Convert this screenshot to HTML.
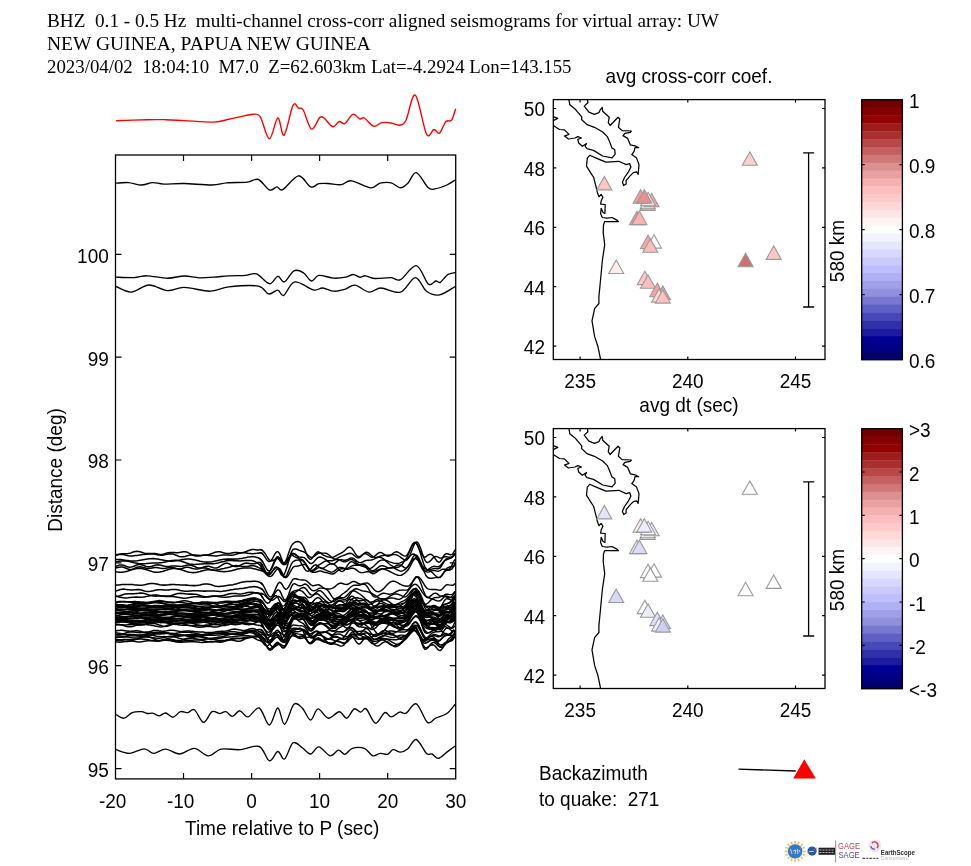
<!DOCTYPE html>
<html><head><meta charset="utf-8"><style>
html,body{margin:0;padding:0;background:#fff;width:971px;height:866px;overflow:hidden}
svg{display:block;will-change:transform}
text{white-space:pre}
</style></head><body>
<svg width="971" height="866" viewBox="0 0 971 866">
<text x="47.0" y="27.4" font-family="'Liberation Serif'" font-size="19" text-anchor="start" textLength="672" lengthAdjust="spacingAndGlyphs">BHZ  0.1 - 0.5 Hz  multi-channel cross-corr aligned seismograms for virtual array: UW</text>
<text x="47.0" y="50.3" font-family="'Liberation Serif'" font-size="19" text-anchor="start" textLength="323.5" lengthAdjust="spacingAndGlyphs">NEW GUINEA, PAPUA NEW GUINEA</text>
<text x="47.0" y="73.2" font-family="'Liberation Serif'" font-size="19" text-anchor="start" textLength="524.5" lengthAdjust="spacingAndGlyphs">2023/04/02  18:04:10  M7.0  Z=62.603km Lat=-4.2924 Lon=143.155</text>
<path d="M116.1,120.8 C121.3,120.6 138.8,119.9 147.1,119.7 C155.3,119.5 159.4,119.6 165.6,119.7 C171.8,119.8 176.2,120.2 184.2,120.6 C192.2,121.0 206.4,122.3 213.8,122.1 C221.2,121.9 224.4,120.2 228.7,119.3 C233.0,118.4 235.8,117.7 239.8,116.9 C243.8,116.1 249.4,114.3 252.8,114.3 C256.2,114.3 257.4,112.8 260.2,116.9 C263.0,121.0 266.5,138.6 269.4,138.8 C272.3,139.0 275.4,118.6 277.8,118.0 C280.2,117.4 281.6,137.2 284.1,135.1 C286.6,133.0 290.6,109.9 293.0,105.4 C295.4,100.9 296.8,107.4 298.5,108.2 C300.2,109.0 301.0,106.5 303.2,110.0 C305.4,113.5 308.7,127.9 311.5,129.1 C314.3,130.3 317.7,119.2 319.9,117.4 C322.1,115.6 322.4,116.9 324.5,118.4 C326.6,120.0 330.3,126.2 332.8,126.7 C335.3,127.2 337.3,122.0 339.3,121.5 C341.3,121.0 342.6,124.8 344.9,123.6 C347.2,122.4 350.4,115.1 352.9,114.3 C355.4,113.5 357.8,118.3 359.7,118.9 C361.6,119.5 362.1,116.8 364.4,118.0 C366.7,119.2 370.7,125.4 373.6,126.2 C376.5,127.0 379.1,123.1 382.0,122.6 C384.9,122.1 388.3,122.6 391.2,123.0 C394.1,123.4 397.1,125.7 399.6,125.2 C402.1,124.7 403.4,125.2 406.0,120.2 C408.6,115.2 411.9,92.9 415.3,95.2 C418.7,97.5 423.4,128.4 426.5,134.1 C429.6,139.8 431.8,129.7 433.9,129.5 C436.0,129.3 437.4,134.5 439.4,133.2 C441.4,131.9 443.9,123.7 445.9,121.5 C447.9,119.3 449.9,122.3 451.5,120.2 C453.1,118.1 455.0,110.6 455.7,108.7" stroke="#ff0000" stroke-width="1.4" fill="none"/>
<rect x="115.5" y="155.0" width="340.2" height="623.9" fill="none" stroke="#000" stroke-width="1.3"/>
<text x="112.7" y="807.5" font-family="'Liberation Sans'" font-size="20.3" text-anchor="middle"  textLength="27.47" lengthAdjust="spacingAndGlyphs">-20</text>
<text x="180.7" y="807.5" font-family="'Liberation Sans'" font-size="20.3" text-anchor="middle"  textLength="27.47" lengthAdjust="spacingAndGlyphs">-10</text>
<text x="251.6" y="807.5" font-family="'Liberation Sans'" font-size="20.3" text-anchor="middle"  textLength="10.58" lengthAdjust="spacingAndGlyphs">0</text>
<text x="319.6" y="807.5" font-family="'Liberation Sans'" font-size="20.3" text-anchor="middle"  textLength="21.14" lengthAdjust="spacingAndGlyphs">10</text>
<text x="387.7" y="807.5" font-family="'Liberation Sans'" font-size="20.3" text-anchor="middle"  textLength="21.14" lengthAdjust="spacingAndGlyphs">20</text>
<text x="455.7" y="807.5" font-family="'Liberation Sans'" font-size="20.3" text-anchor="middle"  textLength="21.14" lengthAdjust="spacingAndGlyphs">30</text>
<text x="108.8" y="262.6" font-family="'Liberation Sans'" font-size="20.3" text-anchor="end"  textLength="31.70" lengthAdjust="spacingAndGlyphs">100</text>
<text x="108.8" y="365.5" font-family="'Liberation Sans'" font-size="20.3" text-anchor="end"  textLength="21.14" lengthAdjust="spacingAndGlyphs">99</text>
<text x="108.8" y="468.3" font-family="'Liberation Sans'" font-size="20.3" text-anchor="end"  textLength="21.14" lengthAdjust="spacingAndGlyphs">98</text>
<text x="108.8" y="571.2" font-family="'Liberation Sans'" font-size="20.3" text-anchor="end"  textLength="21.14" lengthAdjust="spacingAndGlyphs">97</text>
<text x="108.8" y="674.0" font-family="'Liberation Sans'" font-size="20.3" text-anchor="end"  textLength="21.14" lengthAdjust="spacingAndGlyphs">96</text>
<text x="108.8" y="776.9" font-family="'Liberation Sans'" font-size="20.3" text-anchor="end"  textLength="21.14" lengthAdjust="spacingAndGlyphs">95</text>
<path d="M183.5,155.0 v6 M183.5,778.9 v-6 M251.6,155.0 v6 M251.6,778.9 v-6 M319.6,155.0 v6 M319.6,778.9 v-6 M387.7,155.0 v6 M387.7,778.9 v-6 M115.5,254.3 h6 M455.7,254.3 h-6 M115.5,357.2 h6 M455.7,357.2 h-6 M115.5,460.0 h6 M455.7,460.0 h-6 M115.5,562.9 h6 M455.7,562.9 h-6 M115.5,665.7 h6 M455.7,665.7 h-6 M115.5,768.6 h6 M455.7,768.6 h-6" stroke="#000" stroke-width="1.2" fill="none"/>
<text x="185.0" y="835.2" font-family="'Liberation Sans'" font-size="20.3" text-anchor="start"  textLength="194.28" lengthAdjust="spacingAndGlyphs">Time relative to P (sec)</text>
<text x="61.5" y="470.0" font-family="'Liberation Sans'" font-size="20.3" text-anchor="middle" transform="rotate(-90 61.5 470.0)" textLength="123.56" lengthAdjust="spacingAndGlyphs">Distance (deg)</text>
<g stroke="#000" stroke-width="1.35" fill="none" stroke-linejoin="round">
<path d="M116.1,183.2 C118.2,183.1 124.3,182.3 128.5,182.6 C132.7,182.9 137.5,185.0 141.5,185.0 C145.5,185.0 148.9,182.8 152.6,182.6 C156.3,182.4 158.5,183.9 163.8,184.1 C169.1,184.2 176.2,183.3 184.2,183.5 C192.2,183.7 204.9,185.1 212.0,185.0 C219.1,184.9 220.9,183.3 226.8,182.8 C232.7,182.3 241.9,182.8 247.2,182.2 C252.4,181.6 254.6,178.2 258.3,179.5 C262.0,180.8 266.3,188.8 269.4,190.0 C272.5,191.2 274.7,187.0 276.9,186.9 C279.1,186.8 279.2,191.5 282.8,189.7 C286.4,187.8 293.9,176.3 298.5,175.8 C303.1,175.3 307.2,185.6 310.6,186.9 C314.0,188.2 316.0,184.3 318.9,183.7 C321.8,183.1 324.5,183.3 328.2,183.5 C331.9,183.7 337.3,185.1 341.2,184.7 C345.1,184.2 346.5,180.3 351.4,180.8 C356.3,181.3 366.0,187.4 370.8,187.8 C375.6,188.2 376.7,184.0 380.1,183.2 C383.5,182.4 387.8,182.0 391.2,182.8 C394.6,183.6 397.7,187.7 400.5,187.8 C403.3,187.9 405.3,185.7 407.9,183.2 C410.5,180.7 412.9,171.8 416.3,172.6 C419.7,173.4 425.1,185.1 428.3,187.8 C431.5,190.5 432.6,189.2 435.7,188.7 C438.8,188.2 443.6,186.4 446.9,185.0 C450.1,183.6 453.8,180.8 455.2,180.0"/>
<path d="M116.1,277.2 C119.1,277.3 128.9,277.8 134.1,277.6 C139.3,277.4 141.5,275.7 147.1,275.8 C152.7,275.9 161.3,278.2 167.5,278.2 C173.7,278.2 178.9,276.1 184.2,276.0 C189.4,275.9 194.1,277.6 199.0,277.8 C203.9,278.0 208.9,277.5 213.8,277.2 C218.8,276.9 223.4,276.1 228.7,275.8 C233.9,275.5 240.7,275.7 245.3,275.4 C249.9,275.1 252.5,272.5 256.5,273.9 C260.5,275.3 265.8,283.3 269.4,283.7 C272.9,284.1 275.3,276.6 277.8,276.3 C280.3,276.0 281.6,282.8 284.3,281.9 C287.0,281.0 290.8,272.4 293.9,270.8 C297.0,269.2 300.3,270.9 303.2,272.6 C306.1,274.3 308.9,280.5 311.5,281.0 C314.1,281.5 315.2,275.9 318.9,275.4 C322.6,274.9 329.3,277.9 333.8,278.2 C338.3,278.5 342.6,277.8 345.8,277.2 C349.0,276.6 350.9,274.5 353.2,274.5 C355.5,274.5 357.7,277.0 359.7,277.2 C361.7,277.4 362.8,275.6 365.3,275.8 C367.8,276.0 370.3,278.2 374.6,278.5 C378.9,278.8 386.9,277.4 391.2,277.6 C395.5,277.8 396.3,281.7 400.5,279.7 C404.7,277.7 411.7,264.9 416.3,265.6 C420.9,266.3 425.1,281.5 428.3,284.1 C431.5,286.7 433.7,281.3 435.7,281.0 C437.7,280.7 438.4,283.4 440.4,282.3 C442.4,281.2 445.3,276.1 447.8,274.5 C450.3,272.9 454.0,272.9 455.2,272.6"/>
<path d="M116.1,286.5 C118.6,287.4 125.8,292.4 131.3,292.1 C136.8,291.9 142.9,285.2 148.9,285.0 C154.9,284.8 161.6,290.2 167.5,290.6 C173.4,291.0 177.1,287.3 184.2,287.4 C191.3,287.5 202.7,291.3 210.1,291.2 C217.5,291.1 220.7,287.8 228.7,286.9 C236.7,286.0 251.7,284.9 258.3,286.1 C264.9,287.3 265.2,293.2 268.5,293.9 C271.8,294.6 275.3,289.9 277.8,290.2 C280.3,290.4 280.9,296.8 283.7,295.4 C286.5,294.0 289.9,282.8 294.8,281.9 C299.8,281.0 308.8,288.9 313.4,289.9 C318.0,290.9 319.2,287.8 322.6,288.0 C326.0,288.2 330.1,291.0 333.8,291.2 C337.5,291.4 341.3,290.3 344.9,289.3 C348.4,288.3 351.1,284.7 355.1,285.2 C359.1,285.7 364.7,291.6 369.0,292.1 C373.3,292.6 375.8,288.0 381.0,288.0 C386.2,288.0 394.8,293.8 400.5,292.1 C406.2,290.4 411.0,277.8 415.3,277.6 C419.6,277.5 422.5,288.3 426.5,291.2 C430.5,294.1 434.6,295.7 439.4,294.9 C444.2,294.1 452.6,287.9 455.2,286.5"/>
<path d="M116.1,714.5 C117.4,715.1 121.2,718.5 123.9,718.2 C126.6,717.9 129.3,713.7 132.2,712.6 C135.1,711.5 139.0,711.6 141.5,711.7 C144.0,711.9 145.2,713.2 147.1,713.5 C148.9,713.8 150.6,712.8 152.6,713.2 C154.6,713.6 156.9,715.8 159.1,715.8 C161.3,715.8 163.3,712.8 165.6,713.0 C167.9,713.2 170.5,717.4 173.0,717.2 C175.5,717.0 177.9,712.5 180.4,711.7 C182.9,710.9 185.6,712.9 187.9,712.6 C190.2,712.3 191.8,708.2 194.4,709.8 C197.0,711.4 200.7,722.1 203.6,722.4 C206.5,722.7 209.4,713.2 212.0,711.7 C214.6,710.2 217.1,713.5 219.4,713.5 C221.7,713.5 223.7,711.2 225.9,711.7 C228.1,712.2 230.1,716.4 232.4,716.3 C234.7,716.1 237.2,710.7 239.8,710.8 C242.4,710.9 244.9,717.4 248.1,716.9 C251.3,716.4 255.6,706.6 259.2,708.0 C262.8,709.4 266.3,725.0 269.4,725.0 C272.5,725.0 275.3,708.1 277.8,708.0 C280.3,707.9 281.9,724.9 284.6,724.3 C287.3,723.7 291.0,707.0 293.9,704.3 C296.8,701.6 299.4,705.4 302.2,708.0 C305.0,710.6 308.0,719.9 310.6,720.0 C313.2,720.1 315.1,709.2 318.0,708.9 C320.9,708.6 324.6,717.7 328.2,718.2 C331.8,718.7 336.2,711.7 339.3,711.7 C342.4,711.7 344.2,718.7 346.7,718.2 C349.2,717.7 351.9,709.9 354.2,708.9 C356.5,707.9 358.6,712.1 360.6,712.1 C362.6,712.1 363.7,707.0 366.2,708.9 C368.7,710.8 372.4,722.6 375.5,723.2 C378.6,723.8 382.1,713.7 384.7,712.6 C387.3,711.5 388.7,717.0 391.2,716.9 C393.7,716.8 397.1,712.7 399.6,712.1 C402.1,711.5 403.3,714.6 406.1,713.2 C408.9,711.8 412.8,702.4 416.3,703.9 C419.9,705.4 424.2,720.0 427.4,722.4 C430.6,724.8 432.4,719.7 435.7,718.2 C438.9,716.7 443.6,715.8 446.9,713.5 C450.1,711.2 453.8,705.8 455.2,704.3"/>
<path d="M116.1,749.7 C118.3,750.3 124.8,753.5 129.5,753.4 C134.2,753.2 140.3,748.8 144.3,748.8 C148.3,748.8 150.1,753.3 153.6,753.4 C157.1,753.5 161.3,749.0 165.6,749.1 C169.9,749.2 174.7,754.1 179.5,754.0 C184.3,753.9 189.6,748.1 194.4,748.4 C199.2,748.7 203.8,755.7 208.3,755.8 C212.8,755.9 215.9,750.1 221.2,749.1 C226.4,748.1 233.5,750.1 239.8,749.7 C246.1,749.3 254.3,744.6 259.2,746.5 C264.1,748.4 266.3,760.0 269.4,760.8 C272.5,761.6 275.3,751.8 277.8,751.5 C280.3,751.2 282.1,760.5 284.6,759.0 C287.1,757.5 290.1,744.7 293.0,742.8 C295.9,740.9 299.3,745.9 302.2,747.8 C305.1,749.7 307.8,754.1 310.6,754.0 C313.4,753.9 315.6,746.6 318.9,746.9 C322.1,747.2 326.9,755.2 330.1,755.8 C333.4,756.3 335.9,750.5 338.4,750.2 C340.9,750.0 342.6,754.6 344.9,754.3 C347.2,754.0 349.1,749.4 352.3,748.4 C355.6,747.4 361.0,747.2 364.4,748.4 C367.8,749.6 370.1,755.0 372.7,755.8 C375.3,756.6 377.6,753.6 380.1,753.4 C382.6,753.1 385.3,754.9 387.5,754.3 C389.7,753.7 390.9,750.1 393.1,749.7 C395.3,749.3 398.0,752.2 400.5,752.1 C403.0,752.0 405.3,750.9 407.9,748.8 C410.5,746.7 413.2,738.7 416.3,739.5 C419.4,740.3 423.9,751.0 426.5,753.4 C429.1,755.8 430.0,753.2 432.0,754.0 C434.0,754.8 436.0,758.7 438.5,758.4 C441.0,758.1 444.1,754.2 446.9,752.1 C449.7,750.0 453.8,747.0 455.2,746.0"/>
<g stroke-width="1.55"><path d="M116.0,554.8 L117.5,554.5 L119.0,554.2 L120.5,553.9 L122.0,553.8 L123.5,553.8 L125.0,553.8 L126.5,553.8 L128.0,553.6 L129.5,553.3 L131.0,552.9 L132.5,552.3 L134.0,551.8 L135.5,551.4 L137.0,551.3 L138.5,551.4 L140.0,551.7 L141.5,552.2 L143.0,552.8 L144.5,553.2 L146.0,553.5 L147.5,553.6 L149.0,553.6 L150.5,553.5 L152.0,553.4 L153.5,553.4 L155.0,553.6 L156.5,553.8 L158.0,554.1 L159.5,554.3 L161.0,554.4 L162.5,554.3 L164.0,554.0 L165.5,553.5 L167.0,553.0 L168.5,552.7 L170.0,552.4 L171.5,552.4 L173.0,552.5 L174.5,552.6 L176.0,552.7 L177.5,552.7 L179.0,552.5 L180.5,552.3 L182.0,552.0 L183.5,551.8 L185.0,551.8 L186.5,552.1 L188.0,552.6 L189.5,553.4 L191.0,554.2 L192.5,555.0 L194.0,555.5 L195.5,555.9 L197.0,556.0 L198.5,555.9 L200.0,555.7 L201.5,555.4 L203.0,555.2 L204.5,555.1 L206.0,555.0 L207.5,554.8 L209.0,554.5 L210.5,554.1 L212.0,553.5 L213.5,552.9 L215.0,552.3 L216.5,551.9 L218.0,551.7 L219.5,551.7 L221.0,552.0 L222.5,552.5 L224.0,552.9 L225.5,553.3 L227.0,553.5 L228.5,553.5 L230.0,553.4 L231.5,553.1 L233.0,552.8 L234.5,552.6 L236.0,552.5 L237.5,552.6 L239.0,552.7 L240.5,552.8 L242.0,552.7 L243.5,552.5 L245.0,552.0 L246.5,551.4 L248.0,550.8 L249.5,550.2 L251.0,549.8 L252.5,549.5 L254.0,549.5 L255.5,549.7 L257.0,549.9 L258.5,549.9 L260.0,549.6 L261.5,549.9 L263.0,550.9"/>
<path d="M116.0,555.3 L117.5,554.9 L119.0,554.5 L120.5,554.4 L122.0,554.4 L123.5,554.6 L125.0,555.0 L126.5,555.3 L128.0,555.7 L129.5,555.9 L131.0,556.0 L132.5,556.0 L134.0,555.8 L135.5,555.6 L137.0,555.4 L138.5,555.2 L140.0,555.0 L141.5,554.8 L143.0,554.6 L144.5,554.4 L146.0,554.3 L147.5,554.1 L149.0,553.9 L150.5,553.9 L152.0,553.9 L153.5,554.0 L155.0,554.3 L156.5,554.6 L158.0,554.9 L159.5,555.1 L161.0,555.2 L162.5,555.2 L164.0,555.0 L165.5,554.6 L167.0,554.3 L168.5,554.0 L170.0,553.8 L171.5,553.9 L173.0,554.1 L174.5,554.6 L176.0,555.2 L177.5,555.8 L179.0,556.4 L180.5,556.7 L182.0,556.8 L183.5,556.7 L185.0,556.4 L186.5,556.0 L188.0,555.6 L189.5,555.3 L191.0,555.0 L192.5,555.0 L194.0,555.0 L195.5,555.1 L197.0,555.2 L198.5,555.3 L200.0,555.4 L201.5,555.4 L203.0,555.3 L204.5,555.2 L206.0,555.2 L207.5,555.2 L209.0,555.4 L210.5,555.5 L212.0,555.7 L213.5,555.8 L215.0,555.9 L216.5,555.9 L218.0,555.7 L219.5,555.5 L221.0,555.3 L222.5,555.1 L224.0,554.9 L225.5,554.9 L227.0,555.0 L228.5,555.1 L230.0,555.2 L231.5,555.2 L233.0,555.0 L234.5,554.7 L236.0,554.3 L237.5,553.8 L239.0,553.3 L240.5,552.9 L242.0,552.7 L243.5,552.6 L245.0,552.7 L246.5,552.9 L248.0,553.2 L249.5,553.4 L251.0,553.6 L252.5,553.7 L254.0,553.6 L255.5,553.4 L257.0,553.2 L258.5,552.9 L260.0,552.7 L261.5,552.9 L263.0,554.3"/>
<path d="M116.0,559.4 L117.5,559.4 L119.0,559.5 L120.5,559.6 L122.0,559.8 L123.5,560.0 L125.0,560.2 L126.5,560.4 L128.0,560.6 L129.5,560.8 L131.0,560.9 L132.5,560.9 L134.0,560.9 L135.5,560.9 L137.0,560.8 L138.5,560.6 L140.0,560.3 L141.5,560.1 L143.0,559.8 L144.5,559.5 L146.0,559.2 L147.5,559.0 L149.0,558.8 L150.5,558.7 L152.0,558.6 L153.5,558.6 L155.0,558.7 L156.5,558.9 L158.0,559.1 L159.5,559.4 L161.0,559.7 L162.5,560.0 L164.0,560.3 L165.5,560.6 L167.0,560.8 L168.5,561.0 L170.0,561.1 L171.5,561.1 L173.0,561.1 L174.5,561.0 L176.0,560.8 L177.5,560.5 L179.0,560.2 L180.5,559.9 L182.0,559.6 L183.5,559.4 L185.0,559.2 L186.5,559.0 L188.0,559.0 L189.5,559.0 L191.0,559.2 L192.5,559.4 L194.0,559.7 L195.5,560.1 L197.0,560.4 L198.5,560.8 L200.0,561.2 L201.5,561.5 L203.0,561.8 L204.5,562.0 L206.0,562.1 L207.5,562.1 L209.0,562.0 L210.5,561.9 L212.0,561.7 L213.5,561.4 L215.0,561.1 L216.5,560.8 L218.0,560.4 L219.5,560.1 L221.0,559.8 L222.5,559.5 L224.0,559.3 L225.5,559.2 L227.0,559.1 L228.5,559.1 L230.0,559.1 L231.5,559.1 L233.0,559.1 L234.5,559.1 L236.0,559.0 L237.5,558.9 L239.0,558.8 L240.5,558.6 L242.0,558.4 L243.5,558.1 L245.0,557.8 L246.5,557.4 L248.0,557.1 L249.5,556.9 L251.0,556.7 L252.5,556.6 L254.0,556.7 L255.5,556.9 L257.0,557.4 L258.5,558.0 L260.0,558.8 L261.5,560.1 L263.0,562.4"/>
<path d="M116.0,561.7 L117.5,561.5 L119.0,561.2 L120.5,561.0 L122.0,560.9 L123.5,560.8 L125.0,560.9 L126.5,561.0 L128.0,561.2 L129.5,561.5 L131.0,561.9 L132.5,562.3 L134.0,562.7 L135.5,563.0 L137.0,563.3 L138.5,563.6 L140.0,563.7 L141.5,563.8 L143.0,563.8 L144.5,563.7 L146.0,563.6 L147.5,563.4 L149.0,563.3 L150.5,563.2 L152.0,563.1 L153.5,563.0 L155.0,563.0 L156.5,562.9 L158.0,562.9 L159.5,562.8 L161.0,562.7 L162.5,562.5 L164.0,562.2 L165.5,561.9 L167.0,561.6 L168.5,561.3 L170.0,560.9 L171.5,560.6 L173.0,560.4 L174.5,560.3 L176.0,560.3 L177.5,560.5 L179.0,560.7 L180.5,561.1 L182.0,561.6 L183.5,562.1 L185.0,562.6 L186.5,563.1 L188.0,563.5 L189.5,563.9 L191.0,564.2 L192.5,564.3 L194.0,564.4 L195.5,564.4 L197.0,564.3 L198.5,564.2 L200.0,564.1 L201.5,564.0 L203.0,563.9 L204.5,563.8 L206.0,563.8 L207.5,563.8 L209.0,563.8 L210.5,563.8 L212.0,563.7 L213.5,563.7 L215.0,563.5 L216.5,563.2 L218.0,562.9 L219.5,562.5 L221.0,562.1 L222.5,561.7 L224.0,561.4 L225.5,561.0 L227.0,560.8 L228.5,560.6 L230.0,560.5 L231.5,560.5 L233.0,560.6 L234.5,560.6 L236.0,560.7 L237.5,560.8 L239.0,560.9 L240.5,560.9 L242.0,560.8 L243.5,560.7 L245.0,560.6 L246.5,560.5 L248.0,560.5 L249.5,560.4 L251.0,560.5 L252.5,560.8 L254.0,561.2 L255.5,561.9 L257.0,562.8 L258.5,563.8 L260.0,564.9 L261.5,566.8 L263.0,569.1"/>
<path d="M116.0,566.3 L117.5,565.7 L119.0,565.1 L120.5,564.9 L122.0,564.9 L123.5,565.2 L125.0,565.8 L126.5,566.4 L128.0,566.9 L129.5,567.2 L131.0,567.1 L132.5,566.7 L134.0,566.2 L135.5,565.5 L137.0,564.9 L138.5,564.5 L140.0,564.5 L141.5,564.7 L143.0,565.2 L144.5,565.8 L146.0,566.4 L147.5,566.7 L149.0,566.8 L150.5,566.6 L152.0,566.2 L153.5,565.7 L155.0,565.2 L156.5,564.9 L158.0,564.8 L159.5,564.9 L161.0,565.3 L162.5,565.7 L164.0,566.1 L165.5,566.4 L167.0,566.5 L168.5,566.4 L170.0,566.3 L171.5,566.1 L173.0,566.0 L174.5,566.0 L176.0,566.0 L177.5,566.2 L179.0,566.3 L180.5,566.4 L182.0,566.3 L183.5,566.0 L185.0,565.7 L186.5,565.3 L188.0,565.1 L189.5,565.0 L191.0,565.2 L192.5,565.7 L194.0,566.3 L195.5,567.0 L197.0,567.5 L198.5,567.9 L200.0,567.9 L201.5,567.7 L203.0,567.3 L204.5,566.8 L206.0,566.4 L207.5,566.2 L209.0,566.3 L210.5,566.7 L212.0,567.2 L213.5,567.7 L215.0,568.0 L216.5,567.9 L218.0,567.5 L219.5,566.7 L221.0,565.7 L222.5,564.7 L224.0,563.8 L225.5,563.3 L227.0,563.2 L228.5,563.6 L230.0,564.3 L231.5,565.2 L233.0,565.9 L234.5,566.5 L236.0,566.6 L237.5,566.4 L239.0,565.9 L240.5,565.2 L242.0,564.4 L243.5,563.7 L245.0,563.3 L246.5,563.1 L248.0,563.2 L249.5,563.4 L251.0,563.7 L252.5,563.8 L254.0,563.8 L255.5,563.5 L257.0,562.9 L258.5,562.3 L260.0,562.4 L261.5,563.8 L263.0,566.3"/>
<path d="M116.0,568.1 L117.5,567.6 L119.0,567.2 L120.5,566.9 L122.0,566.9 L123.5,567.2 L125.0,567.8 L126.5,568.5 L128.0,569.1 L129.5,569.5 L131.0,569.5 L132.5,569.2 L134.0,568.6 L135.5,567.9 L137.0,567.3 L138.5,566.9 L140.0,566.8 L141.5,567.0 L143.0,567.4 L144.5,567.8 L146.0,568.2 L147.5,568.4 L149.0,568.3 L150.5,568.2 L152.0,567.9 L153.5,567.7 L155.0,567.5 L156.5,567.6 L158.0,567.8 L159.5,568.1 L161.0,568.3 L162.5,568.4 L164.0,568.4 L165.5,568.2 L167.0,567.9 L168.5,567.7 L170.0,567.5 L171.5,567.6 L173.0,567.8 L174.5,568.1 L176.0,568.5 L177.5,568.8 L179.0,568.9 L180.5,568.7 L182.0,568.4 L183.5,568.0 L185.0,567.6 L186.5,567.3 L188.0,567.3 L189.5,567.5 L191.0,567.9 L192.5,568.4 L194.0,568.8 L195.5,569.0 L197.0,569.0 L198.5,568.8 L200.0,568.5 L201.5,568.1 L203.0,567.9 L204.5,567.9 L206.0,568.1 L207.5,568.5 L209.0,569.0 L210.5,569.5 L212.0,570.0 L213.5,570.2 L215.0,570.3 L216.5,570.1 L218.0,569.8 L219.5,569.5 L221.0,569.1 L222.5,568.8 L224.0,568.5 L225.5,568.1 L227.0,567.8 L228.5,567.4 L230.0,567.0 L231.5,566.5 L233.0,566.1 L234.5,565.8 L236.0,565.6 L237.5,565.7 L239.0,565.9 L240.5,566.1 L242.0,566.4 L243.5,566.6 L245.0,566.6 L246.5,566.5 L248.0,566.3 L249.5,566.0 L251.0,565.7 L252.5,565.6 L254.0,565.8 L255.5,566.2 L257.0,566.8 L258.5,567.6 L260.0,568.2 L261.5,568.8 L263.0,569.9"/>
<path d="M116.0,571.8 L117.5,572.1 L119.0,572.2 L120.5,572.2 L122.0,572.2 L123.5,572.0 L125.0,571.8 L126.5,571.4 L128.0,571.0 L129.5,570.5 L131.0,570.1 L132.5,569.6 L134.0,569.2 L135.5,568.8 L137.0,568.6 L138.5,568.5 L140.0,568.5 L141.5,568.6 L143.0,568.8 L144.5,569.2 L146.0,569.6 L147.5,570.1 L149.0,570.6 L150.5,571.1 L152.0,571.6 L153.5,571.9 L155.0,572.2 L156.5,572.3 L158.0,572.3 L159.5,572.1 L161.0,571.8 L162.5,571.5 L164.0,571.0 L165.5,570.5 L167.0,570.0 L168.5,569.5 L170.0,569.0 L171.5,568.7 L173.0,568.5 L174.5,568.4 L176.0,568.5 L177.5,568.7 L179.0,569.0 L180.5,569.4 L182.0,569.9 L183.5,570.5 L185.0,571.0 L186.5,571.5 L188.0,571.9 L189.5,572.3 L191.0,572.5 L192.5,572.6 L194.0,572.6 L195.5,572.4 L197.0,572.2 L198.5,571.8 L200.0,571.5 L201.5,571.1 L203.0,570.7 L204.5,570.3 L206.0,570.0 L207.5,569.8 L209.0,569.8 L210.5,569.8 L212.0,569.9 L213.5,570.1 L215.0,570.4 L216.5,570.7 L218.0,571.0 L219.5,571.2 L221.0,571.5 L222.5,571.6 L224.0,571.7 L225.5,571.6 L227.0,571.5 L228.5,571.3 L230.0,571.0 L231.5,570.7 L233.0,570.3 L234.5,569.9 L236.0,569.5 L237.5,569.1 L239.0,568.8 L240.5,568.5 L242.0,568.3 L243.5,568.1 L245.0,568.0 L246.5,567.9 L248.0,567.9 L249.5,568.0 L251.0,568.1 L252.5,568.4 L254.0,568.7 L255.5,569.0 L257.0,569.5 L258.5,569.9 L260.0,570.3 L261.5,570.6 L263.0,571.2"/>
<path d="M116.0,585.3 L117.5,585.1 L119.0,584.9 L120.5,584.7 L122.0,584.6 L123.5,584.5 L125.0,584.5 L126.5,584.4 L128.0,584.4 L129.5,584.4 L131.0,584.5 L132.5,584.6 L134.0,584.8 L135.5,584.9 L137.0,585.1 L138.5,585.3 L140.0,585.3 L141.5,585.3 L143.0,585.1 L144.5,584.8 L146.0,584.4 L147.5,584.0 L149.0,583.7 L150.5,583.5 L152.0,583.4 L153.5,583.5 L155.0,583.7 L156.5,584.0 L158.0,584.3 L159.5,584.7 L161.0,584.9 L162.5,585.1 L164.0,585.1 L165.5,585.1 L167.0,584.9 L168.5,584.8 L170.0,584.6 L171.5,584.6 L173.0,584.5 L174.5,584.6 L176.0,584.7 L177.5,584.7 L179.0,584.8 L180.5,584.9 L182.0,585.0 L183.5,585.0 L185.0,585.1 L186.5,585.1 L188.0,585.2 L189.5,585.4 L191.0,585.5 L192.5,585.6 L194.0,585.6 L195.5,585.6 L197.0,585.5 L198.5,585.2 L200.0,584.9 L201.5,584.5 L203.0,584.2 L204.5,584.0 L206.0,583.9 L207.5,584.0 L209.0,584.2 L210.5,584.6 L212.0,585.0 L213.5,585.5 L215.0,585.9 L216.5,586.2 L218.0,586.4 L219.5,586.4 L221.0,586.3 L222.5,586.2 L224.0,585.9 L225.5,585.7 L227.0,585.5 L228.5,585.3 L230.0,585.1 L231.5,584.9 L233.0,584.7 L234.5,584.3 L236.0,583.9 L237.5,583.5 L239.0,583.1 L240.5,582.6 L242.0,582.3 L243.5,582.0 L245.0,581.8 L246.5,581.6 L248.0,581.5 L249.5,581.4 L251.0,581.4 L252.5,581.3 L254.0,581.3 L255.5,581.3 L257.0,581.5 L258.5,581.8 L260.0,582.4 L261.5,583.4 L263.0,585.0"/>
<path d="M116.0,590.9 L117.5,590.4 L119.0,589.9 L120.5,589.4 L122.0,589.2 L123.5,589.1 L125.0,589.3 L126.5,589.4 L128.0,589.7 L129.5,589.8 L131.0,589.9 L132.5,589.9 L134.0,589.8 L135.5,589.7 L137.0,589.6 L138.5,589.6 L140.0,589.8 L141.5,590.1 L143.0,590.5 L144.5,590.9 L146.0,591.2 L147.5,591.4 L149.0,591.5 L150.5,591.3 L152.0,591.0 L153.5,590.7 L155.0,590.3 L156.5,590.0 L158.0,589.7 L159.5,589.7 L161.0,589.7 L162.5,589.8 L164.0,589.9 L165.5,590.0 L167.0,590.0 L168.5,589.9 L170.0,589.7 L171.5,589.6 L173.0,589.5 L174.5,589.4 L176.0,589.5 L177.5,589.8 L179.0,590.1 L180.5,590.5 L182.0,590.8 L183.5,591.1 L185.0,591.3 L186.5,591.3 L188.0,591.3 L189.5,591.1 L191.0,591.0 L192.5,590.8 L194.0,590.7 L195.5,590.7 L197.0,590.7 L198.5,590.8 L200.0,590.9 L201.5,591.0 L203.0,591.1 L204.5,591.1 L206.0,591.1 L207.5,591.0 L209.0,590.9 L210.5,590.9 L212.0,590.9 L213.5,590.9 L215.0,591.1 L216.5,591.2 L218.0,591.3 L219.5,591.4 L221.0,591.4 L222.5,591.3 L224.0,591.1 L225.5,590.9 L227.0,590.6 L228.5,590.4 L230.0,590.1 L231.5,589.8 L233.0,589.6 L234.5,589.3 L236.0,589.1 L237.5,588.9 L239.0,588.8 L240.5,588.6 L242.0,588.5 L243.5,588.3 L245.0,588.0 L246.5,587.7 L248.0,587.4 L249.5,587.1 L251.0,586.9 L252.5,586.7 L254.0,586.6 L255.5,586.7 L257.0,587.0 L258.5,587.5 L260.0,588.1 L261.5,588.8 L263.0,590.2"/>
<path d="M116.0,596.5 L117.5,596.3 L119.0,596.0 L120.5,595.5 L122.0,595.0 L123.5,594.5 L125.0,594.1 L126.5,593.9 L128.0,593.7 L129.5,593.7 L131.0,593.7 L132.5,593.7 L134.0,593.7 L135.5,593.6 L137.0,593.4 L138.5,593.3 L140.0,593.1 L141.5,593.1 L143.0,593.2 L144.5,593.5 L146.0,593.9 L147.5,594.4 L149.0,595.0 L150.5,595.5 L152.0,595.8 L153.5,596.0 L155.0,596.1 L156.5,596.1 L158.0,596.0 L159.5,595.9 L161.0,595.9 L162.5,595.9 L164.0,596.0 L165.5,596.1 L167.0,596.1 L168.5,596.0 L170.0,595.8 L171.5,595.5 L173.0,595.0 L174.5,594.5 L176.0,594.0 L177.5,593.6 L179.0,593.4 L180.5,593.3 L182.0,593.4 L183.5,593.6 L185.0,593.8 L186.5,594.0 L188.0,594.1 L189.5,594.1 L191.0,594.1 L192.5,594.1 L194.0,594.2 L195.5,594.3 L197.0,594.6 L198.5,595.0 L200.0,595.4 L201.5,595.9 L203.0,596.3 L204.5,596.6 L206.0,596.8 L207.5,596.8 L209.0,596.6 L210.5,596.4 L212.0,596.1 L213.5,596.0 L215.0,595.9 L216.5,595.9 L218.0,595.9 L219.5,595.9 L221.0,595.8 L222.5,595.6 L224.0,595.3 L225.5,594.9 L227.0,594.5 L228.5,594.1 L230.0,593.7 L231.5,593.5 L233.0,593.4 L234.5,593.5 L236.0,593.6 L237.5,593.8 L239.0,593.9 L240.5,593.9 L242.0,593.8 L243.5,593.5 L245.0,593.2 L246.5,592.8 L248.0,592.5 L249.5,592.3 L251.0,592.2 L252.5,592.3 L254.0,592.5 L255.5,592.9 L257.0,593.3 L258.5,593.6 L260.0,593.6 L261.5,593.5 L263.0,594.0"/>
<path d="M116.0,596.1 L117.5,596.5 L119.0,596.9 L120.5,597.2 L122.0,597.6 L123.5,597.8 L125.0,597.9 L126.5,597.9 L128.0,597.8 L129.5,597.6 L131.0,597.4 L132.5,597.3 L134.0,597.2 L135.5,597.1 L137.0,597.1 L138.5,597.2 L140.0,597.2 L141.5,597.2 L143.0,597.1 L144.5,596.9 L146.0,596.6 L147.5,596.3 L149.0,595.9 L150.5,595.5 L152.0,595.2 L153.5,595.0 L155.0,595.0 L156.5,595.1 L158.0,595.3 L159.5,595.6 L161.0,595.9 L162.5,596.1 L164.0,596.3 L165.5,596.5 L167.0,596.5 L168.5,596.5 L170.0,596.5 L171.5,596.5 L173.0,596.5 L174.5,596.7 L176.0,596.9 L177.5,597.2 L179.0,597.5 L180.5,597.8 L182.0,598.0 L183.5,598.2 L185.0,598.2 L186.5,598.1 L188.0,597.8 L189.5,597.6 L191.0,597.3 L192.5,597.0 L194.0,596.8 L195.5,596.7 L197.0,596.7 L198.5,596.8 L200.0,596.9 L201.5,597.1 L203.0,597.2 L204.5,597.2 L206.0,597.1 L207.5,596.9 L209.0,596.8 L210.5,596.5 L212.0,596.4 L213.5,596.3 L215.0,596.3 L216.5,596.3 L218.0,596.5 L219.5,596.7 L221.0,596.9 L222.5,597.1 L224.0,597.2 L225.5,597.2 L227.0,597.1 L228.5,596.9 L230.0,596.7 L231.5,596.4 L233.0,596.2 L234.5,596.0 L236.0,595.9 L237.5,595.9 L239.0,595.9 L240.5,596.0 L242.0,595.9 L243.5,595.8 L245.0,595.7 L246.5,595.3 L248.0,594.9 L249.5,594.4 L251.0,593.9 L252.5,593.4 L254.0,593.0 L255.5,592.8 L257.0,592.8 L258.5,593.0 L260.0,593.9 L261.5,595.8 L263.0,598.2"/>
<path d="M116.0,601.9 L117.5,601.7 L119.0,601.6 L120.5,601.5 L122.0,601.5 L123.5,601.6 L125.0,601.6 L126.5,601.7 L128.0,601.7 L129.5,601.7 L131.0,601.7 L132.5,601.7 L134.0,601.6 L135.5,601.6 L137.0,601.7 L138.5,601.7 L140.0,601.9 L141.5,602.0 L143.0,602.1 L144.5,602.3 L146.0,602.4 L147.5,602.4 L149.0,602.3 L150.5,602.1 L152.0,601.8 L153.5,601.5 L155.0,601.2 L156.5,600.9 L158.0,600.7 L159.5,600.6 L161.0,600.7 L162.5,600.9 L164.0,601.2 L165.5,601.6 L167.0,602.0 L168.5,602.4 L170.0,602.7 L171.5,602.8 L173.0,602.9 L174.5,602.7 L176.0,602.5 L177.5,602.1 L179.0,601.7 L180.5,601.3 L182.0,601.0 L183.5,600.8 L185.0,600.8 L186.5,601.0 L188.0,601.3 L189.5,601.7 L191.0,602.1 L192.5,602.6 L194.0,603.0 L195.5,603.3 L197.0,603.5 L198.5,603.6 L200.0,603.6 L201.5,603.5 L203.0,603.3 L204.5,603.1 L206.0,602.9 L207.5,602.7 L209.0,602.6 L210.5,602.6 L212.0,602.5 L213.5,602.5 L215.0,602.5 L216.5,602.4 L218.0,602.3 L219.5,602.1 L221.0,601.9 L222.5,601.7 L224.0,601.5 L225.5,601.3 L227.0,601.2 L228.5,601.2 L230.0,601.3 L231.5,601.4 L233.0,601.4 L234.5,601.5 L236.0,601.5 L237.5,601.4 L239.0,601.2 L240.5,601.0 L242.0,600.6 L243.5,600.1 L245.0,599.6 L246.5,599.2 L248.0,598.7 L249.5,598.4 L251.0,598.2 L252.5,598.1 L254.0,598.1 L255.5,598.4 L257.0,598.8 L258.5,599.3 L260.0,599.8 L261.5,600.6 L263.0,602.5"/>
<path d="M116.0,602.4 L117.5,602.2 L119.0,602.0 L120.5,601.9 L122.0,601.8 L123.5,601.8 L125.0,601.8 L126.5,601.9 L128.0,602.0 L129.5,602.1 L131.0,602.2 L132.5,602.2 L134.0,602.3 L135.5,602.4 L137.0,602.5 L138.5,602.6 L140.0,602.6 L141.5,602.7 L143.0,602.7 L144.5,602.7 L146.0,602.7 L147.5,602.7 L149.0,602.5 L150.5,602.4 L152.0,602.2 L153.5,602.1 L155.0,601.9 L156.5,601.8 L158.0,601.7 L159.5,601.6 L161.0,601.6 L162.5,601.7 L164.0,601.8 L165.5,601.9 L167.0,602.0 L168.5,602.0 L170.0,602.1 L171.5,602.1 L173.0,602.2 L174.5,602.2 L176.0,602.2 L177.5,602.2 L179.0,602.3 L180.5,602.4 L182.0,602.6 L183.5,602.8 L185.0,603.1 L186.5,603.3 L188.0,603.5 L189.5,603.6 L191.0,603.7 L192.5,603.6 L194.0,603.5 L195.5,603.3 L197.0,603.0 L198.5,602.7 L200.0,602.4 L201.5,602.1 L203.0,602.0 L204.5,601.9 L206.0,601.9 L207.5,602.0 L209.0,602.2 L210.5,602.4 L212.0,602.6 L213.5,602.9 L215.0,603.0 L216.5,603.1 L218.0,603.2 L219.5,603.1 L221.0,603.0 L222.5,602.9 L224.0,602.7 L225.5,602.6 L227.0,602.5 L228.5,602.3 L230.0,602.2 L231.5,602.1 L233.0,602.0 L234.5,601.9 L236.0,601.7 L237.5,601.5 L239.0,601.3 L240.5,601.1 L242.0,600.9 L243.5,600.6 L245.0,600.4 L246.5,600.2 L248.0,600.0 L249.5,599.8 L251.0,599.7 L252.5,599.7 L254.0,599.7 L255.5,599.7 L257.0,599.8 L258.5,599.9 L260.0,600.2 L261.5,601.3 L263.0,602.9"/>
<path d="M116.0,604.1 L117.5,604.5 L119.0,604.9 L120.5,605.3 L122.0,605.5 L123.5,605.6 L125.0,605.6 L126.5,605.4 L128.0,605.2 L129.5,604.9 L131.0,604.5 L132.5,604.1 L134.0,603.8 L135.5,603.5 L137.0,603.3 L138.5,603.2 L140.0,603.2 L141.5,603.3 L143.0,603.4 L144.5,603.5 L146.0,603.5 L147.5,603.5 L149.0,603.4 L150.5,603.2 L152.0,602.9 L153.5,602.7 L155.0,602.4 L156.5,602.3 L158.0,602.2 L159.5,602.4 L161.0,602.6 L162.5,603.0 L164.0,603.4 L165.5,603.9 L167.0,604.3 L168.5,604.6 L170.0,604.9 L171.5,605.1 L173.0,605.1 L174.5,605.1 L176.0,605.1 L177.5,605.0 L179.0,604.9 L180.5,604.8 L182.0,604.7 L183.5,604.6 L185.0,604.5 L186.5,604.3 L188.0,604.1 L189.5,604.0 L191.0,603.8 L192.5,603.7 L194.0,603.7 L195.5,603.7 L197.0,603.8 L198.5,604.0 L200.0,604.1 L201.5,604.1 L203.0,604.1 L204.5,604.0 L206.0,603.7 L207.5,603.5 L209.0,603.3 L210.5,603.1 L212.0,603.2 L213.5,603.4 L215.0,603.8 L216.5,604.3 L218.0,604.9 L219.5,605.5 L221.0,605.9 L222.5,606.1 L224.0,606.0 L225.5,605.7 L227.0,605.1 L228.5,604.3 L230.0,603.5 L231.5,602.8 L233.0,602.3 L234.5,602.0 L236.0,602.1 L237.5,602.3 L239.0,602.6 L240.5,602.9 L242.0,603.1 L243.5,603.1 L245.0,602.7 L246.5,602.1 L248.0,601.3 L249.5,600.4 L251.0,599.4 L252.5,598.6 L254.0,598.2 L255.5,598.2 L257.0,598.7 L258.5,599.9 L260.0,602.2 L261.5,605.4 L263.0,608.8"/>
<path d="M116.0,604.7 L117.5,605.0 L119.0,605.2 L120.5,605.3 L122.0,605.4 L123.5,605.5 L125.0,605.5 L126.5,605.4 L128.0,605.3 L129.5,605.1 L131.0,604.9 L132.5,604.6 L134.0,604.4 L135.5,604.1 L137.0,603.8 L138.5,603.5 L140.0,603.2 L141.5,603.0 L143.0,602.8 L144.5,602.6 L146.0,602.5 L147.5,602.4 L149.0,602.4 L150.5,602.4 L152.0,602.4 L153.5,602.5 L155.0,602.6 L156.5,602.8 L158.0,602.9 L159.5,603.1 L161.0,603.3 L162.5,603.5 L164.0,603.8 L165.5,604.0 L167.0,604.2 L168.5,604.5 L170.0,604.7 L171.5,604.9 L173.0,605.1 L174.5,605.2 L176.0,605.3 L177.5,605.4 L179.0,605.4 L180.5,605.3 L182.0,605.2 L183.5,605.0 L185.0,604.8 L186.5,604.5 L188.0,604.2 L189.5,603.9 L191.0,603.6 L192.5,603.4 L194.0,603.1 L195.5,603.0 L197.0,602.9 L198.5,602.8 L200.0,602.9 L201.5,603.0 L203.0,603.2 L204.5,603.5 L206.0,603.8 L207.5,604.2 L209.0,604.6 L210.5,605.0 L212.0,605.4 L213.5,605.8 L215.0,606.1 L216.5,606.3 L218.0,606.3 L219.5,606.3 L221.0,606.1 L222.5,605.8 L224.0,605.5 L225.5,605.1 L227.0,604.6 L228.5,604.1 L230.0,603.6 L231.5,603.2 L233.0,602.8 L234.5,602.4 L236.0,602.0 L237.5,601.8 L239.0,601.5 L240.5,601.4 L242.0,601.3 L243.5,601.2 L245.0,601.1 L246.5,601.0 L248.0,601.0 L249.5,601.0 L251.0,601.0 L252.5,601.1 L254.0,601.1 L255.5,601.3 L257.0,601.5 L258.5,601.7 L260.0,602.0 L261.5,602.2 L263.0,603.0"/>
<path d="M116.0,605.5 L117.5,605.1 L119.0,604.8 L120.5,604.7 L122.0,604.8 L123.5,605.0 L125.0,605.4 L126.5,605.8 L128.0,606.1 L129.5,606.4 L131.0,606.6 L132.5,606.5 L134.0,606.4 L135.5,606.1 L137.0,605.7 L138.5,605.3 L140.0,605.0 L141.5,604.7 L143.0,604.6 L144.5,604.7 L146.0,604.9 L147.5,605.2 L149.0,605.5 L150.5,605.9 L152.0,606.3 L153.5,606.5 L155.0,606.7 L156.5,606.7 L158.0,606.6 L159.5,606.5 L161.0,606.2 L162.5,605.9 L164.0,605.7 L165.5,605.5 L167.0,605.3 L168.5,605.3 L170.0,605.3 L171.5,605.3 L173.0,605.4 L174.5,605.5 L176.0,605.6 L177.5,605.6 L179.0,605.6 L180.5,605.5 L182.0,605.5 L183.5,605.4 L185.0,605.3 L186.5,605.3 L188.0,605.3 L189.5,605.4 L191.0,605.5 L192.5,605.7 L194.0,606.0 L195.5,606.2 L197.0,606.5 L198.5,606.8 L200.0,607.0 L201.5,607.2 L203.0,607.4 L204.5,607.6 L206.0,607.7 L207.5,607.7 L209.0,607.7 L210.5,607.7 L212.0,607.6 L213.5,607.5 L215.0,607.3 L216.5,607.0 L218.0,606.7 L219.5,606.3 L221.0,606.0 L222.5,605.6 L224.0,605.3 L225.5,605.0 L227.0,604.8 L228.5,604.7 L230.0,604.6 L231.5,604.6 L233.0,604.5 L234.5,604.4 L236.0,604.3 L237.5,604.2 L239.0,604.0 L240.5,603.7 L242.0,603.5 L243.5,603.2 L245.0,602.9 L246.5,602.7 L248.0,602.6 L249.5,602.6 L251.0,602.7 L252.5,603.0 L254.0,603.4 L255.5,604.0 L257.0,604.7 L258.5,605.3 L260.0,605.8 L261.5,606.9 L263.0,608.7"/>
<path d="M116.0,606.9 L117.5,606.8 L119.0,606.7 L120.5,606.6 L122.0,606.7 L123.5,606.8 L125.0,606.9 L126.5,606.9 L128.0,606.9 L129.5,606.7 L131.0,606.4 L132.5,606.0 L134.0,605.6 L135.5,605.2 L137.0,605.0 L138.5,604.9 L140.0,604.9 L141.5,605.1 L143.0,605.4 L144.5,605.7 L146.0,606.0 L147.5,606.2 L149.0,606.2 L150.5,606.1 L152.0,605.9 L153.5,605.6 L155.0,605.5 L156.5,605.4 L158.0,605.4 L159.5,605.6 L161.0,605.8 L162.5,606.1 L164.0,606.4 L165.5,606.7 L167.0,606.9 L168.5,607.0 L170.0,607.1 L171.5,607.2 L173.0,607.2 L174.5,607.3 L176.0,607.3 L177.5,607.3 L179.0,607.3 L180.5,607.1 L182.0,606.9 L183.5,606.6 L185.0,606.3 L186.5,606.0 L188.0,605.7 L189.5,605.5 L191.0,605.5 L192.5,605.6 L194.0,605.8 L195.5,606.0 L197.0,606.2 L198.5,606.3 L200.0,606.3 L201.5,606.3 L203.0,606.2 L204.5,606.0 L206.0,605.9 L207.5,605.9 L209.0,606.0 L210.5,606.2 L212.0,606.5 L213.5,606.8 L215.0,607.1 L216.5,607.2 L218.0,607.2 L219.5,607.2 L221.0,607.0 L222.5,606.9 L224.0,606.8 L225.5,606.7 L227.0,606.8 L228.5,606.8 L230.0,606.9 L231.5,606.9 L233.0,606.8 L234.5,606.5 L236.0,606.1 L237.5,605.6 L239.0,605.0 L240.5,604.4 L242.0,603.9 L243.5,603.6 L245.0,603.4 L246.5,603.4 L248.0,603.5 L249.5,603.7 L251.0,603.9 L252.5,604.1 L254.0,604.2 L255.5,604.3 L257.0,604.3 L258.5,604.2 L260.0,604.5 L261.5,605.6 L263.0,607.2"/>
<path d="M116.0,606.0 L117.5,606.3 L119.0,606.5 L120.5,606.8 L122.0,607.1 L123.5,607.4 L125.0,607.6 L126.5,607.7 L128.0,607.8 L129.5,607.8 L131.0,607.7 L132.5,607.5 L134.0,607.3 L135.5,607.0 L137.0,606.7 L138.5,606.5 L140.0,606.2 L141.5,606.1 L143.0,606.0 L144.5,606.0 L146.0,606.1 L147.5,606.3 L149.0,606.5 L150.5,606.8 L152.0,607.0 L153.5,607.3 L155.0,607.5 L156.5,607.6 L158.0,607.6 L159.5,607.5 L161.0,607.4 L162.5,607.2 L164.0,606.9 L165.5,606.7 L167.0,606.4 L168.5,606.1 L170.0,606.0 L171.5,605.8 L173.0,605.8 L174.5,605.8 L176.0,605.8 L177.5,605.8 L179.0,605.9 L180.5,606.0 L182.0,606.1 L183.5,606.2 L185.0,606.3 L186.5,606.4 L188.0,606.5 L189.5,606.7 L191.0,606.9 L192.5,607.1 L194.0,607.4 L195.5,607.7 L197.0,608.1 L198.5,608.4 L200.0,608.7 L201.5,608.9 L203.0,609.0 L204.5,609.0 L206.0,608.8 L207.5,608.6 L209.0,608.3 L210.5,607.9 L212.0,607.4 L213.5,607.0 L215.0,606.6 L216.5,606.3 L218.0,606.0 L219.5,605.9 L221.0,605.9 L222.5,605.9 L224.0,606.1 L225.5,606.3 L227.0,606.5 L228.5,606.6 L230.0,606.8 L231.5,606.8 L233.0,606.8 L234.5,606.6 L236.0,606.3 L237.5,606.0 L239.0,605.6 L240.5,605.3 L242.0,604.9 L243.5,604.5 L245.0,604.3 L246.5,604.1 L248.0,604.0 L249.5,604.0 L251.0,604.2 L252.5,604.5 L254.0,604.9 L255.5,605.4 L257.0,606.1 L258.5,606.8 L260.0,607.5 L261.5,608.3 L263.0,609.6"/>
<path d="M116.0,606.3 L117.5,606.1 L119.0,605.9 L120.5,605.9 L122.0,605.9 L123.5,606.0 L125.0,606.2 L126.5,606.4 L128.0,606.7 L129.5,606.9 L131.0,607.2 L132.5,607.4 L134.0,607.6 L135.5,607.7 L137.0,607.8 L138.5,607.9 L140.0,607.9 L141.5,607.9 L143.0,607.9 L144.5,607.9 L146.0,607.8 L147.5,607.7 L149.0,607.6 L150.5,607.5 L152.0,607.3 L153.5,607.1 L155.0,607.0 L156.5,606.8 L158.0,606.6 L159.5,606.4 L161.0,606.2 L162.5,606.1 L164.0,606.0 L165.5,605.9 L167.0,605.9 L168.5,606.0 L170.0,606.1 L171.5,606.2 L173.0,606.4 L174.5,606.6 L176.0,606.9 L177.5,607.1 L179.0,607.3 L180.5,607.4 L182.0,607.6 L183.5,607.7 L185.0,607.8 L186.5,607.9 L188.0,608.0 L189.5,608.1 L191.0,608.2 L192.5,608.3 L194.0,608.5 L195.5,608.6 L197.0,608.7 L198.5,608.8 L200.0,608.8 L201.5,608.8 L203.0,608.7 L204.5,608.5 L206.0,608.3 L207.5,608.1 L209.0,607.8 L210.5,607.5 L212.0,607.2 L213.5,606.9 L215.0,606.6 L216.5,606.4 L218.0,606.3 L219.5,606.2 L221.0,606.2 L222.5,606.3 L224.0,606.5 L225.5,606.7 L227.0,606.9 L228.5,607.1 L230.0,607.3 L231.5,607.4 L233.0,607.4 L234.5,607.2 L236.0,607.0 L237.5,606.7 L239.0,606.3 L240.5,605.9 L242.0,605.4 L243.5,605.0 L245.0,604.6 L246.5,604.3 L248.0,604.0 L249.5,603.9 L251.0,603.8 L252.5,604.0 L254.0,604.2 L255.5,604.6 L257.0,605.1 L258.5,605.5 L260.0,606.1 L261.5,607.6 L263.0,609.6"/>
<path d="M116.0,608.4 L117.5,608.0 L119.0,607.6 L120.5,607.3 L122.0,607.1 L123.5,607.1 L125.0,607.1 L126.5,607.2 L128.0,607.4 L129.5,607.6 L131.0,607.8 L132.5,608.0 L134.0,608.2 L135.5,608.4 L137.0,608.5 L138.5,608.6 L140.0,608.6 L141.5,608.7 L143.0,608.6 L144.5,608.6 L146.0,608.4 L147.5,608.3 L149.0,608.0 L150.5,607.8 L152.0,607.5 L153.5,607.3 L155.0,607.1 L156.5,606.9 L158.0,606.8 L159.5,606.9 L161.0,607.1 L162.5,607.4 L164.0,607.8 L165.5,608.2 L167.0,608.7 L168.5,609.1 L170.0,609.4 L171.5,609.6 L173.0,609.6 L174.5,609.5 L176.0,609.2 L177.5,608.8 L179.0,608.3 L180.5,607.8 L182.0,607.4 L183.5,607.0 L185.0,606.9 L186.5,606.9 L188.0,607.1 L189.5,607.5 L191.0,608.0 L192.5,608.6 L194.0,609.2 L195.5,609.7 L197.0,610.1 L198.5,610.2 L200.0,610.2 L201.5,610.1 L203.0,609.7 L204.5,609.2 L206.0,608.7 L207.5,608.1 L209.0,607.6 L210.5,607.2 L212.0,607.0 L213.5,606.9 L215.0,607.0 L216.5,607.2 L218.0,607.4 L219.5,607.8 L221.0,608.1 L222.5,608.5 L224.0,608.8 L225.5,609.1 L227.0,609.3 L228.5,609.4 L230.0,609.4 L231.5,609.4 L233.0,609.3 L234.5,609.2 L236.0,608.9 L237.5,608.6 L239.0,608.2 L240.5,607.8 L242.0,607.3 L243.5,606.7 L245.0,606.1 L246.5,605.5 L248.0,605.0 L249.5,604.5 L251.0,604.1 L252.5,603.8 L254.0,603.6 L255.5,603.7 L257.0,604.1 L258.5,604.7 L260.0,605.5 L261.5,606.5 L263.0,607.9"/>
<path d="M116.0,609.5 L117.5,609.3 L119.0,609.2 L120.5,609.1 L122.0,609.1 L123.5,609.2 L125.0,609.2 L126.5,609.1 L128.0,609.0 L129.5,608.8 L131.0,608.6 L132.5,608.5 L134.0,608.4 L135.5,608.5 L137.0,608.7 L138.5,609.0 L140.0,609.4 L141.5,609.7 L143.0,609.9 L144.5,610.0 L146.0,610.0 L147.5,609.8 L149.0,609.6 L150.5,609.3 L152.0,609.1 L153.5,608.9 L155.0,608.9 L156.5,608.9 L158.0,608.9 L159.5,608.9 L161.0,608.9 L162.5,608.8 L164.0,608.6 L165.5,608.4 L167.0,608.3 L168.5,608.2 L170.0,608.2 L171.5,608.4 L173.0,608.7 L174.5,609.1 L176.0,609.5 L177.5,609.9 L179.0,610.2 L180.5,610.3 L182.0,610.4 L183.5,610.3 L185.0,610.1 L186.5,610.0 L188.0,609.9 L189.5,609.9 L191.0,609.9 L192.5,610.0 L194.0,610.1 L195.5,610.1 L197.0,610.1 L198.5,609.9 L200.0,609.7 L201.5,609.5 L203.0,609.3 L204.5,609.1 L206.0,609.1 L207.5,609.3 L209.0,609.5 L210.5,609.8 L212.0,610.2 L213.5,610.5 L215.0,610.6 L216.5,610.6 L218.0,610.4 L219.5,610.1 L221.0,609.8 L222.5,609.6 L224.0,609.3 L225.5,609.2 L227.0,609.1 L228.5,609.1 L230.0,609.0 L231.5,608.9 L233.0,608.6 L234.5,608.3 L236.0,607.9 L237.5,607.4 L239.0,607.0 L240.5,606.6 L242.0,606.4 L243.5,606.3 L245.0,606.3 L246.5,606.4 L248.0,606.6 L249.5,606.8 L251.0,606.9 L252.5,607.0 L254.0,607.0 L255.5,607.1 L257.0,607.2 L258.5,607.4 L260.0,608.4 L261.5,610.5 L263.0,613.3"/>
<path d="M116.0,609.6 L117.5,609.6 L119.0,609.7 L120.5,609.7 L122.0,609.8 L123.5,609.8 L125.0,609.9 L126.5,609.8 L128.0,609.8 L129.5,609.7 L131.0,609.7 L132.5,609.6 L134.0,609.6 L135.5,609.6 L137.0,609.6 L138.5,609.7 L140.0,609.8 L141.5,609.9 L143.0,610.1 L144.5,610.2 L146.0,610.3 L147.5,610.3 L149.0,610.3 L150.5,610.2 L152.0,610.1 L153.5,609.9 L155.0,609.8 L156.5,609.6 L158.0,609.5 L159.5,609.4 L161.0,609.4 L162.5,609.4 L164.0,609.4 L165.5,609.5 L167.0,609.5 L168.5,609.6 L170.0,609.7 L171.5,609.7 L173.0,609.7 L174.5,609.7 L176.0,609.6 L177.5,609.6 L179.0,609.5 L180.5,609.5 L182.0,609.5 L183.5,609.5 L185.0,609.6 L186.5,609.8 L188.0,610.1 L189.5,610.3 L191.0,610.6 L192.5,610.9 L194.0,611.1 L195.5,611.3 L197.0,611.3 L198.5,611.3 L200.0,611.2 L201.5,611.0 L203.0,610.8 L204.5,610.5 L206.0,610.3 L207.5,610.0 L209.0,609.9 L210.5,609.8 L212.0,609.7 L213.5,609.8 L215.0,609.8 L216.5,609.9 L218.0,610.0 L219.5,610.1 L221.0,610.1 L222.5,610.1 L224.0,610.0 L225.5,609.9 L227.0,609.7 L228.5,609.5 L230.0,609.4 L231.5,609.2 L233.0,609.1 L234.5,609.0 L236.0,608.9 L237.5,608.9 L239.0,609.0 L240.5,609.1 L242.0,609.1 L243.5,609.1 L245.0,609.1 L246.5,609.1 L248.0,609.0 L249.5,608.8 L251.0,608.6 L252.5,608.3 L254.0,608.0 L255.5,607.7 L257.0,607.4 L258.5,607.1 L260.0,606.9 L261.5,607.2 L263.0,608.4"/>
<path d="M116.0,610.1 L117.5,610.2 L119.0,610.4 L120.5,610.7 L122.0,611.0 L123.5,611.3 L125.0,611.6 L126.5,611.8 L128.0,612.0 L129.5,612.1 L131.0,612.2 L132.5,612.1 L134.0,611.9 L135.5,611.7 L137.0,611.4 L138.5,611.1 L140.0,610.8 L141.5,610.5 L143.0,610.2 L144.5,610.0 L146.0,609.9 L147.5,609.8 L149.0,609.8 L150.5,609.9 L152.0,610.1 L153.5,610.3 L155.0,610.5 L156.5,610.8 L158.0,611.1 L159.5,611.4 L161.0,611.6 L162.5,611.8 L164.0,611.9 L165.5,612.0 L167.0,612.0 L168.5,611.9 L170.0,611.8 L171.5,611.6 L173.0,611.4 L174.5,611.1 L176.0,610.9 L177.5,610.6 L179.0,610.4 L180.5,610.3 L182.0,610.1 L183.5,610.1 L185.0,610.1 L186.5,610.2 L188.0,610.4 L189.5,610.7 L191.0,611.0 L192.5,611.3 L194.0,611.7 L195.5,612.0 L197.0,612.4 L198.5,612.7 L200.0,612.9 L201.5,613.0 L203.0,613.1 L204.5,613.0 L206.0,612.9 L207.5,612.7 L209.0,612.4 L210.5,612.0 L212.0,611.6 L213.5,611.3 L215.0,610.9 L216.5,610.5 L218.0,610.2 L219.5,610.0 L221.0,609.8 L222.5,609.8 L224.0,609.8 L225.5,610.0 L227.0,610.2 L228.5,610.5 L230.0,610.8 L231.5,611.1 L233.0,611.3 L234.5,611.5 L236.0,611.5 L237.5,611.4 L239.0,611.3 L240.5,611.0 L242.0,610.6 L243.5,610.1 L245.0,609.5 L246.5,608.9 L248.0,608.4 L249.5,607.8 L251.0,607.3 L252.5,607.0 L254.0,606.8 L255.5,606.8 L257.0,607.1 L258.5,607.6 L260.0,608.7 L261.5,610.9 L263.0,613.6"/>
<path d="M116.0,612.0 L117.5,612.2 L119.0,612.3 L120.5,612.3 L122.0,612.3 L123.5,612.2 L125.0,612.0 L126.5,611.8 L128.0,611.6 L129.5,611.3 L131.0,611.0 L132.5,610.8 L134.0,610.6 L135.5,610.5 L137.0,610.4 L138.5,610.5 L140.0,610.5 L141.5,610.6 L143.0,610.8 L144.5,610.9 L146.0,611.0 L147.5,611.1 L149.0,611.2 L150.5,611.3 L152.0,611.3 L153.5,611.3 L155.0,611.4 L156.5,611.4 L158.0,611.5 L159.5,611.6 L161.0,611.7 L162.5,611.8 L164.0,611.9 L165.5,612.0 L167.0,612.1 L168.5,612.1 L170.0,612.1 L171.5,612.0 L173.0,611.8 L174.5,611.6 L176.0,611.4 L177.5,611.2 L179.0,611.0 L180.5,610.9 L182.0,610.8 L183.5,610.8 L185.0,610.8 L186.5,611.0 L188.0,611.1 L189.5,611.4 L191.0,611.6 L192.5,611.8 L194.0,612.1 L195.5,612.2 L197.0,612.3 L198.5,612.4 L200.0,612.4 L201.5,612.4 L203.0,612.3 L204.5,612.3 L206.0,612.3 L207.5,612.3 L209.0,612.4 L210.5,612.4 L212.0,612.5 L213.5,612.6 L215.0,612.6 L216.5,612.6 L218.0,612.5 L219.5,612.3 L221.0,612.0 L222.5,611.7 L224.0,611.3 L225.5,610.9 L227.0,610.5 L228.5,610.1 L230.0,609.8 L231.5,609.6 L233.0,609.4 L234.5,609.3 L236.0,609.4 L237.5,609.5 L239.0,609.6 L240.5,609.8 L242.0,609.9 L243.5,610.0 L245.0,610.1 L246.5,610.2 L248.0,610.2 L249.5,610.2 L251.0,610.1 L252.5,610.1 L254.0,610.1 L255.5,610.1 L257.0,610.0 L258.5,610.2 L260.0,611.3 L261.5,613.0 L263.0,614.8"/>
<path d="M116.0,613.4 L117.5,613.3 L119.0,613.2 L120.5,613.1 L122.0,613.0 L123.5,612.9 L125.0,612.8 L126.5,612.6 L128.0,612.5 L129.5,612.4 L131.0,612.4 L132.5,612.4 L134.0,612.5 L135.5,612.6 L137.0,612.8 L138.5,613.1 L140.0,613.4 L141.5,613.8 L143.0,614.1 L144.5,614.4 L146.0,614.6 L147.5,614.7 L149.0,614.7 L150.5,614.5 L152.0,614.3 L153.5,613.9 L155.0,613.5 L156.5,613.0 L158.0,612.6 L159.5,612.1 L161.0,611.8 L162.5,611.5 L164.0,611.4 L165.5,611.3 L167.0,611.4 L168.5,611.6 L170.0,611.9 L171.5,612.2 L173.0,612.5 L174.5,612.9 L176.0,613.2 L177.5,613.5 L179.0,613.7 L180.5,613.8 L182.0,614.0 L183.5,614.0 L185.0,614.0 L186.5,614.1 L188.0,614.1 L189.5,614.1 L191.0,614.1 L192.5,614.2 L194.0,614.2 L195.5,614.2 L197.0,614.2 L198.5,614.2 L200.0,614.1 L201.5,614.0 L203.0,613.9 L204.5,613.8 L206.0,613.6 L207.5,613.5 L209.0,613.4 L210.5,613.3 L212.0,613.2 L213.5,613.2 L215.0,613.2 L216.5,613.3 L218.0,613.3 L219.5,613.3 L221.0,613.3 L222.5,613.3 L224.0,613.3 L225.5,613.2 L227.0,613.1 L228.5,612.9 L230.0,612.8 L231.5,612.7 L233.0,612.6 L234.5,612.5 L236.0,612.4 L237.5,612.4 L239.0,612.4 L240.5,612.4 L242.0,612.4 L243.5,612.4 L245.0,612.3 L246.5,612.2 L248.0,612.0 L249.5,611.8 L251.0,611.6 L252.5,611.3 L254.0,610.9 L255.5,610.6 L257.0,610.3 L258.5,610.0 L260.0,609.9 L261.5,610.1 L263.0,611.1"/>
<path d="M116.0,613.4 L117.5,613.2 L119.0,613.0 L120.5,612.9 L122.0,613.0 L123.5,613.1 L125.0,613.4 L126.5,613.7 L128.0,614.0 L129.5,614.4 L131.0,614.7 L132.5,615.0 L134.0,615.2 L135.5,615.3 L137.0,615.3 L138.5,615.2 L140.0,615.0 L141.5,614.6 L143.0,614.3 L144.5,613.9 L146.0,613.5 L147.5,613.1 L149.0,612.8 L150.5,612.6 L152.0,612.4 L153.5,612.3 L155.0,612.3 L156.5,612.4 L158.0,612.5 L159.5,612.7 L161.0,612.9 L162.5,613.1 L164.0,613.3 L165.5,613.5 L167.0,613.8 L168.5,614.0 L170.0,614.2 L171.5,614.4 L173.0,614.6 L174.5,614.8 L176.0,614.9 L177.5,614.9 L179.0,614.9 L180.5,614.9 L182.0,614.8 L183.5,614.6 L185.0,614.5 L186.5,614.3 L188.0,614.1 L189.5,614.0 L191.0,613.8 L192.5,613.8 L194.0,613.7 L195.5,613.8 L197.0,613.9 L198.5,614.0 L200.0,614.2 L201.5,614.4 L203.0,614.5 L204.5,614.7 L206.0,614.8 L207.5,614.9 L209.0,614.9 L210.5,615.0 L212.0,614.9 L213.5,614.9 L215.0,614.9 L216.5,614.8 L218.0,614.7 L219.5,614.5 L221.0,614.4 L222.5,614.3 L224.0,614.2 L225.5,614.1 L227.0,614.0 L228.5,613.9 L230.0,613.8 L231.5,613.6 L233.0,613.3 L234.5,613.1 L236.0,612.8 L237.5,612.4 L239.0,612.1 L240.5,611.8 L242.0,611.5 L243.5,611.2 L245.0,611.0 L246.5,610.8 L248.0,610.6 L249.5,610.6 L251.0,610.5 L252.5,610.6 L254.0,610.7 L255.5,610.9 L257.0,611.1 L258.5,611.4 L260.0,611.7 L261.5,612.7 L263.0,614.7"/>
<path d="M116.0,613.7 L117.5,613.7 L119.0,613.8 L120.5,613.8 L122.0,613.9 L123.5,613.9 L125.0,613.9 L126.5,614.0 L128.0,614.0 L129.5,613.9 L131.0,613.9 L132.5,613.8 L134.0,613.7 L135.5,613.6 L137.0,613.4 L138.5,613.2 L140.0,613.1 L141.5,612.9 L143.0,612.8 L144.5,612.7 L146.0,612.7 L147.5,612.8 L149.0,612.9 L150.5,613.2 L152.0,613.5 L153.5,613.8 L155.0,614.1 L156.5,614.4 L158.0,614.6 L159.5,614.8 L161.0,614.8 L162.5,614.7 L164.0,614.5 L165.5,614.3 L167.0,614.0 L168.5,613.7 L170.0,613.4 L171.5,613.1 L173.0,612.9 L174.5,612.8 L176.0,612.8 L177.5,612.8 L179.0,612.9 L180.5,612.9 L182.0,613.0 L183.5,613.1 L185.0,613.2 L186.5,613.3 L188.0,613.4 L189.5,613.5 L191.0,613.7 L192.5,613.9 L194.0,614.1 L195.5,614.4 L197.0,614.7 L198.5,615.0 L200.0,615.3 L201.5,615.5 L203.0,615.6 L204.5,615.6 L206.0,615.5 L207.5,615.3 L209.0,615.0 L210.5,614.7 L212.0,614.3 L213.5,614.0 L215.0,613.7 L216.5,613.5 L218.0,613.4 L219.5,613.3 L221.0,613.4 L222.5,613.5 L224.0,613.7 L225.5,613.8 L227.0,613.9 L228.5,613.9 L230.0,613.8 L231.5,613.6 L233.0,613.3 L234.5,612.9 L236.0,612.5 L237.5,612.1 L239.0,611.8 L240.5,611.5 L242.0,611.3 L243.5,611.2 L245.0,611.1 L246.5,611.1 L248.0,611.1 L249.5,611.1 L251.0,611.1 L252.5,611.1 L254.0,611.1 L255.5,611.2 L257.0,611.3 L258.5,611.5 L260.0,611.9 L261.5,613.2 L263.0,615.5"/>
<path d="M116.0,616.1 L117.5,615.7 L119.0,615.2 L120.5,614.8 L122.0,614.5 L123.5,614.2 L125.0,614.1 L126.5,614.1 L128.0,614.2 L129.5,614.4 L131.0,614.6 L132.5,614.8 L134.0,615.0 L135.5,615.2 L137.0,615.2 L138.5,615.3 L140.0,615.2 L141.5,615.1 L143.0,615.1 L144.5,615.0 L146.0,615.0 L147.5,615.1 L149.0,615.2 L150.5,615.4 L152.0,615.5 L153.5,615.7 L155.0,615.8 L156.5,615.8 L158.0,615.7 L159.5,615.5 L161.0,615.3 L162.5,615.0 L164.0,614.7 L165.5,614.4 L167.0,614.2 L168.5,614.1 L170.0,614.1 L171.5,614.3 L173.0,614.5 L174.5,614.9 L176.0,615.2 L177.5,615.6 L179.0,615.9 L180.5,616.1 L182.0,616.1 L183.5,616.1 L185.0,616.0 L186.5,615.7 L188.0,615.5 L189.5,615.3 L191.0,615.1 L192.5,615.1 L194.0,615.1 L195.5,615.2 L197.0,615.4 L198.5,615.6 L200.0,615.9 L201.5,616.0 L203.0,616.2 L204.5,616.2 L206.0,616.1 L207.5,615.9 L209.0,615.7 L210.5,615.5 L212.0,615.2 L213.5,615.1 L215.0,615.0 L216.5,615.0 L218.0,615.1 L219.5,615.3 L221.0,615.5 L222.5,615.8 L224.0,616.0 L225.5,616.2 L227.0,616.3 L228.5,616.3 L230.0,616.2 L231.5,616.0 L233.0,615.6 L234.5,615.2 L236.0,614.8 L237.5,614.3 L239.0,614.0 L240.5,613.6 L242.0,613.4 L243.5,613.1 L245.0,612.9 L246.5,612.7 L248.0,612.5 L249.5,612.3 L251.0,612.0 L252.5,611.6 L254.0,611.3 L255.5,610.9 L257.0,610.7 L258.5,610.6 L260.0,610.7 L261.5,611.4 L263.0,613.4"/>
<path d="M116.0,615.5 L117.5,615.8 L119.0,616.1 L120.5,616.3 L122.0,616.4 L123.5,616.5 L125.0,616.5 L126.5,616.4 L128.0,616.3 L129.5,616.3 L131.0,616.2 L132.5,616.1 L134.0,616.1 L135.5,616.0 L137.0,616.0 L138.5,615.9 L140.0,615.8 L141.5,615.7 L143.0,615.5 L144.5,615.3 L146.0,615.2 L147.5,615.0 L149.0,614.9 L150.5,614.9 L152.0,614.9 L153.5,615.0 L155.0,615.1 L156.5,615.2 L158.0,615.3 L159.5,615.3 L161.0,615.3 L162.5,615.3 L164.0,615.2 L165.5,615.0 L167.0,614.8 L168.5,614.6 L170.0,614.5 L171.5,614.4 L173.0,614.5 L174.5,614.6 L176.0,614.8 L177.5,615.0 L179.0,615.4 L180.5,615.7 L182.0,616.1 L183.5,616.4 L185.0,616.6 L186.5,616.8 L188.0,616.9 L189.5,617.0 L191.0,617.0 L192.5,617.0 L194.0,616.9 L195.5,616.8 L197.0,616.7 L198.5,616.7 L200.0,616.6 L201.5,616.4 L203.0,616.3 L204.5,616.1 L206.0,615.9 L207.5,615.7 L209.0,615.5 L210.5,615.3 L212.0,615.2 L213.5,615.1 L215.0,615.1 L216.5,615.1 L218.0,615.2 L219.5,615.4 L221.0,615.6 L222.5,615.8 L224.0,616.1 L225.5,616.2 L227.0,616.3 L228.5,616.3 L230.0,616.2 L231.5,616.0 L233.0,615.7 L234.5,615.3 L236.0,614.9 L237.5,614.4 L239.0,614.0 L240.5,613.6 L242.0,613.2 L243.5,612.9 L245.0,612.6 L246.5,612.3 L248.0,612.1 L249.5,611.9 L251.0,611.8 L252.5,611.7 L254.0,611.8 L255.5,612.0 L257.0,612.4 L258.5,613.0 L260.0,614.0 L261.5,615.9 L263.0,618.7"/>
<path d="M116.0,617.1 L117.5,617.3 L119.0,617.5 L120.5,617.6 L122.0,617.7 L123.5,617.6 L125.0,617.5 L126.5,617.3 L128.0,617.0 L129.5,616.8 L131.0,616.5 L132.5,616.3 L134.0,616.1 L135.5,616.1 L137.0,616.0 L138.5,616.1 L140.0,616.1 L141.5,616.1 L143.0,616.1 L144.5,616.0 L146.0,616.0 L147.5,615.8 L149.0,615.7 L150.5,615.7 L152.0,615.7 L153.5,615.8 L155.0,616.0 L156.5,616.3 L158.0,616.7 L159.5,617.1 L161.0,617.4 L162.5,617.7 L164.0,617.9 L165.5,617.9 L167.0,617.7 L168.5,617.5 L170.0,617.2 L171.5,616.8 L173.0,616.5 L174.5,616.2 L176.0,616.1 L177.5,616.1 L179.0,616.2 L180.5,616.4 L182.0,616.6 L183.5,616.9 L185.0,617.2 L186.5,617.3 L188.0,617.4 L189.5,617.4 L191.0,617.3 L192.5,617.1 L194.0,616.9 L195.5,616.8 L197.0,616.8 L198.5,616.8 L200.0,617.0 L201.5,617.3 L203.0,617.6 L204.5,617.9 L206.0,618.2 L207.5,618.4 L209.0,618.4 L210.5,618.4 L212.0,618.2 L213.5,617.8 L215.0,617.4 L216.5,616.9 L218.0,616.5 L219.5,616.2 L221.0,615.9 L222.5,615.8 L224.0,615.9 L225.5,616.0 L227.0,616.2 L228.5,616.3 L230.0,616.4 L231.5,616.4 L233.0,616.4 L234.5,616.2 L236.0,615.9 L237.5,615.6 L239.0,615.3 L240.5,615.0 L242.0,614.7 L243.5,614.5 L245.0,614.3 L246.5,614.2 L248.0,614.2 L249.5,614.2 L251.0,614.2 L252.5,614.2 L254.0,614.3 L255.5,614.3 L257.0,614.3 L258.5,614.4 L260.0,615.6 L261.5,617.6 L263.0,619.9"/>
<path d="M116.0,618.5 L117.5,618.7 L119.0,618.8 L120.5,618.8 L122.0,618.8 L123.5,618.8 L125.0,618.7 L126.5,618.5 L128.0,618.4 L129.5,618.2 L131.0,618.0 L132.5,617.9 L134.0,617.8 L135.5,617.8 L137.0,617.8 L138.5,617.8 L140.0,617.9 L141.5,618.0 L143.0,618.0 L144.5,618.1 L146.0,618.2 L147.5,618.2 L149.0,618.1 L150.5,618.1 L152.0,618.0 L153.5,617.9 L155.0,617.8 L156.5,617.7 L158.0,617.7 L159.5,617.7 L161.0,617.7 L162.5,617.7 L164.0,617.9 L165.5,618.0 L167.0,618.2 L168.5,618.3 L170.0,618.5 L171.5,618.6 L173.0,618.7 L174.5,618.8 L176.0,618.8 L177.5,618.7 L179.0,618.5 L180.5,618.3 L182.0,618.0 L183.5,617.8 L185.0,617.5 L186.5,617.3 L188.0,617.1 L189.5,617.1 L191.0,617.1 L192.5,617.1 L194.0,617.3 L195.5,617.6 L197.0,617.9 L198.5,618.2 L200.0,618.6 L201.5,618.9 L203.0,619.2 L204.5,619.5 L206.0,619.7 L207.5,619.9 L209.0,619.9 L210.5,619.9 L212.0,619.8 L213.5,619.7 L215.0,619.5 L216.5,619.3 L218.0,619.1 L219.5,618.9 L221.0,618.6 L222.5,618.4 L224.0,618.2 L225.5,618.0 L227.0,617.9 L228.5,617.7 L230.0,617.6 L231.5,617.4 L233.0,617.2 L234.5,617.0 L236.0,616.7 L237.5,616.5 L239.0,616.2 L240.5,616.0 L242.0,615.7 L243.5,615.5 L245.0,615.3 L246.5,615.2 L248.0,615.2 L249.5,615.3 L251.0,615.5 L252.5,615.8 L254.0,616.3 L255.5,617.0 L257.0,617.9 L258.5,618.9 L260.0,619.9 L261.5,621.0 L263.0,622.5"/>
<path d="M116.0,617.6 L117.5,617.6 L119.0,617.6 L120.5,617.6 L122.0,617.7 L123.5,617.9 L125.0,618.1 L126.5,618.2 L128.0,618.4 L129.5,618.5 L131.0,618.6 L132.5,618.7 L134.0,618.7 L135.5,618.6 L137.0,618.5 L138.5,618.3 L140.0,618.1 L141.5,617.9 L143.0,617.7 L144.5,617.5 L146.0,617.3 L147.5,617.2 L149.0,617.1 L150.5,617.0 L152.0,617.0 L153.5,617.0 L155.0,617.0 L156.5,617.0 L158.0,617.1 L159.5,617.1 L161.0,617.1 L162.5,617.2 L164.0,617.2 L165.5,617.2 L167.0,617.2 L168.5,617.3 L170.0,617.4 L171.5,617.6 L173.0,617.7 L174.5,617.9 L176.0,618.2 L177.5,618.4 L179.0,618.6 L180.5,618.9 L182.0,619.1 L183.5,619.2 L185.0,619.3 L186.5,619.3 L188.0,619.2 L189.5,619.1 L191.0,618.9 L192.5,618.6 L194.0,618.4 L195.5,618.1 L197.0,617.8 L198.5,617.6 L200.0,617.4 L201.5,617.3 L203.0,617.3 L204.5,617.3 L206.0,617.4 L207.5,617.6 L209.0,617.8 L210.5,618.0 L212.0,618.3 L213.5,618.5 L215.0,618.6 L216.5,618.7 L218.0,618.7 L219.5,618.6 L221.0,618.5 L222.5,618.3 L224.0,618.1 L225.5,617.8 L227.0,617.6 L228.5,617.4 L230.0,617.2 L231.5,617.0 L233.0,616.9 L234.5,616.8 L236.0,616.8 L237.5,616.8 L239.0,616.8 L240.5,616.8 L242.0,616.9 L243.5,616.8 L245.0,616.8 L246.5,616.7 L248.0,616.7 L249.5,616.6 L251.0,616.4 L252.5,616.3 L254.0,616.2 L255.5,616.1 L257.0,616.0 L258.5,615.9 L260.0,615.9 L261.5,616.7 L263.0,618.0"/>
<path d="M116.0,620.9 L117.5,621.0 L119.0,620.9 L120.5,620.7 L122.0,620.3 L123.5,620.0 L125.0,619.7 L126.5,619.4 L128.0,619.1 L129.5,618.9 L131.0,618.7 L132.5,618.5 L134.0,618.2 L135.5,617.9 L137.0,617.7 L138.5,617.5 L140.0,617.5 L141.5,617.7 L143.0,618.0 L144.5,618.5 L146.0,619.0 L147.5,619.5 L149.0,619.9 L150.5,620.1 L152.0,620.1 L153.5,619.9 L155.0,619.5 L156.5,619.0 L158.0,618.5 L159.5,618.2 L161.0,618.0 L162.5,618.1 L164.0,618.3 L165.5,618.7 L167.0,619.1 L168.5,619.4 L170.0,619.5 L171.5,619.5 L173.0,619.3 L174.5,619.1 L176.0,618.8 L177.5,618.6 L179.0,618.5 L180.5,618.7 L182.0,618.9 L183.5,619.3 L185.0,619.7 L186.5,619.9 L188.0,620.1 L189.5,620.1 L191.0,619.9 L192.5,619.6 L194.0,619.3 L195.5,619.1 L197.0,619.1 L198.5,619.2 L200.0,619.5 L201.5,619.8 L203.0,620.1 L204.5,620.4 L206.0,620.4 L207.5,620.2 L209.0,619.9 L210.5,619.4 L212.0,618.9 L213.5,618.6 L215.0,618.4 L216.5,618.5 L218.0,618.7 L219.5,619.2 L221.0,619.7 L222.5,620.1 L224.0,620.4 L225.5,620.4 L227.0,620.2 L228.5,619.7 L230.0,619.2 L231.5,618.6 L233.0,618.0 L234.5,617.7 L236.0,617.5 L237.5,617.5 L239.0,617.5 L240.5,617.6 L242.0,617.6 L243.5,617.4 L245.0,617.1 L246.5,616.7 L248.0,616.2 L249.5,615.8 L251.0,615.4 L252.5,615.4 L254.0,615.7 L255.5,616.3 L257.0,617.3 L258.5,618.4 L260.0,619.5 L261.5,621.1 L263.0,622.8"/>
<path d="M116.0,619.7 L117.5,619.7 L119.0,619.7 L120.5,619.8 L122.0,619.8 L123.5,619.9 L125.0,620.0 L126.5,620.1 L128.0,620.3 L129.5,620.4 L131.0,620.5 L132.5,620.6 L134.0,620.6 L135.5,620.6 L137.0,620.6 L138.5,620.6 L140.0,620.5 L141.5,620.4 L143.0,620.2 L144.5,620.1 L146.0,619.9 L147.5,619.7 L149.0,619.6 L150.5,619.4 L152.0,619.3 L153.5,619.2 L155.0,619.1 L156.5,619.0 L158.0,619.0 L159.5,619.0 L161.0,619.1 L162.5,619.2 L164.0,619.3 L165.5,619.4 L167.0,619.6 L168.5,619.8 L170.0,619.9 L171.5,620.1 L173.0,620.3 L174.5,620.4 L176.0,620.5 L177.5,620.6 L179.0,620.7 L180.5,620.7 L182.0,620.8 L183.5,620.7 L185.0,620.7 L186.5,620.6 L188.0,620.5 L189.5,620.5 L191.0,620.4 L192.5,620.3 L194.0,620.2 L195.5,620.2 L197.0,620.2 L198.5,620.2 L200.0,620.2 L201.5,620.2 L203.0,620.3 L204.5,620.3 L206.0,620.4 L207.5,620.5 L209.0,620.6 L210.5,620.7 L212.0,620.8 L213.5,620.8 L215.0,620.9 L216.5,620.9 L218.0,620.8 L219.5,620.7 L221.0,620.6 L222.5,620.5 L224.0,620.3 L225.5,620.1 L227.0,619.9 L228.5,619.8 L230.0,619.6 L231.5,619.5 L233.0,619.3 L234.5,619.2 L236.0,619.1 L237.5,619.0 L239.0,618.8 L240.5,618.7 L242.0,618.6 L243.5,618.5 L245.0,618.3 L246.5,618.2 L248.0,618.0 L249.5,617.9 L251.0,617.7 L252.5,617.6 L254.0,617.5 L255.5,617.5 L257.0,617.5 L258.5,617.6 L260.0,617.7 L261.5,617.9 L263.0,618.9"/>
<path d="M116.0,620.6 L117.5,620.8 L119.0,621.0 L120.5,621.0 L122.0,621.0 L123.5,621.0 L125.0,620.8 L126.5,620.7 L128.0,620.7 L129.5,620.7 L131.0,620.8 L132.5,620.9 L134.0,621.1 L135.5,621.2 L137.0,621.3 L138.5,621.3 L140.0,621.2 L141.5,621.0 L143.0,620.7 L144.5,620.3 L146.0,620.0 L147.5,619.7 L149.0,619.5 L150.5,619.4 L152.0,619.4 L153.5,619.5 L155.0,619.6 L156.5,619.8 L158.0,619.9 L159.5,620.0 L161.0,620.1 L162.5,620.1 L164.0,620.1 L165.5,620.0 L167.0,620.0 L168.5,620.0 L170.0,620.0 L171.5,620.1 L173.0,620.1 L174.5,620.2 L176.0,620.3 L177.5,620.4 L179.0,620.5 L180.5,620.6 L182.0,620.7 L183.5,620.8 L185.0,621.0 L186.5,621.1 L188.0,621.3 L189.5,621.5 L191.0,621.6 L192.5,621.6 L194.0,621.6 L195.5,621.5 L197.0,621.2 L198.5,621.0 L200.0,620.7 L201.5,620.5 L203.0,620.3 L204.5,620.3 L206.0,620.4 L207.5,620.6 L209.0,620.9 L210.5,621.3 L212.0,621.5 L213.5,621.7 L215.0,621.7 L216.5,621.6 L218.0,621.3 L219.5,620.9 L221.0,620.4 L222.5,619.9 L224.0,619.5 L225.5,619.3 L227.0,619.1 L228.5,619.2 L230.0,619.3 L231.5,619.6 L233.0,619.8 L234.5,620.0 L236.0,620.1 L237.5,620.2 L239.0,620.1 L240.5,620.0 L242.0,619.8 L243.5,619.5 L245.0,619.3 L246.5,619.0 L248.0,618.7 L249.5,618.5 L251.0,618.4 L252.5,618.3 L254.0,618.2 L255.5,618.2 L257.0,618.4 L258.5,618.6 L260.0,619.0 L261.5,619.5 L263.0,620.8"/>
<path d="M116.0,621.5 L117.5,621.4 L119.0,621.3 L120.5,621.3 L122.0,621.4 L123.5,621.5 L125.0,621.5 L126.5,621.5 L128.0,621.5 L129.5,621.4 L131.0,621.2 L132.5,621.0 L134.0,620.8 L135.5,620.7 L137.0,620.6 L138.5,620.6 L140.0,620.7 L141.5,620.9 L143.0,621.1 L144.5,621.2 L146.0,621.4 L147.5,621.4 L149.0,621.3 L150.5,621.2 L152.0,621.0 L153.5,620.7 L155.0,620.4 L156.5,620.2 L158.0,620.1 L159.5,620.1 L161.0,620.3 L162.5,620.6 L164.0,620.9 L165.5,621.3 L167.0,621.7 L168.5,622.0 L170.0,622.2 L171.5,622.2 L173.0,622.0 L174.5,621.8 L176.0,621.4 L177.5,621.0 L179.0,620.6 L180.5,620.3 L182.0,620.1 L183.5,620.1 L185.0,620.3 L186.5,620.5 L188.0,621.0 L189.5,621.4 L191.0,621.9 L192.5,622.2 L194.0,622.5 L195.5,622.7 L197.0,622.7 L198.5,622.6 L200.0,622.4 L201.5,622.2 L203.0,622.0 L204.5,621.8 L206.0,621.7 L207.5,621.7 L209.0,621.7 L210.5,621.8 L212.0,621.9 L213.5,622.0 L215.0,622.0 L216.5,622.0 L218.0,621.9 L219.5,621.7 L221.0,621.4 L222.5,621.2 L224.0,620.9 L225.5,620.8 L227.0,620.7 L228.5,620.7 L230.0,620.8 L231.5,620.9 L233.0,621.0 L234.5,621.1 L236.0,621.0 L237.5,620.9 L239.0,620.6 L240.5,620.2 L242.0,619.8 L243.5,619.4 L245.0,618.9 L246.5,618.5 L248.0,618.2 L249.5,618.1 L251.0,618.2 L252.5,618.4 L254.0,618.9 L255.5,619.5 L257.0,620.1 L258.5,620.7 L260.0,621.1 L261.5,621.2 L263.0,621.1"/>
<path d="M116.0,621.0 L117.5,620.9 L119.0,620.8 L120.5,620.7 L122.0,620.7 L123.5,620.8 L125.0,620.9 L126.5,621.1 L128.0,621.4 L129.5,621.7 L131.0,622.2 L132.5,622.6 L134.0,622.9 L135.5,623.1 L137.0,623.1 L138.5,622.9 L140.0,622.5 L141.5,621.9 L143.0,621.1 L144.5,620.4 L146.0,619.8 L147.5,619.4 L149.0,619.3 L150.5,619.5 L152.0,619.9 L153.5,620.5 L155.0,621.2 L156.5,621.8 L158.0,622.3 L159.5,622.6 L161.0,622.7 L162.5,622.6 L164.0,622.4 L165.5,622.2 L167.0,621.9 L168.5,621.7 L170.0,621.6 L171.5,621.5 L173.0,621.3 L174.5,621.2 L176.0,621.0 L177.5,620.8 L179.0,620.7 L180.5,620.5 L182.0,620.5 L183.5,620.6 L185.0,620.8 L186.5,621.1 L188.0,621.5 L189.5,621.9 L191.0,622.3 L192.5,622.6 L194.0,622.8 L195.5,622.8 L197.0,622.8 L198.5,622.7 L200.0,622.5 L201.5,622.4 L203.0,622.2 L204.5,622.1 L206.0,622.0 L207.5,621.8 L209.0,621.7 L210.5,621.5 L212.0,621.4 L213.5,621.3 L215.0,621.2 L216.5,621.3 L218.0,621.5 L219.5,621.8 L221.0,622.1 L222.5,622.4 L224.0,622.6 L225.5,622.7 L227.0,622.5 L228.5,622.3 L230.0,621.8 L231.5,621.4 L233.0,620.9 L234.5,620.5 L236.0,620.3 L237.5,620.2 L239.0,620.3 L240.5,620.5 L242.0,620.7 L243.5,620.8 L245.0,620.8 L246.5,620.6 L248.0,620.2 L249.5,619.7 L251.0,619.1 L252.5,618.5 L254.0,618.1 L255.5,617.8 L257.0,617.9 L258.5,618.4 L260.0,619.3 L261.5,620.4 L263.0,621.6"/>
<path d="M116.0,622.5 L117.5,622.2 L119.0,622.0 L120.5,621.8 L122.0,621.8 L123.5,621.8 L125.0,621.9 L126.5,622.0 L128.0,622.2 L129.5,622.4 L131.0,622.6 L132.5,622.8 L134.0,622.9 L135.5,622.9 L137.0,622.9 L138.5,622.9 L140.0,622.9 L141.5,622.9 L143.0,622.8 L144.5,622.8 L146.0,622.8 L147.5,622.7 L149.0,622.6 L150.5,622.5 L152.0,622.4 L153.5,622.2 L155.0,621.9 L156.5,621.7 L158.0,621.5 L159.5,621.4 L161.0,621.3 L162.5,621.4 L164.0,621.5 L165.5,621.8 L167.0,622.1 L168.5,622.4 L170.0,622.7 L171.5,623.0 L173.0,623.3 L174.5,623.5 L176.0,623.5 L177.5,623.6 L179.0,623.5 L180.5,623.4 L182.0,623.3 L183.5,623.2 L185.0,623.0 L186.5,622.9 L188.0,622.7 L189.5,622.6 L191.0,622.5 L192.5,622.3 L194.0,622.2 L195.5,622.0 L197.0,621.9 L198.5,621.8 L200.0,621.7 L201.5,621.8 L203.0,621.9 L204.5,622.1 L206.0,622.5 L207.5,622.8 L209.0,623.2 L210.5,623.6 L212.0,624.0 L213.5,624.2 L215.0,624.4 L216.5,624.4 L218.0,624.3 L219.5,624.1 L221.0,623.9 L222.5,623.6 L224.0,623.3 L225.5,623.0 L227.0,622.7 L228.5,622.4 L230.0,622.2 L231.5,622.0 L233.0,621.7 L234.5,621.5 L236.0,621.3 L237.5,621.0 L239.0,620.8 L240.5,620.6 L242.0,620.5 L243.5,620.4 L245.0,620.3 L246.5,620.4 L248.0,620.5 L249.5,620.6 L251.0,620.8 L252.5,621.0 L254.0,621.2 L255.5,621.4 L257.0,621.6 L258.5,621.7 L260.0,621.7 L261.5,621.6 L263.0,622.0"/>
<path d="M116.0,622.8 L117.5,622.4 L119.0,622.1 L120.5,621.9 L122.0,621.8 L123.5,621.8 L125.0,621.9 L126.5,622.2 L128.0,622.5 L129.5,622.9 L131.0,623.3 L132.5,623.7 L134.0,624.2 L135.5,624.5 L137.0,624.8 L138.5,625.0 L140.0,625.0 L141.5,624.9 L143.0,624.7 L144.5,624.4 L146.0,624.1 L147.5,623.6 L149.0,623.2 L150.5,622.8 L152.0,622.4 L153.5,622.0 L155.0,621.8 L156.5,621.7 L158.0,621.6 L159.5,621.7 L161.0,621.9 L162.5,622.2 L164.0,622.5 L165.5,622.8 L167.0,623.1 L168.5,623.4 L170.0,623.6 L171.5,623.8 L173.0,623.9 L174.5,623.9 L176.0,623.9 L177.5,623.7 L179.0,623.5 L180.5,623.3 L182.0,623.1 L183.5,622.9 L185.0,622.7 L186.5,622.7 L188.0,622.7 L189.5,622.9 L191.0,623.1 L192.5,623.4 L194.0,623.8 L195.5,624.2 L197.0,624.7 L198.5,625.1 L200.0,625.5 L201.5,625.8 L203.0,625.9 L204.5,626.0 L206.0,626.0 L207.5,625.8 L209.0,625.5 L210.5,625.1 L212.0,624.7 L213.5,624.2 L215.0,623.7 L216.5,623.1 L218.0,622.6 L219.5,622.2 L221.0,621.8 L222.5,621.5 L224.0,621.4 L225.5,621.4 L227.0,621.5 L228.5,621.7 L230.0,621.9 L231.5,622.2 L233.0,622.4 L234.5,622.7 L236.0,622.8 L237.5,622.9 L239.0,622.9 L240.5,622.8 L242.0,622.5 L243.5,622.2 L245.0,621.8 L246.5,621.4 L248.0,620.9 L249.5,620.5 L251.0,620.2 L252.5,619.9 L254.0,619.8 L255.5,619.9 L257.0,620.2 L258.5,620.7 L260.0,621.5 L261.5,623.3 L263.0,626.1"/>
<path d="M116.0,624.5 L117.5,624.5 L119.0,624.6 L120.5,624.7 L122.0,624.8 L123.5,624.9 L125.0,624.9 L126.5,624.9 L128.0,624.8 L129.5,624.7 L131.0,624.6 L132.5,624.6 L134.0,624.5 L135.5,624.6 L137.0,624.6 L138.5,624.7 L140.0,624.7 L141.5,624.7 L143.0,624.6 L144.5,624.4 L146.0,624.1 L147.5,623.8 L149.0,623.6 L150.5,623.4 L152.0,623.3 L153.5,623.4 L155.0,623.6 L156.5,624.0 L158.0,624.5 L159.5,625.1 L161.0,625.6 L162.5,626.1 L164.0,626.3 L165.5,626.4 L167.0,626.2 L168.5,625.8 L170.0,625.2 L171.5,624.6 L173.0,624.0 L174.5,623.4 L176.0,623.0 L177.5,622.9 L179.0,622.9 L180.5,623.1 L182.0,623.4 L183.5,623.9 L185.0,624.3 L186.5,624.8 L188.0,625.2 L189.5,625.5 L191.0,625.7 L192.5,625.8 L194.0,625.8 L195.5,625.8 L197.0,625.8 L198.5,625.7 L200.0,625.6 L201.5,625.5 L203.0,625.4 L204.5,625.3 L206.0,625.1 L207.5,624.9 L209.0,624.8 L210.5,624.6 L212.0,624.5 L213.5,624.4 L215.0,624.5 L216.5,624.6 L218.0,624.8 L219.5,625.0 L221.0,625.3 L222.5,625.4 L224.0,625.5 L225.5,625.4 L227.0,625.1 L228.5,624.8 L230.0,624.3 L231.5,623.8 L233.0,623.3 L234.5,622.9 L236.0,622.7 L237.5,622.6 L239.0,622.7 L240.5,623.0 L242.0,623.3 L243.5,623.8 L245.0,624.2 L246.5,624.5 L248.0,624.6 L249.5,624.6 L251.0,624.4 L252.5,624.0 L254.0,623.4 L255.5,622.7 L257.0,622.0 L258.5,621.3 L260.0,620.8 L261.5,621.0 L263.0,622.2"/>
<path d="M116.0,625.1 L117.5,624.7 L119.0,624.6 L120.5,624.7 L122.0,625.0 L123.5,625.4 L125.0,625.9 L126.5,626.4 L128.0,626.7 L129.5,626.8 L131.0,626.7 L132.5,626.4 L134.0,625.9 L135.5,625.4 L137.0,625.0 L138.5,624.6 L140.0,624.4 L141.5,624.3 L143.0,624.3 L144.5,624.4 L146.0,624.5 L147.5,624.7 L149.0,624.9 L150.5,625.1 L152.0,625.4 L153.5,625.6 L155.0,626.0 L156.5,626.3 L158.0,626.6 L159.5,626.8 L161.0,626.9 L162.5,626.8 L164.0,626.5 L165.5,626.1 L167.0,625.6 L168.5,625.1 L170.0,624.7 L171.5,624.4 L173.0,624.2 L174.5,624.2 L176.0,624.4 L177.5,624.6 L179.0,624.9 L180.5,625.1 L182.0,625.2 L183.5,625.2 L185.0,625.2 L186.5,625.2 L188.0,625.2 L189.5,625.4 L191.0,625.6 L192.5,626.0 L194.0,626.3 L195.5,626.7 L197.0,627.0 L198.5,627.2 L200.0,627.2 L201.5,627.1 L203.0,626.9 L204.5,626.7 L206.0,626.5 L207.5,626.4 L209.0,626.4 L210.5,626.5 L212.0,626.7 L213.5,626.9 L215.0,627.0 L216.5,626.9 L218.0,626.7 L219.5,626.3 L221.0,625.8 L222.5,625.2 L224.0,624.7 L225.5,624.3 L227.0,624.1 L228.5,624.0 L230.0,624.1 L231.5,624.3 L233.0,624.5 L234.5,624.6 L236.0,624.6 L237.5,624.4 L239.0,624.2 L240.5,623.9 L242.0,623.6 L243.5,623.4 L245.0,623.2 L246.5,623.1 L248.0,623.2 L249.5,623.4 L251.0,623.7 L252.5,624.0 L254.0,624.3 L255.5,624.7 L257.0,625.0 L258.5,625.2 L260.0,625.4 L261.5,626.0 L263.0,627.4"/>
<path d="M116.0,630.9 L117.5,630.6 L119.0,630.4 L120.5,630.3 L122.0,630.3 L123.5,630.5 L125.0,630.7 L126.5,631.0 L128.0,631.1 L129.5,631.2 L131.0,631.2 L132.5,631.0 L134.0,630.9 L135.5,630.8 L137.0,630.8 L138.5,631.0 L140.0,631.3 L141.5,631.6 L143.0,632.0 L144.5,632.2 L146.0,632.2 L147.5,632.1 L149.0,631.8 L150.5,631.4 L152.0,631.0 L153.5,630.6 L155.0,630.5 L156.5,630.5 L158.0,630.6 L159.5,630.9 L161.0,631.1 L162.5,631.2 L164.0,631.2 L165.5,631.0 L167.0,630.8 L168.5,630.5 L170.0,630.3 L171.5,630.2 L173.0,630.3 L174.5,630.5 L176.0,630.8 L177.5,631.1 L179.0,631.3 L180.5,631.4 L182.0,631.4 L183.5,631.3 L185.0,631.2 L186.5,631.1 L188.0,631.0 L189.5,631.0 L191.0,631.2 L192.5,631.3 L194.0,631.5 L195.5,631.7 L197.0,631.8 L198.5,631.9 L200.0,632.0 L201.5,632.0 L203.0,632.1 L204.5,632.3 L206.0,632.4 L207.5,632.6 L209.0,632.6 L210.5,632.6 L212.0,632.5 L213.5,632.3 L215.0,632.1 L216.5,631.8 L218.0,631.6 L219.5,631.4 L221.0,631.3 L222.5,631.3 L224.0,631.2 L225.5,631.1 L227.0,630.8 L228.5,630.4 L230.0,630.0 L231.5,629.6 L233.0,629.3 L234.5,629.1 L236.0,629.2 L237.5,629.4 L239.0,629.8 L240.5,630.1 L242.0,630.4 L243.5,630.5 L245.0,630.4 L246.5,630.0 L248.0,629.6 L249.5,629.1 L251.0,628.7 L252.5,628.6 L254.0,628.8 L255.5,629.3 L257.0,630.2 L258.5,631.2 L260.0,632.0 L261.5,632.4 L263.0,632.9"/>
<path d="M116.0,634.4 L117.5,634.5 L119.0,634.5 L120.5,634.4 L122.0,634.1 L123.5,633.7 L125.0,633.3 L126.5,632.8 L128.0,632.3 L129.5,632.0 L131.0,631.9 L132.5,631.9 L134.0,632.0 L135.5,632.2 L137.0,632.5 L138.5,632.6 L140.0,632.7 L141.5,632.6 L143.0,632.5 L144.5,632.4 L146.0,632.3 L147.5,632.3 L149.0,632.4 L150.5,632.6 L152.0,632.9 L153.5,633.2 L155.0,633.5 L156.5,633.7 L158.0,633.9 L159.5,633.9 L161.0,633.9 L162.5,633.8 L164.0,633.7 L165.5,633.6 L167.0,633.5 L168.5,633.5 L170.0,633.6 L171.5,633.6 L173.0,633.5 L174.5,633.4 L176.0,633.3 L177.5,633.0 L179.0,632.8 L180.5,632.5 L182.0,632.3 L183.5,632.1 L185.0,632.1 L186.5,632.1 L188.0,632.2 L189.5,632.3 L191.0,632.4 L192.5,632.7 L194.0,632.9 L195.5,633.2 L197.0,633.5 L198.5,633.9 L200.0,634.3 L201.5,634.6 L203.0,634.9 L204.5,635.0 L206.0,635.1 L207.5,635.0 L209.0,634.7 L210.5,634.4 L212.0,634.1 L213.5,633.8 L215.0,633.5 L216.5,633.3 L218.0,633.1 L219.5,633.0 L221.0,632.9 L222.5,632.8 L224.0,632.7 L225.5,632.5 L227.0,632.2 L228.5,632.0 L230.0,631.8 L231.5,631.7 L233.0,631.7 L234.5,631.8 L236.0,632.0 L237.5,632.2 L239.0,632.4 L240.5,632.5 L242.0,632.4 L243.5,632.2 L245.0,631.9 L246.5,631.4 L248.0,631.0 L249.5,630.7 L251.0,630.6 L252.5,630.6 L254.0,631.0 L255.5,631.5 L257.0,632.2 L258.5,633.1 L260.0,634.5 L261.5,636.1 L263.0,637.6"/>
<path d="M116.0,632.7 L117.5,633.0 L119.0,633.2 L120.5,633.5 L122.0,633.9 L123.5,634.2 L125.0,634.6 L126.5,634.9 L128.0,635.2 L129.5,635.4 L131.0,635.6 L132.5,635.7 L134.0,635.7 L135.5,635.7 L137.0,635.6 L138.5,635.4 L140.0,635.2 L141.5,634.9 L143.0,634.6 L144.5,634.3 L146.0,633.9 L147.5,633.6 L149.0,633.3 L150.5,633.0 L152.0,632.7 L153.5,632.5 L155.0,632.4 L156.5,632.3 L158.0,632.3 L159.5,632.3 L161.0,632.3 L162.5,632.4 L164.0,632.6 L165.5,632.7 L167.0,632.9 L168.5,633.1 L170.0,633.4 L171.5,633.6 L173.0,633.8 L174.5,634.1 L176.0,634.3 L177.5,634.5 L179.0,634.7 L180.5,634.8 L182.0,635.0 L183.5,635.1 L185.0,635.2 L186.5,635.3 L188.0,635.3 L189.5,635.3 L191.0,635.3 L192.5,635.3 L194.0,635.3 L195.5,635.2 L197.0,635.1 L198.5,635.0 L200.0,634.9 L201.5,634.7 L203.0,634.5 L204.5,634.3 L206.0,634.1 L207.5,634.0 L209.0,633.8 L210.5,633.6 L212.0,633.5 L213.5,633.4 L215.0,633.3 L216.5,633.3 L218.0,633.2 L219.5,633.2 L221.0,633.2 L222.5,633.3 L224.0,633.4 L225.5,633.5 L227.0,633.6 L228.5,633.8 L230.0,634.0 L231.5,634.1 L233.0,634.2 L234.5,634.3 L236.0,634.3 L237.5,634.3 L239.0,634.2 L240.5,634.1 L242.0,633.9 L243.5,633.6 L245.0,633.2 L246.5,632.8 L248.0,632.3 L249.5,631.9 L251.0,631.4 L252.5,630.9 L254.0,630.5 L255.5,630.1 L257.0,629.8 L258.5,629.6 L260.0,629.5 L261.5,629.9 L263.0,631.4"/>
<path d="M116.0,634.8 L117.5,634.9 L119.0,635.0 L120.5,634.9 L122.0,634.8 L123.5,634.7 L125.0,634.6 L126.5,634.4 L128.0,634.4 L129.5,634.3 L131.0,634.4 L132.5,634.5 L134.0,634.6 L135.5,634.7 L137.0,634.9 L138.5,635.0 L140.0,635.1 L141.5,635.2 L143.0,635.2 L144.5,635.2 L146.0,635.1 L147.5,635.0 L149.0,634.9 L150.5,634.8 L152.0,634.5 L153.5,634.3 L155.0,634.0 L156.5,633.7 L158.0,633.4 L159.5,633.1 L161.0,632.9 L162.5,632.7 L164.0,632.7 L165.5,632.8 L167.0,633.0 L168.5,633.4 L170.0,633.8 L171.5,634.3 L173.0,634.8 L174.5,635.3 L176.0,635.6 L177.5,635.9 L179.0,636.0 L180.5,635.9 L182.0,635.8 L183.5,635.5 L185.0,635.3 L186.5,635.0 L188.0,634.8 L189.5,634.7 L191.0,634.6 L192.5,634.6 L194.0,634.7 L195.5,634.8 L197.0,635.0 L198.5,635.1 L200.0,635.2 L201.5,635.3 L203.0,635.3 L204.5,635.3 L206.0,635.3 L207.5,635.3 L209.0,635.2 L210.5,635.2 L212.0,635.2 L213.5,635.2 L215.0,635.2 L216.5,635.1 L218.0,635.0 L219.5,634.9 L221.0,634.7 L222.5,634.6 L224.0,634.4 L225.5,634.3 L227.0,634.3 L228.5,634.2 L230.0,634.2 L231.5,634.2 L233.0,634.1 L234.5,634.0 L236.0,633.8 L237.5,633.5 L239.0,633.2 L240.5,632.8 L242.0,632.4 L243.5,632.0 L245.0,631.6 L246.5,631.3 L248.0,631.2 L249.5,631.2 L251.0,631.4 L252.5,631.8 L254.0,632.4 L255.5,633.1 L257.0,634.0 L258.5,634.8 L260.0,635.5 L261.5,636.4 L263.0,637.9"/>
<path d="M116.0,636.8 L117.5,637.0 L119.0,637.1 L120.5,637.2 L122.0,637.2 L123.5,637.1 L125.0,636.8 L126.5,636.4 L128.0,636.0 L129.5,635.6 L131.0,635.4 L132.5,635.3 L134.0,635.4 L135.5,635.6 L137.0,635.9 L138.5,636.1 L140.0,636.2 L141.5,636.2 L143.0,636.0 L144.5,635.7 L146.0,635.4 L147.5,635.1 L149.0,635.0 L150.5,635.0 L152.0,635.2 L153.5,635.5 L155.0,635.8 L156.5,636.2 L158.0,636.5 L159.5,636.6 L161.0,636.7 L162.5,636.7 L164.0,636.6 L165.5,636.7 L167.0,636.7 L168.5,636.8 L170.0,636.9 L171.5,637.0 L173.0,637.0 L174.5,636.8 L176.0,636.5 L177.5,636.1 L179.0,635.8 L180.5,635.5 L182.0,635.4 L183.5,635.4 L185.0,635.6 L186.5,636.0 L188.0,636.3 L189.5,636.6 L191.0,636.8 L192.5,636.8 L194.0,636.6 L195.5,636.4 L197.0,636.2 L198.5,636.1 L200.0,636.2 L201.5,636.4 L203.0,636.8 L204.5,637.2 L206.0,637.6 L207.5,638.0 L209.0,638.2 L210.5,638.3 L212.0,638.2 L213.5,638.0 L215.0,637.8 L216.5,637.6 L218.0,637.3 L219.5,637.1 L221.0,636.9 L222.5,636.6 L224.0,636.3 L225.5,635.8 L227.0,635.3 L228.5,634.8 L230.0,634.4 L231.5,634.1 L233.0,633.9 L234.5,633.9 L236.0,634.1 L237.5,634.3 L239.0,634.5 L240.5,634.5 L242.0,634.4 L243.5,634.1 L245.0,633.6 L246.5,633.2 L248.0,632.8 L249.5,632.5 L251.0,632.5 L252.5,632.9 L254.0,633.6 L255.5,634.5 L257.0,635.6 L258.5,636.6 L260.0,638.3 L261.5,640.5 L263.0,642.7"/>
<path d="M116.0,637.7 L117.5,637.4 L119.0,637.1 L120.5,636.9 L122.0,636.7 L123.5,636.7 L125.0,636.7 L126.5,636.9 L128.0,637.1 L129.5,637.3 L131.0,637.5 L132.5,637.8 L134.0,637.9 L135.5,638.0 L137.0,638.0 L138.5,637.9 L140.0,637.7 L141.5,637.5 L143.0,637.3 L144.5,637.1 L146.0,637.0 L147.5,637.1 L149.0,637.1 L150.5,637.3 L152.0,637.6 L153.5,637.8 L155.0,638.0 L156.5,638.2 L158.0,638.3 L159.5,638.2 L161.0,638.1 L162.5,637.8 L164.0,637.4 L165.5,637.1 L167.0,636.7 L168.5,636.4 L170.0,636.3 L171.5,636.3 L173.0,636.5 L174.5,636.8 L176.0,637.2 L177.5,637.7 L179.0,638.2 L180.5,638.6 L182.0,639.0 L183.5,639.2 L185.0,639.2 L186.5,639.0 L188.0,638.8 L189.5,638.4 L191.0,637.9 L192.5,637.5 L194.0,637.1 L195.5,636.8 L197.0,636.7 L198.5,636.7 L200.0,636.9 L201.5,637.2 L203.0,637.6 L204.5,638.0 L206.0,638.4 L207.5,638.8 L209.0,639.1 L210.5,639.2 L212.0,639.3 L213.5,639.2 L215.0,639.0 L216.5,638.8 L218.0,638.5 L219.5,638.2 L221.0,637.9 L222.5,637.7 L224.0,637.5 L225.5,637.3 L227.0,637.2 L228.5,637.1 L230.0,637.0 L231.5,636.9 L233.0,636.7 L234.5,636.5 L236.0,636.3 L237.5,636.1 L239.0,635.9 L240.5,635.8 L242.0,635.7 L243.5,635.6 L245.0,635.6 L246.5,635.7 L248.0,635.8 L249.5,636.0 L251.0,636.2 L252.5,636.4 L254.0,636.5 L255.5,636.7 L257.0,636.7 L258.5,636.7 L260.0,636.6 L261.5,637.1 L263.0,638.2"/>
<path d="M116.0,640.5 L117.5,640.3 L119.0,640.1 L120.5,639.9 L122.0,639.7 L123.5,639.5 L125.0,639.4 L126.5,639.4 L128.0,639.5 L129.5,639.6 L131.0,639.6 L132.5,639.6 L134.0,639.5 L135.5,639.3 L137.0,638.9 L138.5,638.4 L140.0,637.8 L141.5,637.2 L143.0,636.8 L144.5,636.4 L146.0,636.3 L147.5,636.5 L149.0,636.9 L150.5,637.5 L152.0,638.1 L153.5,638.9 L155.0,639.5 L156.5,640.0 L158.0,640.3 L159.5,640.4 L161.0,640.3 L162.5,640.0 L164.0,639.7 L165.5,639.4 L167.0,639.2 L168.5,639.1 L170.0,639.2 L171.5,639.5 L173.0,639.8 L174.5,640.1 L176.0,640.4 L177.5,640.6 L179.0,640.6 L180.5,640.4 L182.0,640.1 L183.5,639.6 L185.0,639.1 L186.5,638.6 L188.0,638.2 L189.5,638.0 L191.0,637.9 L192.5,638.1 L194.0,638.3 L195.5,638.7 L197.0,639.0 L198.5,639.3 L200.0,639.4 L201.5,639.5 L203.0,639.4 L204.5,639.3 L206.0,639.1 L207.5,638.9 L209.0,638.8 L210.5,638.8 L212.0,639.0 L213.5,639.2 L215.0,639.5 L216.5,639.9 L218.0,640.2 L219.5,640.4 L221.0,640.6 L222.5,640.6 L224.0,640.5 L225.5,640.3 L227.0,640.0 L228.5,639.8 L230.0,639.5 L231.5,639.3 L233.0,639.1 L234.5,638.9 L236.0,638.8 L237.5,638.6 L239.0,638.4 L240.5,638.3 L242.0,638.1 L243.5,637.8 L245.0,637.6 L246.5,637.3 L248.0,637.1 L249.5,636.8 L251.0,636.6 L252.5,636.4 L254.0,636.2 L255.5,635.9 L257.0,635.5 L258.5,635.1 L260.0,634.7 L261.5,634.3 L263.0,634.4"/>
<path d="M116.0,639.7 L117.5,639.7 L119.0,639.8 L120.5,640.1 L122.0,640.6 L123.5,641.0 L125.0,641.3 L126.5,641.5 L128.0,641.4 L129.5,641.2 L131.0,640.8 L132.5,640.3 L134.0,639.8 L135.5,639.4 L137.0,639.2 L138.5,639.0 L140.0,639.0 L141.5,639.1 L143.0,639.2 L144.5,639.3 L146.0,639.5 L147.5,639.7 L149.0,639.9 L150.5,640.2 L152.0,640.4 L153.5,640.7 L155.0,640.9 L156.5,641.0 L158.0,641.0 L159.5,640.8 L161.0,640.4 L162.5,640.0 L164.0,639.5 L165.5,639.2 L167.0,639.0 L168.5,639.0 L170.0,639.3 L171.5,639.7 L173.0,640.2 L174.5,640.7 L176.0,641.1 L177.5,641.4 L179.0,641.4 L180.5,641.4 L182.0,641.2 L183.5,641.0 L185.0,640.8 L186.5,640.6 L188.0,640.5 L189.5,640.4 L191.0,640.3 L192.5,640.2 L194.0,640.1 L195.5,640.0 L197.0,639.9 L198.5,639.9 L200.0,640.0 L201.5,640.2 L203.0,640.5 L204.5,640.9 L206.0,641.3 L207.5,641.6 L209.0,641.8 L210.5,641.9 L212.0,641.9 L213.5,641.8 L215.0,641.6 L216.5,641.4 L218.0,641.3 L219.5,641.2 L221.0,641.1 L222.5,641.0 L224.0,640.8 L225.5,640.6 L227.0,640.2 L228.5,639.8 L230.0,639.3 L231.5,638.8 L233.0,638.5 L234.5,638.2 L236.0,638.2 L237.5,638.3 L239.0,638.5 L240.5,638.6 L242.0,638.8 L243.5,638.7 L245.0,638.6 L246.5,638.4 L248.0,638.0 L249.5,637.7 L251.0,637.4 L252.5,637.1 L254.0,636.9 L255.5,636.8 L257.0,636.7 L258.5,636.6 L260.0,636.6 L261.5,637.4 L263.0,639.4"/>
<path d="M116.0,641.7 L117.5,642.0 L119.0,642.1 L120.5,642.1 L122.0,642.0 L123.5,641.8 L125.0,641.5 L126.5,641.3 L128.0,641.1 L129.5,641.0 L131.0,641.0 L132.5,641.1 L134.0,641.3 L135.5,641.6 L137.0,641.8 L138.5,641.9 L140.0,641.9 L141.5,641.8 L143.0,641.6 L144.5,641.3 L146.0,641.0 L147.5,640.8 L149.0,640.7 L150.5,640.7 L152.0,640.7 L153.5,640.8 L155.0,640.9 L156.5,641.0 L158.0,641.0 L159.5,640.9 L161.0,640.7 L162.5,640.5 L164.0,640.3 L165.5,640.3 L167.0,640.3 L168.5,640.4 L170.0,640.6 L171.5,640.9 L173.0,641.3 L174.5,641.6 L176.0,641.9 L177.5,642.1 L179.0,642.2 L180.5,642.2 L182.0,642.2 L183.5,642.1 L185.0,642.0 L186.5,641.9 L188.0,641.8 L189.5,641.7 L191.0,641.6 L192.5,641.6 L194.0,641.7 L195.5,641.8 L197.0,641.9 L198.5,642.1 L200.0,642.3 L201.5,642.4 L203.0,642.4 L204.5,642.3 L206.0,642.2 L207.5,642.0 L209.0,641.7 L210.5,641.5 L212.0,641.4 L213.5,641.5 L215.0,641.6 L216.5,641.8 L218.0,642.0 L219.5,642.1 L221.0,642.1 L222.5,641.9 L224.0,641.6 L225.5,641.1 L227.0,640.6 L228.5,640.2 L230.0,640.0 L231.5,640.0 L233.0,640.2 L234.5,640.6 L236.0,640.9 L237.5,641.2 L239.0,641.3 L240.5,641.1 L242.0,640.6 L243.5,639.8 L245.0,638.9 L246.5,638.1 L248.0,637.4 L249.5,637.0 L251.0,636.9 L252.5,637.2 L254.0,637.9 L255.5,638.7 L257.0,639.6 L258.5,640.2 L260.0,640.4 L261.5,641.0 L263.0,642.2"/></g><g stroke-width="1.45"><path d="M260.0,549.6 L261.5,549.9 L263.0,550.9 L264.5,552.7 L266.0,554.9 L267.5,557.3 L269.0,559.5 L270.5,560.7 L272.0,560.8 L273.5,560.3 L275.0,559.3 L276.5,558.5 L278.0,558.6 L279.5,560.2 L281.0,562.4 L282.5,564.1 L284.0,564.0 L285.5,561.7 L287.0,558.0 L288.5,553.6 L290.0,549.2 L291.5,545.6 L293.0,543.7 L294.5,542.5 L296.0,541.8 L297.5,541.5 L299.0,541.7 L300.5,542.6 L302.0,544.3 L303.5,546.6 L305.0,550.1 L306.5,553.9 L308.0,557.1 L309.5,559.0 L311.0,559.2 L312.5,557.9 L314.0,555.7 L315.5,553.7 L317.0,552.2 L318.5,551.8 L320.0,552.6 L321.5,553.8 L323.0,554.9 L324.5,555.6 L326.0,556.2 L327.5,556.7 L329.0,557.1 L330.5,557.4 L332.0,557.4 L333.5,557.0 L335.0,556.3 L336.5,555.5 L338.0,554.6 L339.5,553.9 L341.0,553.2 L342.5,552.3 L344.0,551.1 L345.5,549.7 L347.0,548.2 L348.5,547.2 L350.0,547.1 L351.5,548.0 L353.0,549.9 L354.5,552.4 L356.0,554.7 L357.5,556.2 L359.0,556.7 L360.5,556.1 L362.0,555.0 L363.5,554.0 L365.0,553.5 L366.5,553.9 L368.0,554.9 L369.5,556.0 L371.0,557.0 L372.5,557.2 L374.0,556.6 L375.5,555.5 L377.0,554.1 L378.5,553.0 L380.0,552.4 L381.5,552.6 L383.0,553.5 L384.5,554.6 L386.0,555.6 L387.5,556.2 L389.0,556.1 L390.5,555.4 L392.0,554.2 L393.5,553.0 L395.0,552.1 L396.5,551.8 L398.0,552.1 L399.5,553.0 L401.0,554.1 L402.5,555.2 L404.0,555.9 L405.5,556.1 L407.0,555.1 L408.5,552.7 L410.0,549.5 L411.5,546.2 L413.0,543.7 L414.5,542.4 L416.0,543.0 L417.5,545.3 L419.0,548.5 L420.5,551.9 L422.0,554.8 L423.5,556.6 L425.0,557.2 L426.5,556.3 L428.0,555.0 L429.5,554.3 L431.0,554.3 L432.5,555.2 L434.0,556.8 L435.5,559.1 L437.0,561.1 L438.5,562.2 L440.0,561.9 L441.5,559.8 L443.0,557.0 L444.5,554.7 L446.0,553.8 L447.5,553.8 L449.0,554.2 L450.5,554.7 L452.0,554.6 L453.5,552.8 L455.0,549.8"/>
<path d="M260.0,552.7 L261.5,552.9 L263.0,554.3 L264.5,556.4 L266.0,558.7 L267.5,560.6 L269.0,561.6 L270.5,561.2 L272.0,559.3 L273.5,556.5 L275.0,553.8 L276.5,552.0 L278.0,551.6 L279.5,553.5 L281.0,557.2 L282.5,561.3 L284.0,564.2 L285.5,564.6 L287.0,562.8 L288.5,559.5 L290.0,555.5 L291.5,551.9 L293.0,549.5 L294.5,548.9 L296.0,549.0 L297.5,549.5 L299.0,550.2 L300.5,550.8 L302.0,551.3 L303.5,551.7 L305.0,552.5 L306.5,553.8 L308.0,555.3 L309.5,556.6 L311.0,557.4 L312.5,557.1 L314.0,556.3 L315.5,555.2 L317.0,554.1 L318.5,553.3 L320.0,552.9 L321.5,553.1 L323.0,553.1 L324.5,553.1 L326.0,553.2 L327.5,553.9 L329.0,555.0 L330.5,556.4 L332.0,557.7 L333.5,558.7 L335.0,558.9 L336.5,558.6 L338.0,557.9 L339.5,557.1 L341.0,556.4 L342.5,555.8 L344.0,555.2 L345.5,554.7 L347.0,554.0 L348.5,553.5 L350.0,553.2 L351.5,553.5 L353.0,554.4 L354.5,555.7 L356.0,557.0 L357.5,557.8 L359.0,557.8 L360.5,556.9 L362.0,555.5 L363.5,553.9 L365.0,552.7 L366.5,552.3 L368.0,552.7 L369.5,553.7 L371.0,555.1 L372.5,556.3 L374.0,557.2 L375.5,557.4 L377.0,557.2 L378.5,556.8 L380.0,556.2 L381.5,555.7 L383.0,555.5 L384.5,555.4 L386.0,555.3 L387.5,555.3 L389.0,555.2 L390.5,555.0 L392.0,554.8 L393.5,554.6 L395.0,554.6 L396.5,554.9 L398.0,555.5 L399.5,556.5 L401.0,557.6 L402.5,558.7 L404.0,559.6 L405.5,560.1 L407.0,559.9 L408.5,558.1 L410.0,555.1 L411.5,551.2 L413.0,547.2 L414.5,543.9 L416.0,542.0 L417.5,542.2 L419.0,544.4 L420.5,548.1 L422.0,552.5 L423.5,556.9 L425.0,560.4 L426.5,562.4 L428.0,562.5 L429.5,561.6 L431.0,560.2 L432.5,558.5 L434.0,557.1 L435.5,556.5 L437.0,556.6 L438.5,557.3 L440.0,558.1 L441.5,558.1 L443.0,557.5 L444.5,556.8 L446.0,556.5 L447.5,556.9 L449.0,557.2 L450.5,557.3 L452.0,557.1 L453.5,556.0 L455.0,553.7"/>
<path d="M260.0,558.8 L261.5,560.1 L263.0,562.4 L264.5,565.2 L266.0,567.9 L267.5,570.1 L269.0,571.1 L270.5,570.4 L272.0,568.1 L273.5,564.8 L275.0,561.3 L276.5,558.5 L278.0,557.0 L279.5,557.9 L281.0,560.4 L282.5,563.1 L284.0,564.7 L285.5,564.1 L287.0,561.9 L288.5,558.8 L290.0,555.8 L291.5,553.7 L293.0,553.2 L294.5,554.1 L296.0,555.2 L297.5,556.2 L299.0,556.9 L300.5,557.2 L302.0,557.3 L303.5,557.4 L305.0,558.2 L306.5,559.7 L308.0,561.5 L309.5,563.0 L311.0,563.7 L312.5,563.1 L314.0,561.7 L315.5,559.9 L317.0,558.3 L318.5,557.2 L320.0,557.0 L321.5,557.4 L323.0,558.1 L324.5,558.8 L326.0,559.8 L327.5,561.1 L329.0,562.4 L330.5,563.5 L332.0,564.1 L333.5,564.0 L335.0,563.1 L336.5,561.9 L338.0,560.6 L339.5,559.9 L341.0,559.7 L342.5,559.9 L344.0,560.2 L345.5,560.3 L347.0,559.8 L348.5,559.1 L350.0,558.3 L351.5,557.9 L353.0,558.2 L354.5,559.2 L356.0,560.4 L357.5,561.7 L359.0,562.5 L360.5,562.6 L362.0,562.2 L363.5,561.5 L365.0,560.8 L366.5,560.4 L368.0,560.2 L369.5,560.1 L371.0,560.0 L372.5,559.7 L374.0,559.1 L375.5,558.3 L377.0,557.7 L378.5,557.3 L380.0,557.3 L381.5,557.7 L383.0,558.7 L384.5,559.8 L386.0,561.2 L387.5,562.5 L389.0,563.8 L390.5,565.0 L392.0,566.0 L393.5,566.8 L395.0,567.3 L396.5,567.5 L398.0,567.3 L399.5,566.7 L401.0,565.5 L402.5,563.9 L404.0,561.8 L405.5,559.7 L407.0,557.3 L408.5,554.0 L410.0,550.4 L411.5,546.9 L413.0,544.2 L414.5,542.6 L416.0,542.8 L417.5,545.1 L419.0,548.9 L420.5,553.6 L422.0,558.7 L423.5,563.4 L425.0,567.1 L426.5,569.2 L428.0,569.8 L429.5,569.8 L431.0,569.4 L432.5,568.9 L434.0,568.5 L435.5,568.5 L437.0,568.7 L438.5,568.7 L440.0,568.0 L441.5,566.0 L443.0,563.3 L444.5,560.8 L446.0,559.1 L447.5,558.4 L449.0,557.9 L450.5,557.6 L452.0,557.2 L453.5,555.7 L455.0,553.4"/>
<path d="M260.0,564.9 L261.5,566.8 L263.0,569.1 L264.5,571.3 L266.0,572.9 L267.5,573.4 L269.0,572.6 L270.5,570.2 L272.0,566.7 L273.5,563.0 L275.0,559.6 L276.5,557.3 L278.0,556.8 L279.5,558.3 L281.0,560.5 L282.5,562.5 L284.0,562.9 L285.5,561.8 L287.0,559.9 L288.5,557.7 L290.0,555.9 L291.5,555.1 L293.0,555.7 L294.5,556.6 L296.0,557.4 L297.5,558.1 L299.0,558.6 L300.5,559.0 L302.0,559.6 L303.5,560.7 L305.0,562.7 L306.5,565.3 L308.0,567.8 L309.5,569.7 L311.0,570.5 L312.5,570.3 L314.0,569.4 L315.5,568.0 L317.0,566.5 L318.5,565.2 L320.0,564.3 L321.5,563.4 L323.0,562.4 L324.5,561.5 L326.0,560.9 L327.5,560.8 L329.0,560.8 L330.5,560.8 L332.0,560.7 L333.5,560.3 L335.0,559.8 L336.5,559.4 L338.0,559.4 L339.5,559.9 L341.0,560.6 L342.5,561.4 L344.0,561.9 L345.5,561.8 L347.0,561.2 L348.5,560.3 L350.0,559.6 L351.5,559.4 L353.0,560.0 L354.5,561.0 L356.0,562.4 L357.5,563.7 L359.0,564.8 L360.5,565.5 L362.0,566.1 L363.5,566.6 L365.0,567.1 L366.5,567.7 L368.0,568.2 L369.5,568.4 L371.0,568.1 L372.5,567.3 L374.0,566.0 L375.5,564.5 L377.0,563.0 L378.5,561.6 L380.0,560.6 L381.5,560.1 L383.0,560.0 L384.5,560.1 L386.0,560.5 L387.5,561.0 L389.0,561.6 L390.5,562.1 L392.0,562.6 L393.5,563.1 L395.0,563.4 L396.5,563.5 L398.0,563.4 L399.5,563.1 L401.0,562.5 L402.5,561.8 L404.0,561.0 L405.5,560.3 L407.0,559.2 L408.5,557.6 L410.0,556.0 L411.5,554.7 L413.0,554.0 L414.5,554.3 L416.0,556.0 L417.5,558.7 L419.0,562.1 L420.5,565.5 L422.0,568.5 L423.5,570.6 L425.0,571.5 L426.5,571.0 L428.0,569.9 L429.5,568.6 L431.0,567.5 L432.5,566.6 L434.0,566.2 L435.5,566.4 L437.0,566.7 L438.5,566.8 L440.0,565.9 L441.5,564.2 L443.0,562.3 L444.5,560.8 L446.0,560.0 L447.5,559.4 L449.0,558.9 L450.5,558.3 L452.0,557.3 L453.5,555.5 L455.0,553.7"/>
<path d="M260.0,562.4 L261.5,563.8 L263.0,566.3 L264.5,569.3 L266.0,572.4 L267.5,574.6 L269.0,575.2 L270.5,574.2 L272.0,572.0 L273.5,569.5 L275.0,567.4 L276.5,566.8 L278.0,568.4 L279.5,571.4 L281.0,574.4 L282.5,575.8 L284.0,574.7 L285.5,571.5 L287.0,567.0 L288.5,562.0 L290.0,557.5 L291.5,554.8 L293.0,553.7 L294.5,553.7 L296.0,554.7 L297.5,556.6 L299.0,559.1 L300.5,561.8 L302.0,564.3 L303.5,567.0 L305.0,569.4 L306.5,570.9 L308.0,571.3 L309.5,570.5 L311.0,568.7 L312.5,566.8 L314.0,565.4 L315.5,564.8 L317.0,565.2 L318.5,566.5 L320.0,567.8 L321.5,568.5 L323.0,568.3 L324.5,567.5 L326.0,566.5 L327.5,565.3 L329.0,564.4 L330.5,563.8 L332.0,563.7 L333.5,564.1 L335.0,565.0 L336.5,566.5 L338.0,568.4 L339.5,570.2 L341.0,571.3 L342.5,571.5 L344.0,570.6 L345.5,568.6 L347.0,566.2 L348.5,563.8 L350.0,562.2 L351.5,561.6 L353.0,562.1 L354.5,563.1 L356.0,564.2 L357.5,564.8 L359.0,564.8 L360.5,564.5 L362.0,564.1 L363.5,564.1 L365.0,564.8 L366.5,566.0 L368.0,567.6 L369.5,569.2 L371.0,570.4 L372.5,570.8 L374.0,570.5 L375.5,569.6 L377.0,568.4 L378.5,567.2 L380.0,566.2 L381.5,565.8 L383.0,565.8 L384.5,566.2 L386.0,566.9 L387.5,567.6 L389.0,568.1 L390.5,568.1 L392.0,567.8 L393.5,567.1 L395.0,566.3 L396.5,565.5 L398.0,565.0 L399.5,564.9 L401.0,565.3 L402.5,566.2 L404.0,567.3 L405.5,568.1 L407.0,567.6 L408.5,565.9 L410.0,563.2 L411.5,560.1 L413.0,557.1 L414.5,555.2 L416.0,554.9 L417.5,556.1 L419.0,558.7 L420.5,562.1 L422.0,565.8 L423.5,569.1 L425.0,571.0 L426.5,571.9 L428.0,572.1 L429.5,571.8 L431.0,571.1 L432.5,570.5 L434.0,570.4 L435.5,570.7 L437.0,571.1 L438.5,571.2 L440.0,570.6 L441.5,569.7 L443.0,569.1 L444.5,569.2 L446.0,569.6 L447.5,569.5 L449.0,569.1 L450.5,567.9 L452.0,565.2 L453.5,561.6 L455.0,559.5"/>
<path d="M260.0,568.2 L261.5,568.8 L263.0,569.9 L264.5,571.2 L266.0,572.3 L267.5,573.2 L269.0,573.5 L270.5,573.0 L272.0,571.6 L273.5,569.9 L275.0,568.4 L276.5,567.5 L278.0,567.6 L279.5,569.5 L281.0,572.6 L282.5,575.6 L284.0,577.4 L285.5,577.0 L287.0,574.6 L288.5,571.1 L290.0,567.3 L291.5,563.8 L293.0,561.6 L294.5,560.8 L296.0,560.3 L297.5,560.1 L299.0,560.0 L300.5,560.2 L302.0,560.6 L303.5,561.4 L305.0,563.0 L306.5,565.4 L308.0,568.1 L309.5,570.3 L311.0,571.7 L312.5,571.7 L314.0,570.8 L315.5,569.6 L317.0,568.4 L318.5,567.6 L320.0,567.6 L321.5,568.2 L323.0,568.9 L324.5,569.5 L326.0,570.1 L327.5,570.8 L329.0,571.5 L330.5,572.0 L332.0,572.1 L333.5,571.6 L335.0,570.6 L336.5,569.3 L338.0,568.1 L339.5,567.5 L341.0,567.4 L342.5,567.7 L344.0,568.2 L345.5,568.6 L347.0,568.5 L348.5,567.9 L350.0,567.0 L351.5,566.2 L353.0,565.5 L354.5,565.3 L356.0,565.2 L357.5,565.2 L359.0,565.2 L360.5,565.0 L362.0,565.0 L363.5,565.4 L365.0,566.3 L366.5,567.8 L368.0,569.7 L369.5,571.5 L371.0,572.9 L372.5,573.7 L374.0,573.6 L375.5,572.9 L377.0,571.8 L378.5,570.7 L380.0,569.8 L381.5,569.2 L383.0,568.9 L384.5,568.7 L386.0,568.5 L387.5,568.3 L389.0,568.0 L390.5,567.8 L392.0,567.7 L393.5,567.9 L395.0,568.5 L396.5,569.3 L398.0,570.2 L399.5,570.9 L401.0,571.2 L402.5,570.9 L404.0,570.2 L405.5,569.1 L407.0,567.8 L408.5,565.8 L410.0,563.5 L411.5,561.4 L413.0,559.7 L414.5,558.7 L416.0,558.7 L417.5,559.8 L419.0,561.5 L420.5,563.5 L422.0,565.5 L423.5,567.2 L425.0,568.6 L426.5,569.4 L428.0,569.7 L429.5,570.4 L431.0,571.5 L432.5,572.8 L434.0,574.2 L435.5,575.7 L437.0,576.9 L438.5,577.6 L440.0,577.3 L441.5,575.9 L443.0,573.7 L444.5,571.7 L446.0,570.6 L447.5,570.4 L449.0,570.2 L450.5,569.7 L452.0,568.8 L453.5,566.5 L455.0,563.1"/>
<path d="M260.0,570.3 L261.5,570.6 L263.0,571.2 L264.5,572.5 L266.0,574.0 L267.5,575.4 L269.0,576.4 L270.5,576.6 L272.0,575.7 L273.5,573.8 L275.0,571.6 L276.5,569.6 L278.0,568.4 L279.5,568.5 L281.0,570.5 L282.5,573.4 L284.0,576.2 L285.5,577.6 L287.0,577.0 L288.5,575.1 L290.0,572.4 L291.5,569.6 L293.0,567.4 L294.5,566.4 L296.0,566.2 L297.5,566.0 L299.0,565.7 L300.5,565.3 L302.0,564.9 L303.5,564.5 L305.0,564.5 L306.5,565.4 L308.0,567.1 L309.5,569.1 L311.0,571.0 L312.5,572.2 L314.0,572.4 L315.5,572.2 L317.0,571.7 L318.5,571.2 L320.0,570.9 L321.5,571.3 L323.0,571.8 L324.5,572.2 L326.0,572.5 L327.5,572.9 L329.0,573.4 L330.5,573.8 L332.0,574.0 L333.5,573.8 L335.0,573.0 L336.5,571.8 L338.0,570.4 L339.5,569.3 L341.0,568.7 L342.5,568.6 L344.0,568.8 L345.5,569.2 L347.0,569.3 L348.5,569.1 L350.0,568.6 L351.5,568.2 L353.0,568.2 L354.5,568.6 L356.0,569.6 L357.5,570.8 L359.0,571.8 L360.5,572.5 L362.0,572.6 L363.5,572.5 L365.0,572.1 L366.5,571.8 L368.0,571.8 L369.5,571.9 L371.0,572.0 L372.5,572.0 L374.0,571.8 L375.5,571.2 L377.0,570.5 L378.5,569.8 L380.0,569.2 L381.5,568.8 L383.0,568.8 L384.5,569.2 L386.0,569.7 L387.5,570.3 L389.0,571.0 L390.5,571.8 L392.0,572.6 L393.5,573.3 L395.0,574.1 L396.5,574.7 L398.0,575.2 L399.5,575.4 L401.0,575.2 L402.5,574.7 L404.0,573.7 L405.5,572.5 L407.0,571.0 L408.5,569.2 L410.0,566.6 L411.5,563.7 L413.0,560.9 L414.5,558.7 L416.0,557.4 L417.5,557.7 L419.0,559.5 L420.5,562.5 L422.0,566.1 L423.5,570.0 L425.0,573.5 L426.5,576.3 L428.0,577.7 L429.5,578.2 L431.0,578.3 L432.5,578.2 L434.0,577.9 L435.5,577.6 L437.0,577.6 L438.5,577.6 L440.0,577.2 L441.5,576.2 L443.0,574.0 L444.5,571.5 L446.0,569.2 L447.5,567.8 L449.0,567.1 L450.5,566.7 L452.0,566.6 L453.5,566.4 L455.0,565.5"/>
<path d="M260.0,582.4 L261.5,583.4 L263.0,585.0 L264.5,587.7 L266.0,590.9 L267.5,593.9 L269.0,596.1 L270.5,597.1 L272.0,596.2 L273.5,593.7 L275.0,590.2 L276.5,586.6 L278.0,583.7 L279.5,582.2 L281.0,583.0 L282.5,585.2 L284.0,587.8 L285.5,589.3 L287.0,588.9 L288.5,587.1 L290.0,584.4 L291.5,581.6 L293.0,579.4 L294.5,578.6 L296.0,578.8 L297.5,579.2 L299.0,579.6 L300.5,579.9 L302.0,580.0 L303.5,580.0 L305.0,580.1 L306.5,580.8 L308.0,582.1 L309.5,583.6 L311.0,584.9 L312.5,585.7 L314.0,585.6 L315.5,585.2 L317.0,584.9 L318.5,584.8 L320.0,585.3 L321.5,586.3 L323.0,587.5 L324.5,588.5 L326.0,588.9 L327.5,589.0 L329.0,589.0 L330.5,588.8 L332.0,588.4 L333.5,587.7 L335.0,586.6 L336.5,585.3 L338.0,584.1 L339.5,583.3 L341.0,583.1 L342.5,583.5 L344.0,584.0 L345.5,584.4 L347.0,584.5 L348.5,584.0 L350.0,583.1 L351.5,582.1 L353.0,581.5 L354.5,581.5 L356.0,582.2 L357.5,583.0 L359.0,583.8 L360.5,584.2 L362.0,584.0 L363.5,583.5 L365.0,583.1 L366.5,582.9 L368.0,583.3 L369.5,584.4 L371.0,586.0 L372.5,587.8 L374.0,589.5 L375.5,590.8 L377.0,591.5 L378.5,591.7 L380.0,591.3 L381.5,590.4 L383.0,589.1 L384.5,587.7 L386.0,586.0 L387.5,584.4 L389.0,583.0 L390.5,581.9 L392.0,581.3 L393.5,581.1 L395.0,581.4 L396.5,582.1 L398.0,582.9 L399.5,583.8 L401.0,584.7 L402.5,585.3 L404.0,585.8 L405.5,586.0 L407.0,586.2 L408.5,586.1 L410.0,585.0 L411.5,583.3 L413.0,581.2 L414.5,579.2 L416.0,577.5 L417.5,576.8 L419.0,577.3 L420.5,578.7 L422.0,580.9 L423.5,583.4 L425.0,585.8 L426.5,587.8 L428.0,588.9 L429.5,589.2 L431.0,589.4 L432.5,589.4 L434.0,589.4 L435.5,589.5 L437.0,589.8 L438.5,590.1 L440.0,590.2 L441.5,589.7 L443.0,588.3 L444.5,586.5 L446.0,585.1 L447.5,584.6 L449.0,584.9 L450.5,585.1 L452.0,585.3 L453.5,585.1 L455.0,583.6"/>
<path d="M260.0,588.1 L261.5,588.8 L263.0,590.2 L264.5,592.5 L266.0,595.0 L267.5,597.3 L269.0,598.8 L270.5,599.2 L272.0,598.0 L273.5,595.8 L275.0,593.1 L276.5,590.9 L278.0,589.8 L279.5,590.4 L281.0,593.1 L282.5,596.7 L284.0,599.6 L285.5,600.3 L287.0,598.3 L288.5,594.7 L290.0,590.4 L291.5,586.6 L293.0,584.1 L294.5,583.7 L296.0,584.4 L297.5,585.2 L299.0,585.8 L300.5,585.8 L302.0,585.4 L303.5,584.6 L305.0,584.0 L306.5,584.5 L308.0,585.8 L309.5,587.7 L311.0,589.5 L312.5,590.6 L314.0,590.8 L315.5,590.4 L317.0,589.6 L318.5,588.7 L320.0,588.1 L321.5,588.1 L323.0,588.2 L324.5,588.4 L326.0,588.9 L327.5,590.1 L329.0,592.0 L330.5,594.3 L332.0,596.6 L333.5,598.5 L335.0,599.3 L336.5,599.1 L338.0,598.0 L339.5,596.6 L341.0,595.2 L342.5,594.0 L344.0,593.0 L345.5,591.9 L347.0,590.8 L348.5,589.3 L350.0,587.8 L351.5,586.5 L353.0,585.5 L354.5,585.2 L356.0,585.2 L357.5,585.3 L359.0,585.2 L360.5,584.9 L362.0,584.3 L363.5,584.1 L365.0,584.4 L366.5,585.7 L368.0,587.8 L369.5,590.5 L371.0,593.2 L372.5,595.4 L374.0,596.8 L375.5,597.1 L377.0,596.7 L378.5,595.7 L380.0,594.6 L381.5,593.7 L383.0,593.3 L384.5,593.3 L386.0,593.6 L387.5,593.9 L389.0,594.2 L390.5,594.1 L392.0,593.8 L393.5,593.1 L395.0,592.3 L396.5,591.5 L398.0,590.8 L399.5,590.3 L401.0,590.1 L402.5,590.0 L404.0,590.1 L405.5,590.1 L407.0,590.1 L408.5,589.3 L410.0,587.3 L411.5,584.4 L413.0,581.3 L414.5,578.6 L416.0,576.8 L417.5,576.9 L419.0,578.9 L420.5,582.3 L422.0,586.5 L423.5,590.9 L425.0,594.6 L426.5,597.0 L428.0,597.5 L429.5,596.8 L431.0,595.7 L432.5,594.4 L434.0,593.4 L435.5,593.1 L437.0,593.7 L438.5,594.8 L440.0,596.0 L441.5,596.6 L443.0,596.0 L444.5,595.0 L446.0,594.2 L447.5,594.2 L449.0,594.5 L450.5,594.6 L452.0,594.4 L453.5,593.5 L455.0,591.2"/>
<path d="M260.0,593.6 L261.5,593.5 L263.0,594.0 L264.5,595.0 L266.0,596.4 L267.5,598.0 L269.0,599.4 L270.5,600.4 L272.0,600.3 L273.5,599.6 L275.0,598.5 L276.5,597.3 L278.0,596.5 L279.5,596.8 L281.0,598.3 L282.5,600.1 L284.0,601.4 L285.5,601.4 L287.0,600.3 L288.5,598.4 L290.0,596.3 L291.5,594.3 L293.0,593.0 L294.5,592.4 L296.0,591.8 L297.5,590.9 L299.0,589.8 L300.5,588.7 L302.0,587.9 L303.5,587.5 L305.0,588.0 L306.5,589.5 L308.0,591.6 L309.5,593.6 L311.0,594.9 L312.5,595.1 L314.0,594.4 L315.5,593.1 L317.0,591.7 L318.5,590.7 L320.0,590.6 L321.5,591.4 L323.0,592.7 L324.5,594.4 L326.0,596.2 L327.5,598.1 L329.0,599.8 L330.5,601.0 L332.0,601.6 L333.5,601.5 L335.0,600.8 L336.5,599.7 L338.0,598.9 L339.5,598.5 L341.0,598.7 L342.5,599.1 L344.0,599.5 L345.5,599.4 L347.0,598.5 L348.5,596.7 L350.0,594.4 L351.5,592.1 L353.0,590.2 L354.5,589.1 L356.0,588.7 L357.5,589.0 L359.0,589.6 L360.5,590.2 L362.0,590.7 L363.5,591.1 L365.0,591.3 L366.5,591.5 L368.0,591.9 L369.5,592.4 L371.0,593.0 L372.5,593.8 L374.0,594.7 L375.5,595.6 L377.0,596.7 L378.5,597.7 L380.0,598.6 L381.5,599.3 L383.0,599.8 L384.5,599.8 L386.0,599.5 L387.5,598.9 L389.0,598.4 L390.5,598.0 L392.0,597.9 L393.5,598.1 L395.0,598.5 L396.5,599.0 L398.0,599.4 L399.5,599.3 L401.0,598.7 L402.5,597.5 L404.0,595.9 L405.5,594.1 L407.0,592.4 L408.5,590.4 L410.0,588.3 L411.5,586.4 L413.0,585.1 L414.5,584.3 L416.0,584.4 L417.5,585.4 L419.0,587.2 L420.5,589.4 L422.0,591.8 L423.5,593.9 L425.0,595.8 L426.5,597.0 L428.0,597.5 L429.5,598.0 L431.0,598.6 L432.5,599.1 L434.0,599.7 L435.5,600.3 L437.0,600.8 L438.5,601.1 L440.0,600.8 L441.5,599.7 L443.0,598.1 L444.5,596.7 L446.0,596.0 L447.5,596.3 L449.0,596.9 L450.5,597.4 L452.0,597.6 L453.5,596.8 L455.0,594.8"/>
<path d="M260.0,593.9 L261.5,595.8 L263.0,598.2 L264.5,600.5 L266.0,602.3 L267.5,603.2 L269.0,602.8 L270.5,601.1 L272.0,598.9 L273.5,596.9 L275.0,595.6 L276.5,595.7 L278.0,597.8 L279.5,601.0 L281.0,604.2 L282.5,606.1 L284.0,605.9 L285.5,604.0 L287.0,600.9 L288.5,597.5 L290.0,594.4 L291.5,592.4 L293.0,591.5 L294.5,590.8 L296.0,590.5 L297.5,590.3 L299.0,590.4 L300.5,590.6 L302.0,591.1 L303.5,592.4 L305.0,594.1 L306.5,595.9 L308.0,597.2 L309.5,597.7 L311.0,597.1 L312.5,596.0 L314.0,594.9 L315.5,594.0 L317.0,593.7 L318.5,594.4 L320.0,595.7 L321.5,597.1 L323.0,598.5 L324.5,599.9 L326.0,601.2 L327.5,602.2 L329.0,602.7 L330.5,602.6 L332.0,601.8 L333.5,600.4 L335.0,599.0 L336.5,597.8 L338.0,597.2 L339.5,597.2 L341.0,597.5 L342.5,597.7 L344.0,597.6 L345.5,596.8 L347.0,595.4 L348.5,593.8 L350.0,592.2 L351.5,591.2 L353.0,590.8 L354.5,591.0 L356.0,591.7 L357.5,592.6 L359.0,593.5 L360.5,594.5 L362.0,595.7 L363.5,597.1 L365.0,598.6 L366.5,600.0 L368.0,601.2 L369.5,602.0 L371.0,602.2 L372.5,601.8 L374.0,601.1 L375.5,600.2 L377.0,599.5 L378.5,599.0 L380.0,598.8 L381.5,598.8 L383.0,598.8 L384.5,598.7 L386.0,598.4 L387.5,597.8 L389.0,596.9 L390.5,595.9 L392.0,595.1 L393.5,594.4 L395.0,594.0 L396.5,593.9 L398.0,594.2 L399.5,594.8 L401.0,595.4 L402.5,596.1 L404.0,596.7 L405.5,596.9 L407.0,596.1 L408.5,594.5 L410.0,592.5 L411.5,590.6 L413.0,589.3 L414.5,589.0 L416.0,590.2 L417.5,592.5 L419.0,595.5 L420.5,598.7 L422.0,601.7 L423.5,603.8 L425.0,604.5 L426.5,604.0 L428.0,603.0 L429.5,601.5 L431.0,599.9 L432.5,598.6 L434.0,597.8 L435.5,597.5 L437.0,597.5 L438.5,597.5 L440.0,596.9 L441.5,596.2 L443.0,595.8 L444.5,596.1 L446.0,596.9 L447.5,597.5 L449.0,597.7 L450.5,597.6 L452.0,596.2 L453.5,594.0 L455.0,592.8"/>
<path d="M260.0,599.8 L261.5,600.6 L263.0,602.5 L264.5,604.9 L266.0,607.5 L267.5,609.7 L269.0,611.2 L270.5,611.4 L272.0,610.1 L273.5,607.9 L275.0,605.5 L276.5,603.5 L278.0,602.6 L279.5,603.6 L281.0,605.9 L282.5,608.2 L284.0,609.1 L285.5,607.6 L287.0,604.2 L288.5,600.0 L290.0,596.0 L291.5,593.1 L293.0,592.2 L294.5,593.3 L296.0,595.1 L297.5,597.0 L299.0,598.7 L300.5,599.9 L302.0,600.6 L303.5,600.8 L305.0,601.2 L306.5,602.1 L308.0,603.0 L309.5,603.5 L311.0,603.3 L312.5,602.1 L314.0,600.4 L315.5,598.8 L317.0,597.8 L318.5,597.6 L320.0,598.5 L321.5,600.3 L323.0,602.1 L324.5,603.8 L326.0,605.2 L327.5,606.5 L329.0,607.4 L330.5,607.7 L332.0,607.4 L333.5,606.4 L335.0,604.7 L336.5,602.9 L338.0,601.4 L339.5,600.9 L341.0,601.2 L342.5,602.1 L344.0,603.1 L345.5,603.9 L347.0,603.7 L348.5,602.7 L350.0,601.2 L351.5,599.6 L353.0,598.3 L354.5,597.7 L356.0,597.6 L357.5,597.8 L359.0,598.2 L360.5,598.5 L362.0,599.0 L363.5,599.9 L365.0,601.1 L366.5,602.8 L368.0,604.8 L369.5,606.7 L371.0,608.1 L372.5,608.7 L374.0,608.3 L375.5,607.1 L377.0,605.4 L378.5,603.5 L380.0,601.8 L381.5,600.5 L383.0,599.9 L384.5,599.7 L386.0,600.0 L387.5,600.8 L389.0,601.7 L390.5,602.8 L392.0,603.9 L393.5,604.9 L395.0,605.7 L396.5,606.2 L398.0,606.3 L399.5,606.1 L401.0,605.5 L402.5,604.5 L404.0,603.3 L405.5,602.0 L407.0,600.6 L408.5,598.4 L410.0,595.6 L411.5,592.7 L413.0,590.2 L414.5,588.6 L416.0,588.3 L417.5,589.8 L419.0,592.7 L420.5,596.5 L422.0,600.7 L423.5,604.8 L425.0,608.0 L426.5,609.9 L428.0,610.3 L429.5,610.3 L431.0,610.1 L432.5,609.6 L434.0,609.2 L435.5,609.1 L437.0,609.1 L438.5,608.8 L440.0,607.9 L441.5,605.8 L443.0,603.0 L444.5,600.4 L446.0,598.9 L447.5,598.8 L449.0,599.2 L450.5,599.9 L452.0,600.7 L453.5,600.4 L455.0,599.0"/>
<path d="M260.0,600.2 L261.5,601.3 L263.0,602.9 L264.5,604.9 L266.0,606.9 L267.5,608.4 L269.0,609.1 L270.5,608.8 L272.0,607.8 L273.5,606.5 L275.0,605.5 L276.5,605.0 L278.0,605.8 L279.5,607.6 L281.0,609.3 L282.5,610.1 L284.0,609.0 L285.5,606.4 L287.0,602.9 L288.5,599.3 L290.0,596.3 L291.5,594.6 L293.0,594.4 L294.5,594.8 L296.0,595.4 L297.5,596.1 L299.0,596.7 L300.5,597.2 L302.0,597.7 L303.5,598.6 L305.0,600.1 L306.5,601.9 L308.0,603.6 L309.5,604.7 L311.0,605.0 L312.5,604.7 L314.0,604.0 L315.5,603.3 L317.0,602.8 L318.5,602.9 L320.0,603.4 L321.5,603.9 L323.0,604.4 L324.5,604.7 L326.0,605.1 L327.5,605.5 L329.0,605.7 L330.5,605.6 L332.0,605.1 L333.5,604.0 L335.0,602.8 L336.5,601.6 L338.0,600.8 L339.5,600.6 L341.0,600.7 L342.5,601.0 L344.0,601.1 L345.5,600.9 L347.0,600.4 L348.5,599.7 L350.0,599.3 L351.5,599.4 L353.0,600.1 L354.5,601.3 L356.0,602.5 L357.5,603.7 L359.0,604.4 L360.5,604.7 L362.0,604.7 L363.5,604.6 L365.0,604.6 L366.5,604.6 L368.0,604.5 L369.5,604.3 L371.0,603.9 L372.5,603.3 L374.0,602.4 L375.5,601.7 L377.0,601.1 L378.5,600.8 L380.0,601.0 L381.5,601.5 L383.0,602.2 L384.5,602.9 L386.0,603.6 L387.5,604.1 L389.0,604.5 L390.5,604.7 L392.0,604.7 L393.5,604.7 L395.0,604.6 L396.5,604.5 L398.0,604.4 L399.5,604.2 L401.0,603.9 L402.5,603.5 L404.0,603.1 L405.5,602.6 L407.0,601.4 L408.5,599.6 L410.0,597.5 L411.5,595.5 L413.0,593.8 L414.5,593.0 L416.0,593.4 L417.5,594.9 L419.0,597.1 L420.5,599.7 L422.0,602.2 L423.5,604.4 L425.0,605.8 L426.5,606.2 L428.0,606.3 L429.5,606.3 L431.0,606.4 L432.5,606.7 L434.0,607.2 L435.5,608.0 L437.0,608.7 L438.5,609.0 L440.0,608.4 L441.5,607.0 L443.0,605.5 L444.5,604.4 L446.0,603.9 L447.5,603.5 L449.0,603.0 L450.5,602.4 L452.0,601.0 L453.5,598.7 L455.0,596.5"/>
<path d="M260.0,602.2 L261.5,605.4 L263.0,608.8 L264.5,611.8 L266.0,613.6 L267.5,614.1 L269.0,612.8 L270.5,610.4 L272.0,607.7 L273.5,605.4 L275.0,604.2 L276.5,604.6 L278.0,607.0 L279.5,610.1 L281.0,612.6 L282.5,613.2 L284.0,611.6 L285.5,608.4 L287.0,604.4 L288.5,600.5 L290.0,597.7 L291.5,596.5 L293.0,596.4 L294.5,596.9 L296.0,597.5 L297.5,598.2 L299.0,598.6 L300.5,598.8 L302.0,598.9 L303.5,599.6 L305.0,600.5 L306.5,601.5 L308.0,602.3 L309.5,602.7 L311.0,602.7 L312.5,602.8 L314.0,603.2 L315.5,603.9 L317.0,605.1 L318.5,606.6 L320.0,607.7 L321.5,608.2 L323.0,608.0 L324.5,607.5 L326.0,606.9 L327.5,606.2 L329.0,605.7 L330.5,605.3 L332.0,605.0 L333.5,604.9 L335.0,605.2 L336.5,605.9 L338.0,607.0 L339.5,608.0 L341.0,608.5 L342.5,608.2 L344.0,606.9 L345.5,604.6 L347.0,601.8 L348.5,599.1 L350.0,597.1 L351.5,596.2 L353.0,596.4 L354.5,597.5 L356.0,599.0 L357.5,600.6 L359.0,601.9 L360.5,603.0 L362.0,603.9 L363.5,604.6 L365.0,605.4 L366.5,606.1 L368.0,606.6 L369.5,607.0 L371.0,607.1 L372.5,606.9 L374.0,606.6 L375.5,606.3 L377.0,606.1 L378.5,606.1 L380.0,606.3 L381.5,606.6 L383.0,606.8 L384.5,606.9 L386.0,606.9 L387.5,606.9 L389.0,606.7 L390.5,606.4 L392.0,606.0 L393.5,605.6 L395.0,605.1 L396.5,604.5 L398.0,603.7 L399.5,602.9 L401.0,602.0 L402.5,601.3 L404.0,600.7 L405.5,599.9 L407.0,598.6 L408.5,597.1 L410.0,595.7 L411.5,594.7 L413.0,594.4 L414.5,595.2 L416.0,597.0 L417.5,599.6 L419.0,602.6 L420.5,605.5 L422.0,607.9 L423.5,609.6 L425.0,610.1 L426.5,610.0 L428.0,609.7 L429.5,609.4 L431.0,609.2 L432.5,609.2 L434.0,609.6 L435.5,610.0 L437.0,610.2 L438.5,609.7 L440.0,608.2 L441.5,606.5 L443.0,605.1 L444.5,604.4 L446.0,604.0 L447.5,603.5 L449.0,602.8 L450.5,601.7 L452.0,599.4 L453.5,596.8 L455.0,596.2"/>
<path d="M260.0,602.0 L261.5,602.2 L263.0,603.0 L264.5,604.9 L266.0,607.3 L267.5,609.8 L269.0,611.9 L270.5,612.9 L272.0,612.4 L273.5,610.5 L275.0,607.8 L276.5,605.2 L278.0,603.4 L279.5,603.2 L281.0,605.3 L282.5,608.8 L284.0,612.1 L285.5,613.7 L287.0,612.7 L288.5,609.7 L290.0,605.7 L291.5,601.6 L293.0,598.4 L294.5,596.9 L296.0,596.8 L297.5,597.0 L299.0,597.2 L300.5,597.2 L302.0,597.2 L303.5,597.2 L305.0,597.5 L306.5,598.9 L308.0,601.2 L309.5,603.9 L311.0,606.2 L312.5,607.4 L314.0,607.3 L315.5,606.2 L317.0,604.6 L318.5,603.0 L320.0,601.8 L321.5,601.5 L323.0,601.6 L324.5,601.9 L326.0,602.3 L327.5,603.1 L329.0,604.3 L330.5,605.7 L332.0,607.0 L333.5,608.0 L335.0,608.3 L336.5,608.0 L338.0,607.4 L339.5,606.9 L341.0,606.9 L342.5,607.3 L344.0,607.8 L345.5,608.2 L347.0,608.0 L348.5,606.9 L350.0,605.2 L351.5,603.3 L353.0,601.7 L354.5,600.7 L356.0,600.4 L357.5,600.5 L359.0,600.8 L360.5,600.8 L362.0,600.5 L363.5,600.1 L365.0,599.8 L366.5,599.9 L368.0,600.7 L369.5,601.9 L371.0,603.5 L372.5,605.0 L374.0,606.2 L375.5,606.9 L377.0,607.2 L378.5,607.3 L380.0,607.1 L381.5,607.0 L383.0,606.9 L384.5,607.0 L386.0,607.0 L387.5,606.9 L389.0,606.7 L390.5,606.5 L392.0,606.3 L393.5,606.2 L395.0,606.2 L396.5,606.4 L398.0,606.6 L399.5,606.9 L401.0,607.0 L402.5,606.9 L404.0,606.6 L405.5,605.9 L407.0,605.2 L408.5,604.0 L410.0,601.6 L411.5,598.6 L413.0,595.4 L414.5,592.6 L416.0,590.7 L417.5,590.2 L419.0,591.6 L420.5,594.4 L422.0,597.8 L423.5,601.5 L425.0,604.8 L426.5,607.1 L428.0,607.9 L429.5,607.6 L431.0,607.1 L432.5,606.7 L434.0,606.7 L435.5,607.2 L437.0,608.5 L438.5,610.3 L440.0,612.0 L441.5,612.9 L443.0,612.5 L444.5,611.2 L446.0,610.0 L447.5,609.5 L449.0,609.4 L450.5,609.3 L452.0,608.9 L453.5,607.9 L455.0,605.4"/>
<path d="M260.0,605.8 L261.5,606.9 L263.0,608.7 L264.5,610.7 L266.0,612.5 L267.5,613.8 L269.0,614.1 L270.5,613.0 L272.0,610.8 L273.5,608.4 L275.0,606.3 L276.5,605.3 L278.0,606.0 L279.5,608.8 L281.0,612.5 L282.5,615.4 L284.0,616.2 L285.5,614.2 L287.0,610.2 L288.5,605.4 L290.0,600.7 L291.5,597.1 L293.0,595.7 L294.5,595.6 L296.0,596.1 L297.5,596.9 L299.0,597.8 L300.5,598.7 L302.0,599.7 L303.5,600.9 L305.0,603.0 L306.5,605.6 L308.0,608.0 L309.5,609.6 L311.0,610.0 L312.5,609.0 L314.0,607.3 L315.5,605.4 L317.0,603.8 L318.5,603.0 L320.0,603.4 L321.5,604.4 L323.0,605.7 L324.5,607.1 L326.0,608.8 L327.5,610.5 L329.0,612.0 L330.5,613.0 L332.0,613.1 L333.5,612.1 L335.0,610.3 L336.5,608.2 L338.0,606.3 L339.5,605.2 L341.0,604.7 L342.5,604.6 L344.0,604.8 L345.5,604.8 L347.0,604.2 L348.5,603.4 L350.0,602.7 L351.5,602.2 L353.0,602.3 L354.5,602.9 L356.0,603.7 L357.5,604.2 L359.0,604.3 L360.5,603.9 L362.0,603.5 L363.5,603.1 L365.0,603.3 L366.5,604.2 L368.0,605.6 L369.5,607.3 L371.0,609.0 L372.5,610.4 L374.0,611.2 L375.5,611.4 L377.0,611.3 L378.5,610.9 L380.0,610.2 L381.5,609.5 L383.0,608.8 L384.5,607.9 L386.0,607.1 L387.5,606.3 L389.0,605.6 L390.5,605.2 L392.0,605.1 L393.5,605.5 L395.0,606.1 L396.5,606.9 L398.0,607.8 L399.5,608.5 L401.0,608.9 L402.5,608.8 L404.0,608.2 L405.5,607.3 L407.0,605.6 L408.5,602.7 L410.0,599.3 L411.5,595.8 L413.0,592.9 L414.5,591.2 L416.0,591.4 L417.5,593.6 L419.0,597.3 L420.5,601.7 L422.0,606.4 L423.5,610.5 L425.0,613.4 L426.5,614.4 L428.0,614.2 L429.5,613.4 L431.0,612.4 L432.5,611.3 L434.0,610.5 L435.5,610.3 L437.0,610.4 L438.5,610.6 L440.0,610.3 L441.5,609.0 L443.0,607.6 L444.5,606.8 L446.0,607.2 L447.5,608.1 L449.0,609.0 L450.5,609.5 L452.0,609.2 L453.5,607.1 L455.0,603.6"/>
<path d="M260.0,604.5 L261.5,605.6 L263.0,607.2 L264.5,609.0 L266.0,610.6 L267.5,611.7 L269.0,611.7 L270.5,610.7 L272.0,609.2 L273.5,607.6 L275.0,606.6 L276.5,606.5 L278.0,608.0 L279.5,610.5 L281.0,612.8 L282.5,614.1 L284.0,613.5 L285.5,611.5 L287.0,608.6 L288.5,605.4 L290.0,602.5 L291.5,600.8 L293.0,600.2 L294.5,600.0 L296.0,600.3 L297.5,600.9 L299.0,601.7 L300.5,602.6 L302.0,603.6 L303.5,604.9 L305.0,606.5 L306.5,607.8 L308.0,608.7 L309.5,608.8 L311.0,608.2 L312.5,607.1 L314.0,606.1 L315.5,605.2 L317.0,604.8 L318.5,604.9 L320.0,605.2 L321.5,605.3 L323.0,605.2 L324.5,605.2 L326.0,605.3 L327.5,605.6 L329.0,606.1 L330.5,606.7 L332.0,607.2 L333.5,607.6 L335.0,607.8 L336.5,608.1 L338.0,608.4 L339.5,608.7 L341.0,608.7 L342.5,608.3 L344.0,607.5 L345.5,606.3 L347.0,605.0 L348.5,604.1 L350.0,603.7 L351.5,604.0 L353.0,605.0 L354.5,606.3 L356.0,607.5 L357.5,608.2 L359.0,608.4 L360.5,608.2 L362.0,607.7 L363.5,607.3 L365.0,607.2 L366.5,607.4 L368.0,607.7 L369.5,608.0 L371.0,608.0 L372.5,607.6 L374.0,606.9 L375.5,605.9 L377.0,604.9 L378.5,604.1 L380.0,603.6 L381.5,603.6 L383.0,604.0 L384.5,604.7 L386.0,605.6 L387.5,606.5 L389.0,607.2 L390.5,607.6 L392.0,607.7 L393.5,607.5 L395.0,607.2 L396.5,606.8 L398.0,606.5 L399.5,606.4 L401.0,606.5 L402.5,606.8 L404.0,607.2 L405.5,607.5 L407.0,607.1 L408.5,605.9 L410.0,604.4 L411.5,602.8 L413.0,601.5 L414.5,601.0 L416.0,601.6 L417.5,603.2 L419.0,605.4 L420.5,607.8 L422.0,609.9 L423.5,611.3 L425.0,611.5 L426.5,610.6 L428.0,609.4 L429.5,607.9 L431.0,606.5 L432.5,605.6 L434.0,605.4 L435.5,605.8 L437.0,606.6 L438.5,607.3 L440.0,607.4 L441.5,607.0 L443.0,606.6 L444.5,606.4 L446.0,606.3 L447.5,606.0 L449.0,605.6 L450.5,605.1 L452.0,603.9 L453.5,602.3 L455.0,602.0"/>
<path d="M260.0,607.5 L261.5,608.3 L263.0,609.6 L264.5,611.2 L266.0,612.8 L267.5,614.0 L269.0,614.6 L270.5,614.2 L272.0,612.7 L273.5,610.5 L275.0,608.3 L276.5,606.3 L278.0,605.3 L279.5,605.8 L281.0,607.6 L282.5,609.6 L284.0,611.0 L285.5,610.8 L287.0,609.2 L288.5,606.8 L290.0,604.2 L291.5,602.0 L293.0,600.7 L294.5,600.7 L296.0,600.9 L297.5,601.1 L299.0,601.2 L300.5,601.2 L302.0,601.2 L303.5,601.3 L305.0,602.0 L306.5,603.5 L308.0,605.5 L309.5,607.5 L311.0,609.1 L312.5,609.9 L314.0,610.1 L315.5,609.9 L317.0,609.6 L318.5,609.4 L320.0,609.4 L321.5,609.8 L323.0,610.0 L324.5,609.9 L326.0,609.8 L327.5,609.7 L329.0,609.6 L330.5,609.4 L332.0,609.0 L333.5,608.3 L335.0,607.2 L336.5,606.0 L338.0,605.1 L339.5,604.7 L341.0,604.8 L342.5,605.3 L344.0,605.9 L345.5,606.3 L347.0,606.2 L348.5,605.7 L350.0,605.0 L351.5,604.3 L353.0,603.9 L354.5,604.0 L356.0,604.5 L357.5,605.1 L359.0,605.6 L360.5,606.0 L362.0,606.2 L363.5,606.5 L365.0,606.9 L366.5,607.5 L368.0,608.4 L369.5,609.3 L371.0,610.0 L372.5,610.3 L374.0,610.1 L375.5,609.5 L377.0,608.6 L378.5,607.6 L380.0,606.7 L381.5,606.0 L383.0,605.8 L384.5,606.0 L386.0,606.4 L387.5,607.1 L389.0,608.1 L390.5,609.1 L392.0,610.2 L393.5,611.2 L395.0,612.1 L396.5,612.6 L398.0,612.7 L399.5,612.3 L401.0,611.3 L402.5,609.8 L404.0,607.9 L405.5,605.7 L407.0,603.5 L408.5,600.8 L410.0,597.9 L411.5,595.3 L413.0,593.3 L414.5,592.3 L416.0,592.6 L417.5,594.5 L419.0,597.7 L420.5,601.7 L422.0,605.9 L423.5,609.8 L425.0,613.0 L426.5,615.0 L428.0,615.6 L429.5,615.5 L431.0,615.0 L432.5,614.4 L434.0,613.7 L435.5,613.3 L437.0,613.1 L438.5,612.9 L440.0,612.4 L441.5,611.2 L443.0,609.4 L444.5,607.6 L446.0,606.4 L447.5,605.9 L449.0,605.7 L450.5,605.6 L452.0,605.5 L453.5,604.8 L455.0,603.3"/>
<path d="M260.0,606.1 L261.5,607.6 L263.0,609.6 L264.5,611.6 L266.0,613.3 L267.5,614.1 L269.0,613.6 L270.5,611.6 L272.0,608.8 L273.5,606.1 L275.0,604.2 L276.5,603.8 L278.0,605.7 L279.5,609.6 L281.0,614.0 L282.5,617.3 L284.0,618.2 L285.5,616.6 L287.0,613.5 L288.5,609.7 L290.0,606.2 L291.5,603.7 L293.0,602.8 L294.5,602.1 L296.0,601.5 L297.5,600.8 L299.0,600.0 L300.5,599.3 L302.0,599.0 L303.5,599.7 L305.0,601.7 L306.5,604.4 L308.0,607.2 L309.5,609.3 L311.0,610.2 L312.5,609.9 L314.0,608.9 L315.5,607.6 L317.0,606.4 L318.5,605.7 L320.0,605.6 L321.5,605.7 L323.0,605.7 L324.5,605.9 L326.0,606.7 L327.5,607.8 L329.0,609.1 L330.5,610.1 L332.0,610.8 L333.5,610.9 L335.0,610.6 L336.5,610.3 L338.0,610.3 L339.5,610.7 L341.0,611.3 L342.5,611.7 L344.0,611.6 L345.5,610.7 L347.0,609.0 L348.5,606.9 L350.0,604.9 L351.5,603.5 L353.0,602.9 L354.5,602.9 L356.0,603.2 L357.5,603.5 L359.0,603.6 L360.5,603.4 L362.0,603.4 L363.5,603.6 L365.0,604.3 L366.5,605.6 L368.0,607.1 L369.5,608.6 L371.0,609.8 L372.5,610.5 L374.0,610.8 L375.5,610.7 L377.0,610.5 L378.5,610.3 L380.0,610.2 L381.5,610.3 L383.0,610.4 L384.5,610.5 L386.0,610.5 L387.5,610.4 L389.0,610.3 L390.5,610.1 L392.0,609.9 L393.5,609.7 L395.0,609.6 L396.5,609.4 L398.0,609.1 L399.5,608.6 L401.0,607.9 L402.5,607.0 L404.0,606.1 L405.5,605.1 L407.0,603.3 L408.5,600.8 L410.0,598.1 L411.5,595.7 L413.0,594.1 L414.5,593.8 L416.0,595.2 L417.5,598.1 L419.0,601.8 L420.5,605.8 L422.0,609.6 L423.5,612.5 L425.0,614.0 L426.5,614.0 L428.0,613.5 L429.5,613.0 L431.0,612.7 L432.5,612.7 L434.0,613.4 L435.5,614.6 L437.0,615.7 L438.5,616.4 L440.0,615.6 L441.5,613.8 L443.0,611.5 L444.5,609.7 L446.0,608.7 L447.5,607.8 L449.0,606.8 L450.5,605.7 L452.0,603.6 L453.5,600.5 L455.0,597.8"/>
<path d="M260.0,605.5 L261.5,606.5 L263.0,607.9 L264.5,610.0 L266.0,612.1 L267.5,614.0 L269.0,615.2 L270.5,615.5 L272.0,614.5 L273.5,612.6 L275.0,610.4 L276.5,608.5 L278.0,607.5 L279.5,608.0 L281.0,610.3 L282.5,613.4 L284.0,616.2 L285.5,617.6 L287.0,616.8 L288.5,614.4 L290.0,611.1 L291.5,607.5 L293.0,604.5 L294.5,602.8 L296.0,601.8 L297.5,601.1 L299.0,600.7 L300.5,600.5 L302.0,600.6 L303.5,601.0 L305.0,602.0 L306.5,604.0 L308.0,606.6 L309.5,609.3 L311.0,611.5 L312.5,612.6 L314.0,612.4 L315.5,611.3 L317.0,609.7 L318.5,608.0 L320.0,606.6 L321.5,606.0 L323.0,605.7 L324.5,605.8 L326.0,606.1 L327.5,607.0 L329.0,608.3 L330.5,609.7 L332.0,611.0 L333.5,612.0 L335.0,612.2 L336.5,611.8 L338.0,611.1 L339.5,610.3 L341.0,609.8 L342.5,609.5 L344.0,609.4 L345.5,609.2 L347.0,608.8 L348.5,607.9 L350.0,607.0 L351.5,606.1 L353.0,605.5 L354.5,605.6 L356.0,606.1 L357.5,606.9 L359.0,607.5 L360.5,607.9 L362.0,607.9 L363.5,607.7 L365.0,607.6 L366.5,607.8 L368.0,608.4 L369.5,609.4 L371.0,610.4 L372.5,611.4 L374.0,612.0 L375.5,612.1 L377.0,611.7 L378.5,611.0 L380.0,610.0 L381.5,608.8 L383.0,607.8 L384.5,606.8 L386.0,605.9 L387.5,605.2 L389.0,604.8 L390.5,604.8 L392.0,605.2 L393.5,605.9 L395.0,607.1 L396.5,608.5 L398.0,610.0 L399.5,611.4 L401.0,612.5 L402.5,613.1 L404.0,613.2 L405.5,612.8 L407.0,612.1 L408.5,610.7 L410.0,608.5 L411.5,605.9 L413.0,603.3 L414.5,601.2 L416.0,600.0 L417.5,600.1 L419.0,601.6 L420.5,604.0 L422.0,606.7 L423.5,609.4 L425.0,611.4 L426.5,612.4 L428.0,612.0 L429.5,610.7 L431.0,609.2 L432.5,607.9 L434.0,606.9 L435.5,606.6 L437.0,607.1 L438.5,608.3 L440.0,609.7 L441.5,610.8 L443.0,611.1 L444.5,611.1 L446.0,611.2 L447.5,611.7 L449.0,612.3 L450.5,612.5 L452.0,612.3 L453.5,611.4 L455.0,609.1"/>
<path d="M260.0,608.4 L261.5,610.5 L263.0,613.3 L264.5,616.1 L266.0,618.3 L267.5,619.3 L269.0,618.5 L270.5,616.0 L272.0,612.7 L273.5,609.4 L275.0,607.0 L276.5,606.4 L278.0,608.3 L279.5,611.7 L281.0,615.2 L282.5,617.1 L284.0,616.7 L285.5,614.4 L287.0,611.0 L288.5,607.3 L290.0,604.3 L291.5,602.9 L293.0,602.6 L294.5,602.7 L296.0,603.1 L297.5,603.5 L299.0,603.9 L300.5,604.4 L302.0,605.0 L303.5,606.3 L305.0,608.0 L306.5,609.7 L308.0,610.9 L309.5,611.2 L311.0,610.4 L312.5,609.3 L314.0,608.1 L315.5,607.4 L317.0,607.3 L318.5,608.1 L320.0,609.1 L321.5,610.0 L323.0,610.6 L324.5,611.2 L326.0,611.9 L327.5,612.6 L329.0,613.3 L330.5,613.7 L332.0,613.7 L333.5,613.2 L335.0,612.6 L336.5,612.0 L338.0,611.6 L339.5,611.4 L341.0,611.0 L342.5,610.2 L344.0,609.0 L345.5,607.2 L347.0,605.3 L348.5,603.8 L350.0,603.0 L351.5,603.4 L353.0,604.6 L354.5,606.3 L356.0,607.9 L357.5,608.9 L359.0,609.3 L360.5,609.2 L362.0,609.0 L363.5,609.1 L365.0,609.8 L366.5,611.0 L368.0,612.5 L369.5,614.0 L371.0,615.1 L372.5,615.4 L374.0,615.1 L375.5,614.2 L377.0,612.8 L378.5,611.3 L380.0,609.8 L381.5,608.7 L383.0,607.9 L384.5,607.5 L386.0,607.5 L387.5,607.9 L389.0,608.5 L390.5,609.2 L392.0,609.9 L393.5,610.4 L395.0,610.8 L396.5,610.9 L398.0,611.0 L399.5,610.8 L401.0,610.6 L402.5,610.5 L404.0,610.5 L405.5,610.1 L407.0,608.7 L408.5,606.5 L410.0,603.9 L411.5,601.3 L413.0,599.3 L414.5,598.5 L416.0,599.4 L417.5,601.5 L419.0,604.5 L420.5,608.0 L422.0,611.3 L423.5,613.9 L425.0,614.9 L426.5,615.0 L428.0,614.5 L429.5,613.8 L431.0,613.0 L432.5,612.6 L434.0,612.9 L435.5,613.6 L437.0,614.5 L438.5,615.0 L440.0,614.6 L441.5,613.7 L443.0,612.8 L444.5,612.6 L446.0,612.6 L447.5,612.2 L449.0,611.4 L450.5,610.0 L452.0,607.4 L453.5,604.0 L455.0,602.5"/>
<path d="M260.0,606.9 L261.5,607.2 L263.0,608.4 L264.5,610.0 L266.0,611.9 L267.5,613.4 L269.0,614.4 L270.5,614.3 L272.0,613.2 L273.5,611.6 L275.0,610.0 L276.5,609.0 L278.0,609.0 L279.5,610.6 L281.0,613.3 L282.5,615.9 L284.0,617.5 L285.5,617.4 L287.0,616.1 L288.5,614.0 L290.0,611.8 L291.5,609.9 L293.0,609.0 L294.5,608.6 L296.0,608.0 L297.5,607.2 L299.0,606.1 L300.5,604.7 L302.0,603.3 L303.5,602.2 L305.0,602.0 L306.5,602.7 L308.0,604.1 L309.5,605.7 L311.0,607.0 L312.5,607.9 L314.0,608.4 L315.5,608.9 L317.0,609.5 L318.5,610.4 L320.0,611.6 L321.5,612.9 L323.0,613.9 L324.5,614.6 L326.0,615.1 L327.5,615.6 L329.0,615.8 L330.5,615.7 L332.0,615.2 L333.5,614.2 L335.0,612.7 L336.5,611.2 L338.0,609.8 L339.5,609.0 L341.0,608.6 L342.5,608.5 L344.0,608.4 L345.5,608.1 L347.0,607.4 L348.5,606.5 L350.0,605.7 L351.5,605.1 L353.0,605.2 L354.5,605.8 L356.0,606.9 L357.5,608.1 L359.0,609.1 L360.5,609.9 L362.0,610.6 L363.5,611.2 L365.0,611.7 L366.5,612.5 L368.0,613.2 L369.5,613.8 L371.0,614.1 L372.5,613.9 L374.0,613.3 L375.5,612.3 L377.0,611.2 L378.5,610.1 L380.0,609.3 L381.5,608.9 L383.0,608.9 L384.5,609.1 L386.0,609.6 L387.5,610.2 L389.0,611.0 L390.5,611.6 L392.0,612.3 L393.5,612.8 L395.0,613.1 L396.5,613.1 L398.0,612.8 L399.5,612.3 L401.0,611.4 L402.5,610.2 L404.0,608.9 L405.5,607.7 L407.0,606.4 L408.5,604.7 L410.0,602.9 L411.5,601.3 L413.0,600.2 L414.5,600.0 L416.0,600.9 L417.5,603.0 L419.0,606.0 L420.5,609.2 L422.0,612.4 L423.5,615.1 L425.0,616.8 L426.5,617.3 L428.0,616.8 L429.5,616.0 L431.0,615.1 L432.5,614.4 L434.0,613.9 L435.5,613.9 L437.0,614.2 L438.5,614.5 L440.0,614.3 L441.5,613.1 L443.0,611.5 L444.5,610.0 L446.0,609.0 L447.5,608.4 L449.0,608.0 L450.5,607.5 L452.0,607.0 L453.5,605.7 L455.0,603.9"/>
<path d="M260.0,608.7 L261.5,610.9 L263.0,613.6 L264.5,616.4 L266.0,618.9 L267.5,620.5 L269.0,620.8 L270.5,619.7 L272.0,617.6 L273.5,615.2 L275.0,613.1 L276.5,611.8 L278.0,612.2 L279.5,613.6 L281.0,615.2 L282.5,615.9 L284.0,614.9 L285.5,612.6 L287.0,609.8 L288.5,607.0 L290.0,605.0 L291.5,604.3 L293.0,604.9 L294.5,605.6 L296.0,606.4 L297.5,607.0 L299.0,607.3 L300.5,607.6 L302.0,607.8 L303.5,608.6 L305.0,610.0 L306.5,611.6 L308.0,613.0 L309.5,613.7 L311.0,613.5 L312.5,612.7 L314.0,611.6 L315.5,610.6 L317.0,609.9 L318.5,609.9 L320.0,610.4 L321.5,611.0 L323.0,611.6 L324.5,612.3 L326.0,613.2 L327.5,614.1 L329.0,614.8 L330.5,615.0 L332.0,614.7 L333.5,613.7 L335.0,612.5 L336.5,611.2 L338.0,610.4 L339.5,610.1 L341.0,610.0 L342.5,610.1 L344.0,610.1 L345.5,609.7 L347.0,609.1 L348.5,608.5 L350.0,608.2 L351.5,608.5 L353.0,609.3 L354.5,610.4 L356.0,611.5 L357.5,612.3 L359.0,612.6 L360.5,612.5 L362.0,612.3 L363.5,612.0 L365.0,612.1 L366.5,612.3 L368.0,612.7 L369.5,612.9 L371.0,613.0 L372.5,612.8 L374.0,612.4 L375.5,611.9 L377.0,611.4 L378.5,611.0 L380.0,610.9 L381.5,610.9 L383.0,611.1 L384.5,611.3 L386.0,611.5 L387.5,611.6 L389.0,611.8 L390.5,612.0 L392.0,612.3 L393.5,612.6 L395.0,612.9 L396.5,613.1 L398.0,613.3 L399.5,613.4 L401.0,613.1 L402.5,612.7 L404.0,612.2 L405.5,611.5 L407.0,610.0 L408.5,608.0 L410.0,605.8 L411.5,603.8 L413.0,602.4 L414.5,602.1 L416.0,603.0 L417.5,605.0 L419.0,607.5 L420.5,610.2 L422.0,612.6 L423.5,614.3 L425.0,615.0 L426.5,614.7 L428.0,614.2 L429.5,613.7 L431.0,613.5 L432.5,613.5 L434.0,614.1 L435.5,615.1 L437.0,616.1 L438.5,616.6 L440.0,616.1 L441.5,615.0 L443.0,613.8 L444.5,613.2 L446.0,613.1 L447.5,613.0 L449.0,612.8 L450.5,612.4 L452.0,611.0 L453.5,608.8 L455.0,607.2"/>
<path d="M260.0,611.3 L261.5,613.0 L263.0,614.8 L264.5,616.4 L266.0,617.3 L267.5,617.1 L269.0,615.7 L270.5,613.6 L272.0,611.4 L273.5,609.8 L275.0,609.3 L276.5,610.6 L278.0,613.3 L279.5,616.2 L281.0,618.3 L282.5,618.5 L284.0,617.1 L285.5,614.9 L287.0,612.3 L288.5,610.2 L290.0,609.2 L291.5,609.1 L293.0,609.0 L294.5,608.7 L296.0,608.0 L297.5,607.0 L299.0,605.9 L300.5,604.9 L302.0,604.7 L303.5,605.5 L305.0,606.9 L306.5,608.6 L308.0,609.9 L309.5,610.6 L311.0,610.8 L312.5,610.8 L314.0,610.9 L315.5,611.2 L317.0,612.0 L318.5,613.2 L320.0,614.2 L321.5,615.0 L323.0,615.5 L324.5,616.1 L326.0,616.6 L327.5,616.8 L329.0,616.6 L330.5,615.8 L332.0,614.6 L333.5,613.1 L335.0,611.7 L336.5,610.9 L338.0,610.6 L339.5,610.6 L341.0,610.7 L342.5,610.6 L344.0,609.9 L345.5,608.9 L347.0,607.8 L348.5,606.9 L350.0,606.6 L351.5,607.0 L353.0,607.9 L354.5,609.0 L356.0,610.1 L357.5,610.9 L359.0,611.6 L360.5,612.2 L362.0,612.9 L363.5,613.9 L365.0,615.1 L366.5,616.1 L368.0,616.8 L369.5,617.1 L371.0,616.7 L372.5,615.8 L374.0,614.5 L375.5,613.2 L377.0,611.8 L378.5,610.8 L380.0,610.1 L381.5,609.7 L383.0,609.5 L384.5,609.6 L386.0,609.9 L387.5,610.4 L389.0,610.9 L390.5,611.6 L392.0,612.3 L393.5,613.0 L395.0,613.5 L396.5,613.8 L398.0,613.9 L399.5,613.6 L401.0,613.1 L402.5,612.4 L404.0,611.7 L405.5,610.2 L407.0,608.3 L408.5,606.2 L410.0,604.5 L411.5,603.5 L413.0,603.4 L414.5,604.7 L416.0,606.9 L417.5,609.6 L419.0,612.3 L420.5,614.5 L422.0,615.9 L423.5,616.0 L425.0,615.0 L426.5,613.7 L428.0,612.6 L429.5,611.8 L431.0,611.6 L432.5,612.1 L434.0,613.3 L435.5,614.7 L437.0,615.8 L438.5,616.0 L440.0,615.5 L441.5,614.8 L443.0,614.6 L444.5,614.8 L446.0,614.9 L447.5,614.6 L449.0,614.1 L450.5,612.4 L452.0,609.7 L453.5,607.6 L455.0,607.0"/>
<path d="M260.0,609.9 L261.5,610.1 L263.0,611.1 L264.5,613.1 L266.0,615.4 L267.5,617.8 L269.0,619.6 L270.5,620.5 L272.0,620.0 L273.5,618.5 L275.0,616.4 L276.5,614.4 L278.0,613.0 L279.5,612.9 L281.0,614.4 L282.5,616.4 L284.0,617.8 L285.5,617.8 L287.0,616.3 L288.5,613.8 L290.0,611.2 L291.5,609.0 L293.0,608.0 L294.5,608.4 L296.0,609.4 L297.5,610.3 L299.0,611.1 L300.5,611.5 L302.0,611.6 L303.5,611.6 L305.0,611.7 L306.5,612.6 L308.0,613.8 L309.5,614.9 L311.0,615.6 L312.5,615.4 L314.0,614.3 L315.5,612.9 L317.0,611.4 L318.5,610.2 L320.0,609.5 L321.5,609.6 L323.0,609.9 L324.5,610.4 L326.0,611.0 L327.5,611.9 L329.0,613.1 L330.5,614.4 L332.0,615.5 L333.5,616.3 L335.0,616.5 L336.5,616.4 L338.0,616.2 L339.5,616.2 L341.0,616.6 L342.5,617.0 L344.0,617.4 L345.5,617.4 L347.0,616.7 L348.5,615.3 L350.0,613.5 L351.5,611.7 L353.0,610.2 L354.5,609.3 L356.0,609.0 L357.5,609.1 L359.0,609.4 L360.5,609.6 L362.0,609.9 L363.5,610.3 L365.0,611.0 L366.5,612.1 L368.0,613.6 L369.5,615.3 L371.0,616.8 L372.5,617.9 L374.0,618.4 L375.5,618.2 L377.0,617.4 L378.5,616.4 L380.0,615.1 L381.5,613.9 L383.0,612.8 L384.5,612.0 L386.0,611.4 L387.5,611.1 L389.0,611.0 L390.5,611.3 L392.0,611.8 L393.5,612.7 L395.0,613.7 L396.5,614.9 L398.0,616.0 L399.5,616.9 L401.0,617.5 L402.5,617.7 L404.0,617.5 L405.5,616.9 L407.0,616.1 L408.5,614.5 L410.0,612.1 L411.5,609.4 L413.0,606.8 L414.5,604.6 L416.0,603.5 L417.5,603.6 L419.0,605.1 L420.5,607.3 L422.0,610.0 L423.5,612.5 L425.0,614.6 L426.5,615.8 L428.0,615.7 L429.5,615.3 L431.0,614.9 L432.5,614.6 L434.0,614.7 L435.5,615.3 L437.0,616.5 L438.5,617.9 L440.0,619.1 L441.5,619.5 L443.0,618.9 L444.5,617.9 L446.0,617.1 L447.5,616.8 L449.0,616.6 L450.5,616.1 L452.0,615.4 L453.5,614.0 L455.0,611.5"/>
<path d="M260.0,611.7 L261.5,612.7 L263.0,614.7 L264.5,617.3 L266.0,619.9 L267.5,622.2 L269.0,623.4 L270.5,623.2 L272.0,621.6 L273.5,619.4 L275.0,617.2 L276.5,615.8 L278.0,615.8 L279.5,617.8 L281.0,620.9 L282.5,623.4 L284.0,623.9 L285.5,621.7 L287.0,617.6 L288.5,612.6 L290.0,607.8 L291.5,604.1 L293.0,602.5 L294.5,602.3 L296.0,602.8 L297.5,603.5 L299.0,604.4 L300.5,605.4 L302.0,606.7 L303.5,608.2 L305.0,610.9 L306.5,614.3 L308.0,617.7 L309.5,620.4 L311.0,621.9 L312.5,621.6 L314.0,620.3 L315.5,618.4 L317.0,616.2 L318.5,614.4 L320.0,613.4 L321.5,612.8 L323.0,612.4 L324.5,612.0 L326.0,612.2 L327.5,612.8 L329.0,613.6 L330.5,614.4 L332.0,615.0 L333.5,615.0 L335.0,614.5 L336.5,613.9 L338.0,613.5 L339.5,613.8 L341.0,614.7 L342.5,615.7 L344.0,616.7 L345.5,617.1 L347.0,616.6 L348.5,615.6 L350.0,614.3 L351.5,613.2 L353.0,612.7 L354.5,612.7 L356.0,612.9 L357.5,613.0 L359.0,612.9 L360.5,612.2 L362.0,611.5 L363.5,611.0 L365.0,610.9 L366.5,611.6 L368.0,612.8 L369.5,614.3 L371.0,615.8 L372.5,617.0 L374.0,617.6 L375.5,617.8 L377.0,617.7 L378.5,617.3 L380.0,616.8 L381.5,616.3 L383.0,615.9 L384.5,615.4 L386.0,614.9 L387.5,614.4 L389.0,614.1 L390.5,613.9 L392.0,613.9 L393.5,614.2 L395.0,614.8 L396.5,615.6 L398.0,616.3 L399.5,617.0 L401.0,617.3 L402.5,617.2 L404.0,616.7 L405.5,615.9 L407.0,614.5 L408.5,611.9 L410.0,608.6 L411.5,605.2 L413.0,602.3 L414.5,600.5 L416.0,600.4 L417.5,602.2 L419.0,605.4 L420.5,609.3 L422.0,613.5 L423.5,617.2 L425.0,619.8 L426.5,620.7 L428.0,620.4 L429.5,619.8 L431.0,619.0 L432.5,618.4 L434.0,618.1 L435.5,618.5 L437.0,619.3 L438.5,620.0 L440.0,620.0 L441.5,618.8 L443.0,617.2 L444.5,615.9 L446.0,615.7 L447.5,616.1 L449.0,616.5 L450.5,616.7 L452.0,616.4 L453.5,614.4 L455.0,611.3"/>
<path d="M260.0,611.9 L261.5,613.2 L263.0,615.5 L264.5,618.4 L266.0,621.3 L267.5,623.7 L269.0,625.1 L270.5,625.0 L272.0,623.3 L273.5,620.8 L275.0,617.9 L276.5,615.4 L278.0,613.9 L279.5,614.1 L281.0,615.1 L282.5,615.9 L284.0,615.5 L285.5,613.6 L287.0,610.9 L288.5,608.2 L290.0,606.1 L291.5,605.2 L293.0,605.9 L294.5,607.4 L296.0,608.8 L297.5,609.9 L299.0,610.6 L300.5,610.8 L302.0,610.9 L303.5,611.1 L305.0,612.2 L306.5,613.9 L308.0,615.8 L309.5,617.4 L311.0,618.3 L312.5,618.2 L314.0,617.5 L315.5,616.4 L317.0,615.3 L318.5,614.3 L320.0,613.7 L321.5,613.1 L323.0,612.5 L324.5,611.8 L326.0,611.6 L327.5,611.8 L329.0,612.4 L330.5,613.3 L332.0,614.2 L333.5,614.9 L335.0,615.3 L336.5,615.7 L338.0,616.2 L339.5,617.0 L341.0,617.7 L342.5,618.1 L344.0,617.9 L345.5,617.0 L347.0,615.1 L348.5,612.8 L350.0,610.5 L351.5,608.8 L353.0,607.9 L354.5,608.1 L356.0,608.8 L357.5,609.9 L359.0,611.0 L360.5,611.9 L362.0,612.7 L363.5,613.5 L365.0,614.2 L366.5,615.1 L368.0,616.1 L369.5,616.8 L371.0,617.3 L372.5,617.4 L374.0,617.1 L375.5,616.7 L377.0,616.3 L378.5,616.0 L380.0,615.9 L381.5,616.0 L383.0,616.2 L384.5,616.2 L386.0,616.1 L387.5,615.7 L389.0,615.0 L390.5,614.2 L392.0,613.4 L393.5,612.7 L395.0,612.2 L396.5,612.0 L398.0,612.1 L399.5,612.4 L401.0,612.9 L402.5,613.5 L404.0,614.1 L405.5,614.6 L407.0,614.5 L408.5,613.5 L410.0,611.7 L411.5,609.5 L413.0,607.5 L414.5,606.0 L416.0,605.6 L417.5,606.5 L419.0,608.3 L420.5,610.6 L422.0,613.2 L423.5,615.5 L425.0,617.1 L426.5,617.5 L428.0,617.4 L429.5,617.2 L431.0,617.0 L432.5,616.9 L434.0,617.1 L435.5,617.7 L437.0,618.4 L438.5,618.9 L440.0,618.7 L441.5,617.5 L443.0,616.0 L444.5,615.0 L446.0,614.9 L447.5,615.2 L449.0,615.6 L450.5,615.8 L452.0,615.5 L453.5,613.9 L455.0,611.4"/>
<path d="M260.0,610.7 L261.5,611.4 L263.0,613.4 L264.5,616.2 L266.0,619.5 L267.5,622.6 L269.0,625.1 L270.5,626.3 L272.0,625.9 L273.5,624.3 L275.0,622.1 L276.5,619.9 L278.0,618.3 L279.5,618.1 L281.0,619.3 L282.5,620.8 L284.0,621.6 L285.5,620.8 L287.0,618.6 L288.5,615.7 L290.0,612.8 L291.5,610.5 L293.0,609.3 L294.5,609.3 L296.0,609.5 L297.5,609.5 L299.0,609.1 L300.5,608.6 L302.0,607.9 L303.5,607.3 L305.0,607.6 L306.5,608.9 L308.0,611.0 L309.5,613.4 L311.0,615.5 L312.5,616.9 L314.0,617.6 L315.5,617.8 L317.0,617.8 L318.5,617.7 L320.0,617.8 L321.5,618.1 L323.0,618.0 L324.5,617.7 L326.0,617.3 L327.5,617.2 L329.0,617.2 L330.5,617.3 L332.0,617.4 L333.5,617.4 L335.0,617.0 L336.5,616.5 L338.0,616.1 L339.5,616.0 L341.0,616.3 L342.5,616.7 L344.0,617.0 L345.5,616.8 L347.0,616.0 L348.5,614.6 L350.0,613.1 L351.5,611.9 L353.0,611.3 L354.5,611.5 L356.0,612.4 L357.5,613.5 L359.0,614.6 L360.5,615.4 L362.0,615.8 L363.5,615.9 L365.0,615.9 L366.5,615.9 L368.0,616.0 L369.5,616.0 L371.0,615.9 L372.5,615.6 L374.0,615.0 L375.5,614.4 L377.0,613.9 L378.5,613.7 L380.0,613.9 L381.5,614.5 L383.0,615.4 L384.5,616.5 L386.0,617.4 L387.5,618.2 L389.0,618.7 L390.5,619.0 L392.0,618.9 L393.5,618.6 L395.0,618.3 L396.5,618.1 L398.0,617.8 L399.5,617.7 L401.0,617.7 L402.5,617.6 L404.0,617.5 L405.5,617.4 L407.0,617.2 L408.5,616.0 L410.0,614.1 L411.5,611.6 L413.0,609.0 L414.5,606.6 L416.0,605.1 L417.5,604.7 L419.0,605.6 L420.5,607.2 L422.0,609.4 L423.5,611.8 L425.0,613.9 L426.5,615.3 L428.0,615.9 L429.5,616.4 L431.0,617.0 L432.5,617.7 L434.0,618.5 L435.5,619.6 L437.0,620.9 L438.5,622.0 L440.0,622.5 L441.5,621.9 L443.0,620.6 L444.5,619.1 L446.0,618.3 L447.5,618.3 L449.0,618.6 L450.5,618.9 L452.0,619.1 L453.5,618.3 L455.0,616.4"/>
<path d="M260.0,614.0 L261.5,615.9 L263.0,618.7 L264.5,622.0 L266.0,625.0 L267.5,627.3 L269.0,628.2 L270.5,627.4 L272.0,625.0 L273.5,621.8 L275.0,618.6 L276.5,616.1 L278.0,615.1 L279.5,616.0 L281.0,617.9 L282.5,619.4 L284.0,619.4 L285.5,617.5 L287.0,614.6 L288.5,611.3 L290.0,608.5 L291.5,606.8 L293.0,606.8 L294.5,607.5 L296.0,608.3 L297.5,609.0 L299.0,609.5 L300.5,609.9 L302.0,610.4 L303.5,611.3 L305.0,613.3 L306.5,615.9 L308.0,618.6 L309.5,620.7 L311.0,621.6 L312.5,621.3 L314.0,620.2 L315.5,618.6 L317.0,617.0 L318.5,615.7 L320.0,615.1 L321.5,614.8 L323.0,614.7 L324.5,614.7 L326.0,615.3 L327.5,616.4 L329.0,617.6 L330.5,618.8 L332.0,619.5 L333.5,619.6 L335.0,619.0 L336.5,618.1 L338.0,617.2 L339.5,616.6 L341.0,616.2 L342.5,615.8 L344.0,615.3 L345.5,614.3 L347.0,612.8 L348.5,611.2 L350.0,609.9 L351.5,609.3 L353.0,609.5 L354.5,610.5 L356.0,611.8 L357.5,613.1 L359.0,614.1 L360.5,614.6 L362.0,615.0 L363.5,615.4 L365.0,616.1 L366.5,617.2 L368.0,618.6 L369.5,620.0 L371.0,621.3 L372.5,622.2 L374.0,622.5 L375.5,622.4 L377.0,622.0 L378.5,621.3 L380.0,620.4 L381.5,619.4 L383.0,618.4 L384.5,617.2 L386.0,615.9 L387.5,614.7 L389.0,613.7 L390.5,612.9 L392.0,612.5 L393.5,612.5 L395.0,612.9 L396.5,613.6 L398.0,614.3 L399.5,615.0 L401.0,615.5 L402.5,615.6 L404.0,615.5 L405.5,615.2 L407.0,614.1 L408.5,612.1 L410.0,609.7 L411.5,607.4 L413.0,605.7 L414.5,605.1 L416.0,606.0 L417.5,608.4 L419.0,611.9 L420.5,615.7 L422.0,619.3 L423.5,622.2 L425.0,623.8 L426.5,623.7 L428.0,622.9 L429.5,621.7 L431.0,620.6 L432.5,619.7 L434.0,619.5 L435.5,619.9 L437.0,620.7 L438.5,621.3 L440.0,621.2 L441.5,620.0 L443.0,618.4 L444.5,617.1 L446.0,616.5 L447.5,616.1 L449.0,615.6 L450.5,614.9 L452.0,613.6 L453.5,611.1 L455.0,608.1"/>
<path d="M260.0,615.6 L261.5,617.6 L263.0,619.9 L264.5,622.3 L266.0,624.2 L267.5,625.0 L269.0,624.4 L270.5,622.6 L272.0,620.4 L273.5,618.3 L275.0,616.9 L276.5,617.1 L278.0,618.8 L279.5,620.9 L281.0,622.2 L282.5,621.6 L284.0,619.5 L285.5,616.5 L287.0,613.7 L288.5,611.5 L290.0,610.8 L291.5,611.8 L293.0,612.9 L294.5,613.9 L296.0,614.4 L297.5,614.4 L299.0,613.9 L300.5,613.3 L302.0,613.1 L303.5,614.0 L305.0,615.5 L306.5,617.2 L308.0,618.5 L309.5,619.1 L311.0,618.9 L312.5,618.2 L314.0,617.4 L315.5,616.6 L317.0,616.2 L318.5,616.1 L320.0,615.9 L321.5,615.5 L323.0,615.0 L324.5,615.0 L326.0,615.3 L327.5,615.9 L329.0,616.6 L330.5,617.2 L332.0,617.6 L333.5,617.7 L335.0,618.0 L336.5,618.6 L338.0,619.5 L339.5,620.4 L341.0,621.1 L342.5,621.1 L344.0,620.3 L345.5,618.8 L347.0,617.0 L348.5,615.4 L350.0,614.4 L351.5,614.3 L353.0,614.8 L354.5,615.7 L356.0,616.5 L357.5,617.0 L359.0,617.0 L360.5,616.7 L362.0,616.4 L363.5,616.2 L365.0,616.2 L366.5,616.5 L368.0,616.7 L369.5,616.9 L371.0,617.0 L372.5,616.9 L374.0,616.8 L375.5,616.8 L377.0,617.0 L378.5,617.3 L380.0,617.7 L381.5,618.0 L383.0,618.2 L384.5,618.1 L386.0,617.9 L387.5,617.7 L389.0,617.5 L390.5,617.5 L392.0,617.9 L393.5,618.6 L395.0,619.5 L396.5,620.5 L398.0,621.4 L399.5,621.8 L401.0,621.8 L402.5,621.2 L404.0,620.1 L405.5,617.7 L407.0,614.3 L408.5,610.3 L410.0,606.5 L411.5,603.4 L413.0,601.8 L414.5,602.3 L416.0,604.6 L417.5,608.2 L419.0,612.6 L420.5,617.1 L422.0,621.0 L423.5,623.5 L425.0,624.4 L426.5,624.4 L428.0,623.9 L429.5,623.1 L431.0,622.2 L432.5,621.7 L434.0,621.7 L435.5,621.9 L437.0,621.9 L438.5,621.1 L440.0,619.7 L441.5,618.4 L443.0,617.7 L444.5,618.0 L446.0,618.3 L447.5,618.3 L449.0,618.0 L450.5,616.6 L452.0,613.8 L453.5,610.9 L455.0,610.2"/>
<path d="M260.0,619.9 L261.5,621.0 L263.0,622.5 L264.5,624.3 L266.0,625.8 L267.5,626.9 L269.0,627.2 L270.5,626.4 L272.0,624.5 L273.5,621.9 L275.0,619.2 L276.5,616.9 L278.0,615.5 L279.5,615.7 L281.0,617.2 L282.5,619.2 L284.0,620.6 L285.5,620.7 L287.0,619.5 L288.5,617.6 L290.0,615.4 L291.5,613.5 L293.0,612.5 L294.5,612.5 L296.0,612.7 L297.5,613.0 L299.0,613.1 L300.5,613.1 L302.0,613.2 L303.5,613.4 L305.0,614.1 L306.5,615.7 L308.0,617.7 L309.5,619.7 L311.0,621.2 L312.5,622.0 L314.0,622.1 L315.5,621.7 L317.0,621.1 L318.5,620.6 L320.0,620.2 L321.5,620.2 L323.0,620.0 L324.5,619.7 L326.0,619.4 L327.5,619.3 L329.0,619.3 L330.5,619.4 L332.0,619.3 L333.5,619.0 L335.0,618.4 L336.5,617.7 L338.0,617.2 L339.5,617.1 L341.0,617.5 L342.5,618.1 L344.0,618.8 L345.5,619.3 L347.0,619.2 L348.5,618.7 L350.0,617.8 L351.5,616.9 L353.0,616.2 L354.5,615.9 L356.0,615.9 L357.5,615.9 L359.0,615.9 L360.5,615.7 L362.0,615.4 L363.5,615.2 L365.0,615.3 L366.5,615.9 L368.0,616.9 L369.5,618.2 L371.0,619.6 L372.5,620.9 L374.0,621.8 L375.5,622.3 L377.0,622.6 L378.5,622.6 L380.0,622.3 L381.5,622.0 L383.0,621.7 L384.5,621.2 L386.0,620.6 L387.5,620.0 L389.0,619.4 L390.5,618.9 L392.0,618.4 L393.5,618.2 L395.0,618.1 L396.5,618.2 L398.0,618.4 L399.5,618.7 L401.0,618.8 L402.5,618.8 L404.0,618.5 L405.5,618.1 L407.0,617.5 L408.5,616.2 L410.0,614.3 L411.5,612.2 L413.0,610.2 L414.5,608.7 L416.0,608.0 L417.5,608.7 L419.0,610.4 L420.5,612.8 L422.0,615.7 L423.5,618.5 L425.0,621.0 L426.5,622.6 L428.0,623.4 L429.5,623.8 L431.0,624.0 L432.5,624.1 L434.0,624.3 L435.5,624.6 L437.0,625.1 L438.5,625.3 L440.0,625.0 L441.5,623.9 L443.0,622.0 L444.5,620.0 L446.0,618.4 L447.5,617.5 L449.0,616.9 L450.5,616.4 L452.0,616.0 L453.5,615.2 L455.0,613.8"/>
<path d="M260.0,615.9 L261.5,616.7 L263.0,618.0 L264.5,619.6 L266.0,621.0 L267.5,622.0 L269.0,622.1 L270.5,621.0 L272.0,619.3 L273.5,617.5 L275.0,616.1 L276.5,615.5 L278.0,616.5 L279.5,618.9 L281.0,621.7 L282.5,623.7 L284.0,624.1 L285.5,623.0 L287.0,620.9 L288.5,618.5 L290.0,616.5 L291.5,615.4 L293.0,615.6 L294.5,615.9 L296.0,616.2 L297.5,616.3 L299.0,616.2 L300.5,615.8 L302.0,615.5 L303.5,615.5 L305.0,616.3 L306.5,617.4 L308.0,618.4 L309.5,619.0 L311.0,618.7 L312.5,617.7 L314.0,616.5 L315.5,615.3 L317.0,614.4 L318.5,614.1 L320.0,614.4 L321.5,615.0 L323.0,615.7 L324.5,616.5 L326.0,617.6 L327.5,618.9 L329.0,620.0 L330.5,620.9 L332.0,621.2 L333.5,621.0 L335.0,620.4 L336.5,619.7 L338.0,619.2 L339.5,619.2 L341.0,619.4 L342.5,619.6 L344.0,619.6 L345.5,619.2 L347.0,618.5 L348.5,617.6 L350.0,616.8 L351.5,616.4 L353.0,616.7 L354.5,617.2 L356.0,617.9 L357.5,618.4 L359.0,618.6 L360.5,618.4 L362.0,618.1 L363.5,617.9 L365.0,617.9 L366.5,618.2 L368.0,618.6 L369.5,619.0 L371.0,619.2 L372.5,619.1 L374.0,618.6 L375.5,618.0 L377.0,617.3 L378.5,616.7 L380.0,616.3 L381.5,616.1 L383.0,616.1 L384.5,616.2 L386.0,616.4 L387.5,616.8 L389.0,617.3 L390.5,617.8 L392.0,618.6 L393.5,619.5 L395.0,620.4 L396.5,621.3 L398.0,622.1 L399.5,622.6 L401.0,622.8 L402.5,622.6 L404.0,622.1 L405.5,621.3 L407.0,619.7 L408.5,617.3 L410.0,614.6 L411.5,612.0 L413.0,609.8 L414.5,608.6 L416.0,608.6 L417.5,609.9 L419.0,611.9 L420.5,614.4 L422.0,616.8 L423.5,618.9 L425.0,620.0 L426.5,620.2 L428.0,620.1 L429.5,620.0 L431.0,620.0 L432.5,620.2 L434.0,620.7 L435.5,621.6 L437.0,622.5 L438.5,623.0 L440.0,622.5 L441.5,621.3 L443.0,619.9 L444.5,618.9 L446.0,618.7 L447.5,618.6 L449.0,618.5 L450.5,618.4 L452.0,617.6 L453.5,615.9 L455.0,614.4"/>
<path d="M260.0,619.5 L261.5,621.1 L263.0,622.8 L264.5,624.2 L266.0,625.0 L267.5,625.2 L269.0,624.6 L270.5,623.2 L272.0,621.5 L273.5,620.2 L275.0,619.6 L276.5,620.0 L278.0,621.9 L279.5,624.7 L281.0,627.2 L282.5,628.3 L284.0,627.0 L285.5,623.7 L287.0,619.4 L288.5,615.1 L290.0,611.7 L291.5,609.9 L293.0,610.2 L294.5,611.1 L296.0,612.4 L297.5,613.5 L299.0,614.3 L300.5,614.8 L302.0,615.2 L303.5,616.1 L305.0,617.8 L306.5,620.1 L308.0,622.4 L309.5,624.2 L311.0,625.0 L312.5,624.7 L314.0,623.5 L315.5,621.7 L317.0,619.7 L318.5,617.7 L320.0,616.2 L321.5,614.8 L323.0,613.7 L324.5,613.3 L326.0,613.9 L327.5,615.4 L329.0,617.5 L330.5,619.8 L332.0,621.9 L333.5,623.3 L335.0,624.2 L336.5,624.6 L338.0,624.9 L339.5,625.1 L341.0,625.0 L342.5,624.7 L344.0,623.9 L345.5,622.4 L347.0,620.4 L348.5,618.1 L350.0,616.0 L351.5,614.5 L353.0,613.7 L354.5,613.5 L356.0,613.7 L357.5,614.0 L359.0,614.4 L360.5,614.7 L362.0,615.3 L363.5,616.3 L365.0,617.7 L366.5,619.4 L368.0,621.3 L369.5,623.0 L371.0,624.3 L372.5,624.9 L374.0,624.8 L375.5,624.2 L377.0,623.4 L378.5,622.3 L380.0,621.3 L381.5,620.4 L383.0,619.6 L384.5,618.9 L386.0,618.4 L387.5,618.1 L389.0,618.0 L390.5,618.2 L392.0,618.7 L393.5,619.4 L395.0,620.2 L396.5,621.0 L398.0,621.6 L399.5,621.9 L401.0,621.7 L402.5,621.1 L404.0,620.3 L405.5,619.3 L407.0,617.7 L408.5,615.7 L410.0,613.5 L411.5,611.7 L413.0,610.6 L414.5,610.3 L416.0,611.3 L417.5,613.3 L419.0,615.6 L420.5,618.0 L422.0,619.9 L423.5,621.3 L425.0,621.7 L426.5,621.1 L428.0,620.5 L429.5,620.3 L431.0,620.5 L432.5,621.2 L434.0,622.3 L435.5,623.9 L437.0,625.2 L438.5,626.0 L440.0,625.6 L441.5,624.4 L443.0,622.9 L444.5,622.1 L446.0,622.2 L447.5,622.5 L449.0,622.8 L450.5,622.8 L452.0,621.7 L453.5,619.0 L455.0,615.7"/>
<path d="M260.0,617.7 L261.5,617.9 L263.0,618.9 L264.5,620.7 L266.0,622.8 L267.5,624.7 L269.0,626.1 L270.5,626.5 L272.0,625.6 L273.5,623.7 L275.0,621.6 L276.5,619.8 L278.0,619.0 L279.5,619.8 L281.0,622.4 L282.5,625.6 L284.0,628.0 L285.5,628.6 L287.0,627.2 L288.5,624.5 L290.0,621.2 L291.5,618.2 L293.0,616.2 L294.5,615.7 L296.0,615.6 L297.5,615.6 L299.0,615.4 L300.5,615.1 L302.0,614.6 L303.5,614.3 L305.0,614.4 L306.5,615.5 L308.0,617.2 L309.5,618.9 L311.0,620.3 L312.5,620.7 L314.0,620.2 L315.5,619.3 L317.0,618.3 L318.5,617.5 L320.0,617.4 L321.5,618.0 L323.0,618.8 L324.5,619.7 L326.0,620.7 L327.5,622.0 L329.0,623.5 L330.5,624.9 L332.0,625.9 L333.5,626.4 L335.0,626.1 L336.5,625.2 L338.0,624.1 L339.5,623.2 L341.0,622.7 L342.5,622.3 L344.0,622.0 L345.5,621.5 L347.0,620.4 L348.5,618.9 L350.0,617.1 L351.5,615.6 L353.0,614.6 L354.5,614.3 L356.0,614.7 L357.5,615.5 L359.0,616.3 L360.5,616.9 L362.0,617.2 L363.5,617.6 L365.0,618.1 L366.5,618.9 L368.0,620.2 L369.5,621.6 L371.0,623.1 L372.5,624.2 L374.0,625.0 L375.5,625.1 L377.0,624.9 L378.5,624.5 L380.0,623.9 L381.5,623.4 L383.0,622.9 L384.5,622.5 L386.0,622.0 L387.5,621.5 L389.0,621.1 L390.5,620.6 L392.0,620.2 L393.5,620.0 L395.0,620.0 L396.5,620.0 L398.0,620.2 L399.5,620.4 L401.0,620.5 L402.5,620.5 L404.0,620.2 L405.5,619.8 L407.0,619.4 L408.5,618.3 L410.0,616.5 L411.5,614.3 L413.0,612.2 L414.5,610.7 L416.0,610.1 L417.5,610.9 L419.0,613.0 L420.5,616.0 L422.0,619.2 L423.5,622.3 L425.0,624.7 L426.5,626.0 L428.0,625.9 L429.5,625.2 L431.0,624.4 L432.5,623.6 L434.0,623.1 L435.5,623.1 L437.0,623.7 L438.5,624.5 L440.0,625.0 L441.5,624.8 L443.0,623.6 L444.5,622.2 L446.0,621.3 L447.5,621.3 L449.0,621.4 L450.5,621.6 L452.0,621.6 L453.5,620.9 L455.0,618.9"/>
<path d="M260.0,619.0 L261.5,619.5 L263.0,620.8 L264.5,622.8 L266.0,624.9 L267.5,626.6 L269.0,627.6 L270.5,627.4 L272.0,625.6 L273.5,622.9 L275.0,619.8 L276.5,617.1 L278.0,615.5 L279.5,615.7 L281.0,618.0 L282.5,621.2 L284.0,624.1 L285.5,625.7 L287.0,625.5 L288.5,624.2 L290.0,622.2 L291.5,620.1 L293.0,618.5 L294.5,618.0 L296.0,617.7 L297.5,617.3 L299.0,616.9 L300.5,616.6 L302.0,616.4 L303.5,616.7 L305.0,617.5 L306.5,619.4 L308.0,621.7 L309.5,623.9 L311.0,625.3 L312.5,625.5 L314.0,624.5 L315.5,622.8 L317.0,620.7 L318.5,618.6 L320.0,617.1 L321.5,616.4 L323.0,616.1 L324.5,616.1 L326.0,616.4 L327.5,617.2 L329.0,618.3 L330.5,619.5 L332.0,620.5 L333.5,621.2 L335.0,621.4 L336.5,621.4 L338.0,621.3 L339.5,621.6 L341.0,622.4 L342.5,623.4 L344.0,624.4 L345.5,625.0 L347.0,625.0 L348.5,624.2 L350.0,623.0 L351.5,621.6 L353.0,620.5 L354.5,620.0 L356.0,619.9 L357.5,620.1 L359.0,620.4 L360.5,620.5 L362.0,620.3 L363.5,620.1 L365.0,619.8 L366.5,619.6 L368.0,619.5 L369.5,619.5 L371.0,619.5 L372.5,619.4 L374.0,619.1 L375.5,618.6 L377.0,618.4 L378.5,618.4 L380.0,618.7 L381.5,619.3 L383.0,620.3 L384.5,621.2 L386.0,622.0 L387.5,622.6 L389.0,622.8 L390.5,622.9 L392.0,622.9 L393.5,622.8 L395.0,623.0 L396.5,623.3 L398.0,623.8 L399.5,624.4 L401.0,624.9 L402.5,625.2 L404.0,625.0 L405.5,624.5 L407.0,623.6 L408.5,621.6 L410.0,618.8 L411.5,615.5 L413.0,612.2 L414.5,609.6 L416.0,608.1 L417.5,608.2 L419.0,609.8 L420.5,612.5 L422.0,615.7 L423.5,619.0 L425.0,621.8 L426.5,623.6 L428.0,624.1 L429.5,624.1 L431.0,624.0 L432.5,623.8 L434.0,623.9 L435.5,624.4 L437.0,625.3 L438.5,626.3 L440.0,626.9 L441.5,626.7 L443.0,625.5 L444.5,623.9 L446.0,622.6 L447.5,622.1 L449.0,621.9 L450.5,621.8 L452.0,621.7 L453.5,621.2 L455.0,619.8"/>
<path d="M260.0,621.1 L261.5,621.2 L263.0,621.1 L264.5,621.6 L266.0,622.6 L267.5,623.7 L269.0,624.7 L270.5,625.2 L272.0,624.9 L273.5,623.7 L275.0,622.0 L276.5,620.5 L278.0,619.8 L279.5,620.3 L281.0,622.6 L282.5,626.3 L284.0,629.9 L285.5,631.9 L287.0,631.4 L288.5,628.7 L290.0,624.8 L291.5,620.7 L293.0,617.2 L294.5,615.3 L296.0,615.2 L297.5,615.5 L299.0,616.0 L300.5,616.4 L302.0,616.6 L303.5,616.6 L305.0,616.6 L306.5,617.1 L308.0,618.4 L309.5,620.0 L311.0,621.5 L312.5,622.4 L314.0,622.3 L315.5,621.4 L317.0,620.4 L318.5,619.5 L320.0,618.9 L321.5,619.1 L323.0,619.8 L324.5,620.5 L326.0,620.9 L327.5,621.3 L329.0,621.8 L330.5,622.4 L332.0,622.9 L333.5,623.2 L335.0,623.3 L336.5,623.0 L338.0,622.7 L339.5,622.8 L341.0,623.5 L342.5,624.9 L344.0,626.4 L345.5,627.6 L347.0,628.1 L348.5,627.5 L350.0,625.7 L351.5,623.3 L353.0,620.7 L354.5,618.4 L356.0,616.9 L357.5,615.9 L359.0,615.4 L360.5,615.2 L362.0,615.1 L363.5,615.3 L365.0,615.8 L366.5,616.8 L368.0,618.3 L369.5,620.2 L371.0,622.1 L372.5,623.7 L374.0,624.8 L375.5,625.2 L377.0,625.0 L378.5,624.4 L380.0,623.8 L381.5,623.3 L383.0,623.0 L384.5,623.2 L386.0,623.6 L387.5,624.1 L389.0,624.5 L390.5,624.9 L392.0,625.0 L393.5,625.0 L395.0,624.8 L396.5,624.5 L398.0,624.1 L399.5,623.6 L401.0,623.1 L402.5,622.5 L404.0,621.9 L405.5,621.2 L407.0,620.7 L408.5,620.0 L410.0,618.4 L411.5,616.2 L413.0,613.5 L414.5,610.9 L416.0,608.9 L417.5,607.9 L419.0,608.5 L420.5,610.5 L422.0,613.5 L423.5,617.0 L425.0,620.6 L426.5,623.9 L428.0,626.2 L429.5,627.4 L431.0,628.3 L432.5,629.1 L434.0,629.8 L435.5,630.4 L437.0,631.1 L438.5,631.6 L440.0,631.6 L441.5,630.7 L443.0,628.4 L444.5,625.2 L446.0,622.0 L447.5,619.7 L449.0,618.7 L450.5,618.3 L452.0,618.3 L453.5,618.6 L455.0,618.0"/>
<path d="M260.0,619.3 L261.5,620.4 L263.0,621.6 L264.5,623.1 L266.0,624.9 L267.5,626.8 L269.0,628.4 L270.5,629.5 L272.0,629.7 L273.5,628.8 L275.0,626.9 L276.5,624.4 L278.0,622.0 L279.5,619.9 L281.0,619.0 L282.5,619.5 L284.0,621.0 L285.5,622.7 L287.0,623.5 L288.5,623.2 L290.0,622.2 L291.5,620.8 L293.0,619.6 L294.5,618.9 L296.0,619.1 L297.5,619.6 L299.0,619.8 L300.5,619.7 L302.0,619.3 L303.5,618.8 L305.0,618.4 L306.5,618.4 L308.0,619.3 L309.5,620.8 L311.0,622.5 L312.5,623.7 L314.0,624.0 L315.5,623.2 L317.0,621.6 L318.5,619.8 L320.0,618.1 L321.5,617.1 L323.0,617.2 L324.5,618.1 L326.0,619.6 L327.5,621.4 L329.0,623.6 L330.5,625.7 L332.0,627.4 L333.5,628.3 L335.0,628.3 L336.5,627.3 L338.0,625.4 L339.5,623.3 L341.0,621.4 L342.5,620.1 L344.0,619.5 L345.5,619.4 L347.0,619.6 L348.5,619.8 L350.0,619.6 L351.5,619.2 L353.0,618.7 L354.5,618.4 L356.0,618.7 L357.5,619.5 L359.0,620.6 L360.5,621.7 L362.0,622.7 L363.5,623.3 L365.0,623.6 L366.5,623.6 L368.0,623.4 L369.5,623.3 L371.0,623.3 L372.5,623.2 L374.0,623.2 L375.5,623.0 L377.0,622.7 L378.5,622.4 L380.0,621.9 L381.5,621.5 L383.0,621.0 L384.5,620.5 L386.0,620.0 L387.5,619.6 L389.0,619.5 L390.5,619.6 L392.0,620.3 L393.5,621.4 L395.0,622.9 L396.5,624.8 L398.0,626.6 L399.5,628.1 L401.0,628.8 L402.5,628.8 L404.0,627.7 L405.5,625.8 L407.0,623.3 L408.5,620.6 L410.0,617.8 L411.5,614.9 L413.0,612.3 L414.5,610.3 L416.0,609.3 L417.5,609.4 L419.0,610.8 L420.5,613.3 L422.0,616.6 L423.5,620.0 L425.0,623.4 L426.5,626.2 L428.0,628.2 L429.5,629.1 L431.0,629.2 L432.5,628.9 L434.0,628.5 L435.5,627.8 L437.0,627.0 L438.5,626.4 L440.0,625.7 L441.5,624.7 L443.0,623.4 L444.5,621.5 L446.0,619.6 L447.5,618.3 L449.0,618.2 L450.5,618.8 L452.0,619.7 L453.5,620.7 L455.0,621.4"/>
<path d="M260.0,621.7 L261.5,621.6 L263.0,622.0 L264.5,623.1 L266.0,624.6 L267.5,626.3 L269.0,627.8 L270.5,628.7 L272.0,628.6 L273.5,627.6 L275.0,626.0 L276.5,624.3 L278.0,623.0 L279.5,622.6 L281.0,623.7 L282.5,625.6 L284.0,627.5 L285.5,628.3 L287.0,627.5 L288.5,625.6 L290.0,623.2 L291.5,620.7 L293.0,618.8 L294.5,617.9 L296.0,617.7 L297.5,617.6 L299.0,617.3 L300.5,616.9 L302.0,616.5 L303.5,616.2 L305.0,616.3 L306.5,617.4 L308.0,619.2 L309.5,621.4 L311.0,623.6 L312.5,625.1 L314.0,625.8 L315.5,625.8 L317.0,625.3 L318.5,624.6 L320.0,624.0 L321.5,623.8 L323.0,623.7 L324.5,623.6 L326.0,623.6 L327.5,623.7 L329.0,624.1 L330.5,624.6 L332.0,625.1 L333.5,625.2 L335.0,624.8 L336.5,624.0 L338.0,622.9 L339.5,621.9 L341.0,621.2 L342.5,620.9 L344.0,621.0 L345.5,621.1 L347.0,621.3 L348.5,621.2 L350.0,621.0 L351.5,620.9 L353.0,621.1 L354.5,621.7 L356.0,622.7 L357.5,623.6 L359.0,624.3 L360.5,624.6 L362.0,624.3 L363.5,623.7 L365.0,623.0 L366.5,622.4 L368.0,622.2 L369.5,622.3 L371.0,622.6 L372.5,622.9 L374.0,623.2 L375.5,623.1 L377.0,622.8 L378.5,622.4 L380.0,622.0 L381.5,621.6 L383.0,621.5 L384.5,621.6 L386.0,621.9 L387.5,622.4 L389.0,623.0 L390.5,623.8 L392.0,624.7 L393.5,625.6 L395.0,626.4 L396.5,627.1 L398.0,627.6 L399.5,627.7 L401.0,627.4 L402.5,626.6 L404.0,625.4 L405.5,624.0 L407.0,622.5 L408.5,620.9 L410.0,618.7 L411.5,616.4 L413.0,614.2 L414.5,612.5 L416.0,611.7 L417.5,611.9 L419.0,613.4 L420.5,615.8 L422.0,618.6 L423.5,621.5 L425.0,624.1 L426.5,626.0 L428.0,627.0 L429.5,627.3 L431.0,627.4 L432.5,627.5 L434.0,627.7 L435.5,628.0 L437.0,628.6 L438.5,629.1 L440.0,629.3 L441.5,628.8 L443.0,627.3 L444.5,625.2 L446.0,623.2 L447.5,621.9 L449.0,621.2 L450.5,620.8 L452.0,620.6 L453.5,620.5 L455.0,619.6"/>
<path d="M260.0,621.5 L261.5,623.3 L263.0,626.1 L264.5,629.3 L266.0,632.2 L267.5,634.3 L269.0,635.0 L270.5,633.6 L272.0,630.8 L273.5,627.2 L275.0,623.6 L276.5,621.0 L278.0,620.3 L279.5,621.8 L281.0,624.4 L282.5,626.5 L284.0,626.8 L285.5,624.9 L287.0,621.8 L288.5,618.3 L290.0,615.4 L291.5,614.0 L293.0,614.7 L294.5,616.3 L296.0,618.1 L297.5,619.8 L299.0,621.1 L300.5,622.1 L302.0,622.8 L303.5,623.7 L305.0,625.4 L306.5,627.5 L308.0,629.4 L309.5,630.5 L311.0,630.2 L312.5,628.5 L314.0,626.1 L315.5,623.5 L317.0,621.1 L318.5,619.5 L320.0,618.9 L321.5,618.9 L323.0,619.2 L324.5,619.8 L326.0,620.9 L327.5,622.4 L329.0,624.1 L330.5,625.5 L332.0,626.3 L333.5,626.3 L335.0,625.6 L336.5,624.6 L338.0,623.7 L339.5,623.4 L341.0,623.5 L342.5,623.6 L344.0,623.6 L345.5,623.1 L347.0,622.1 L348.5,620.9 L350.0,619.9 L351.5,619.5 L353.0,620.1 L354.5,621.5 L356.0,623.3 L357.5,625.0 L359.0,626.2 L360.5,626.9 L362.0,627.2 L363.5,627.3 L365.0,627.5 L366.5,627.9 L368.0,628.3 L369.5,628.5 L371.0,628.2 L372.5,627.4 L374.0,626.0 L375.5,624.3 L377.0,622.5 L378.5,620.8 L380.0,619.6 L381.5,618.9 L383.0,618.7 L384.5,618.8 L386.0,619.4 L387.5,620.2 L389.0,621.3 L390.5,622.5 L392.0,623.9 L393.5,625.4 L395.0,626.8 L396.5,628.0 L398.0,628.9 L399.5,629.4 L401.0,629.3 L402.5,628.5 L404.0,627.3 L405.5,625.8 L407.0,623.5 L408.5,620.2 L410.0,616.4 L411.5,612.9 L413.0,610.2 L414.5,608.9 L416.0,609.6 L417.5,612.3 L419.0,616.3 L420.5,621.1 L422.0,625.8 L423.5,629.9 L425.0,632.6 L426.5,633.4 L428.0,633.2 L429.5,632.5 L431.0,631.5 L432.5,630.4 L434.0,629.6 L435.5,629.1 L437.0,628.8 L438.5,628.0 L440.0,626.4 L441.5,623.6 L443.0,620.7 L444.5,618.4 L446.0,617.7 L447.5,617.7 L449.0,618.1 L450.5,618.9 L452.0,619.3 L453.5,618.6 L455.0,617.3"/>
<path d="M260.0,620.8 L261.5,621.0 L263.0,622.2 L264.5,624.1 L266.0,626.3 L267.5,628.4 L269.0,629.9 L270.5,630.3 L272.0,629.6 L273.5,628.2 L275.0,626.6 L276.5,625.4 L278.0,625.1 L279.5,626.3 L281.0,628.4 L282.5,630.6 L284.0,631.8 L285.5,631.3 L287.0,629.4 L288.5,626.7 L290.0,623.7 L291.5,621.0 L293.0,619.3 L294.5,618.5 L296.0,617.9 L297.5,617.7 L299.0,617.7 L300.5,618.0 L302.0,618.7 L303.5,619.8 L305.0,621.5 L306.5,623.9 L308.0,626.2 L309.5,628.1 L311.0,629.0 L312.5,628.7 L314.0,627.6 L315.5,626.1 L317.0,624.5 L318.5,623.3 L320.0,622.8 L321.5,623.0 L323.0,623.6 L324.5,624.4 L326.0,625.4 L327.5,626.6 L329.0,627.7 L330.5,628.5 L332.0,628.6 L333.5,628.1 L335.0,626.9 L336.5,625.5 L338.0,624.1 L339.5,623.2 L341.0,623.0 L342.5,623.2 L344.0,623.7 L345.5,624.2 L347.0,624.4 L348.5,624.2 L350.0,623.9 L351.5,623.4 L353.0,623.1 L354.5,623.1 L356.0,623.2 L357.5,623.3 L359.0,623.3 L360.5,623.3 L362.0,623.4 L363.5,623.8 L365.0,624.6 L366.5,625.8 L368.0,627.1 L369.5,628.4 L371.0,629.3 L372.5,629.5 L374.0,629.0 L375.5,627.9 L377.0,626.4 L378.5,624.8 L380.0,623.3 L381.5,622.3 L383.0,621.8 L384.5,621.8 L386.0,622.2 L387.5,623.0 L389.0,624.0 L390.5,625.0 L392.0,626.0 L393.5,626.8 L395.0,627.4 L396.5,627.7 L398.0,627.7 L399.5,627.6 L401.0,627.2 L402.5,626.6 L404.0,626.0 L405.5,625.4 L407.0,624.8 L408.5,623.6 L410.0,621.9 L411.5,620.1 L413.0,618.4 L414.5,617.1 L416.0,616.6 L417.5,617.1 L419.0,618.5 L420.5,620.5 L422.0,622.8 L423.5,625.1 L425.0,627.1 L426.5,628.2 L428.0,628.7 L429.5,628.9 L431.0,628.9 L432.5,628.7 L434.0,628.4 L435.5,628.3 L437.0,628.2 L438.5,628.0 L440.0,627.5 L441.5,626.4 L443.0,625.2 L444.5,624.4 L446.0,624.6 L447.5,625.5 L449.0,626.6 L450.5,627.7 L452.0,628.3 L453.5,627.6 L455.0,625.8"/>
<path d="M260.0,625.4 L261.5,626.0 L263.0,627.4 L264.5,629.2 L266.0,630.9 L267.5,632.1 L269.0,632.2 L270.5,630.9 L272.0,628.3 L273.5,625.2 L275.0,622.5 L276.5,621.0 L278.0,621.3 L279.5,624.2 L281.0,628.7 L282.5,633.3 L284.0,636.4 L285.5,637.0 L287.0,635.2 L288.5,631.7 L290.0,627.4 L291.5,623.0 L293.0,619.7 L294.5,617.5 L296.0,615.9 L297.5,615.0 L299.0,614.8 L300.5,615.4 L302.0,616.7 L303.5,618.6 L305.0,621.5 L306.5,624.8 L308.0,628.0 L309.5,630.3 L311.0,631.2 L312.5,630.4 L314.0,628.8 L315.5,626.7 L317.0,624.8 L318.5,623.5 L320.0,623.2 L321.5,623.6 L323.0,624.3 L324.5,625.2 L326.0,626.3 L327.5,627.7 L329.0,629.1 L330.5,630.3 L332.0,631.1 L333.5,631.3 L335.0,630.7 L336.5,629.8 L338.0,628.6 L339.5,627.6 L341.0,626.8 L342.5,625.9 L344.0,624.9 L345.5,623.7 L347.0,622.3 L348.5,620.9 L350.0,620.1 L351.5,620.1 L353.0,621.1 L354.5,622.9 L356.0,624.7 L357.5,626.2 L359.0,626.9 L360.5,626.4 L362.0,625.2 L363.5,623.6 L365.0,622.1 L366.5,621.4 L368.0,621.7 L369.5,623.0 L371.0,625.0 L372.5,627.4 L374.0,629.7 L375.5,631.8 L377.0,633.3 L378.5,634.1 L380.0,634.0 L381.5,633.3 L383.0,632.0 L384.5,630.2 L386.0,628.2 L387.5,626.3 L389.0,624.7 L390.5,623.5 L392.0,622.7 L393.5,622.6 L395.0,622.8 L396.5,623.3 L398.0,624.0 L399.5,624.6 L401.0,625.2 L402.5,625.6 L404.0,625.9 L405.5,626.1 L407.0,626.0 L408.5,624.9 L410.0,623.0 L411.5,620.7 L413.0,618.3 L414.5,616.4 L416.0,615.6 L417.5,616.2 L419.0,618.1 L420.5,620.9 L422.0,624.3 L423.5,627.7 L425.0,630.5 L426.5,632.1 L428.0,632.6 L429.5,632.5 L431.0,631.9 L432.5,631.0 L434.0,630.1 L435.5,629.5 L437.0,629.2 L438.5,629.1 L440.0,628.8 L441.5,628.0 L443.0,627.0 L444.5,626.5 L446.0,626.9 L447.5,627.7 L449.0,628.2 L450.5,628.2 L452.0,627.5 L453.5,625.3 L455.0,622.1"/>
<path d="M260.0,632.0 L261.5,632.4 L263.0,632.9 L264.5,633.6 L266.0,634.4 L267.5,635.2 L269.0,635.9 L270.5,636.3 L272.0,636.0 L273.5,635.1 L275.0,634.0 L276.5,632.9 L278.0,632.0 L279.5,632.0 L281.0,633.1 L282.5,634.4 L284.0,635.3 L285.5,634.9 L287.0,633.1 L288.5,630.7 L290.0,628.3 L291.5,626.2 L293.0,625.0 L294.5,625.1 L296.0,625.3 L297.5,625.5 L299.0,625.6 L300.5,625.7 L302.0,625.9 L303.5,626.4 L305.0,627.5 L306.5,629.6 L308.0,632.0 L309.5,634.3 L311.0,635.9 L312.5,636.4 L314.0,635.9 L315.5,634.9 L317.0,633.7 L318.5,632.8 L320.0,632.4 L321.5,632.4 L323.0,632.5 L324.5,632.2 L326.0,631.6 L327.5,631.0 L329.0,630.6 L330.5,630.4 L332.0,630.4 L333.5,630.7 L335.0,630.9 L336.5,631.1 L338.0,631.4 L339.5,631.6 L341.0,631.9 L342.5,632.0 L344.0,631.6 L345.5,630.9 L347.0,629.8 L348.5,628.7 L350.0,628.0 L351.5,628.0 L353.0,628.8 L354.5,630.3 L356.0,632.1 L357.5,633.4 L359.0,633.9 L360.5,633.3 L362.0,631.9 L363.5,630.2 L365.0,628.9 L366.5,628.5 L368.0,629.2 L369.5,630.8 L371.0,632.9 L372.5,634.9 L374.0,636.2 L375.5,636.6 L377.0,636.0 L378.5,634.7 L380.0,633.1 L381.5,631.6 L383.0,630.6 L384.5,630.4 L386.0,630.7 L387.5,631.4 L389.0,632.3 L390.5,633.1 L392.0,633.4 L393.5,633.3 L395.0,632.7 L396.5,631.9 L398.0,631.1 L399.5,630.4 L401.0,630.0 L402.5,629.9 L404.0,629.8 L405.5,629.9 L407.0,629.9 L408.5,629.2 L410.0,627.7 L411.5,625.7 L413.0,623.8 L414.5,622.5 L416.0,622.2 L417.5,623.3 L419.0,625.7 L420.5,628.8 L422.0,632.1 L423.5,635.0 L425.0,637.1 L426.5,638.0 L428.0,637.6 L429.5,636.8 L431.0,636.1 L432.5,635.7 L434.0,635.6 L435.5,636.0 L437.0,636.5 L438.5,636.8 L440.0,636.4 L441.5,635.0 L443.0,632.5 L444.5,630.0 L446.0,628.2 L447.5,628.0 L449.0,628.6 L450.5,629.8 L452.0,631.1 L453.5,631.7 L455.0,630.8"/>
<path d="M260.0,634.5 L261.5,636.1 L263.0,637.6 L264.5,638.6 L266.0,639.0 L267.5,638.6 L269.0,637.3 L270.5,635.7 L272.0,634.1 L273.5,632.9 L275.0,632.5 L276.5,633.4 L278.0,635.2 L279.5,637.0 L281.0,638.1 L282.5,637.7 L284.0,636.1 L285.5,633.9 L287.0,631.6 L288.5,629.7 L290.0,628.8 L291.5,628.9 L293.0,629.2 L294.5,629.4 L296.0,629.4 L297.5,629.2 L299.0,629.0 L300.5,628.9 L302.0,629.3 L303.5,630.5 L305.0,632.0 L306.5,633.4 L308.0,634.3 L309.5,634.3 L311.0,633.7 L312.5,632.8 L314.0,631.9 L315.5,631.4 L317.0,631.7 L318.5,632.6 L320.0,633.9 L321.5,635.2 L323.0,636.5 L324.5,637.8 L326.0,638.8 L327.5,639.2 L329.0,638.9 L330.5,637.9 L332.0,636.3 L333.5,634.5 L335.0,632.9 L336.5,631.9 L338.0,631.6 L339.5,631.7 L341.0,631.9 L342.5,631.9 L344.0,631.4 L345.5,630.4 L347.0,629.1 L348.5,628.0 L350.0,627.3 L351.5,627.4 L353.0,628.3 L354.5,629.6 L356.0,631.3 L357.5,632.8 L359.0,634.2 L360.5,635.4 L362.0,636.2 L363.5,636.9 L365.0,637.3 L366.5,637.5 L368.0,637.5 L369.5,637.3 L371.0,636.9 L372.5,636.4 L374.0,636.0 L375.5,635.6 L377.0,635.3 L378.5,635.0 L380.0,634.7 L381.5,634.3 L383.0,633.7 L384.5,633.0 L386.0,632.3 L387.5,631.6 L389.0,631.2 L390.5,631.0 L392.0,631.0 L393.5,631.2 L395.0,631.4 L396.5,631.6 L398.0,631.8 L399.5,631.9 L401.0,631.9 L402.5,631.9 L404.0,632.1 L405.5,631.7 L407.0,631.0 L408.5,630.2 L410.0,629.4 L411.5,628.9 L413.0,629.0 L414.5,629.9 L416.0,631.5 L417.5,633.5 L419.0,635.6 L420.5,637.6 L422.0,639.1 L423.5,639.6 L425.0,639.1 L426.5,638.1 L428.0,636.9 L429.5,635.4 L431.0,634.0 L432.5,632.8 L434.0,632.2 L435.5,631.8 L437.0,631.7 L438.5,631.5 L440.0,631.2 L441.5,631.3 L443.0,632.0 L444.5,633.3 L446.0,634.5 L447.5,635.2 L449.0,635.4 L450.5,634.6 L452.0,632.8 L453.5,631.1 L455.0,630.9"/>
<path d="M260.0,629.5 L261.5,629.9 L263.0,631.4 L264.5,633.6 L266.0,636.0 L267.5,638.3 L269.0,639.9 L270.5,640.3 L272.0,639.4 L273.5,637.8 L275.0,636.0 L276.5,634.7 L278.0,634.4 L279.5,635.9 L281.0,638.5 L282.5,641.1 L284.0,642.5 L285.5,641.8 L287.0,639.4 L288.5,636.1 L290.0,632.6 L291.5,629.7 L293.0,628.2 L294.5,628.1 L296.0,628.2 L297.5,628.5 L299.0,628.7 L300.5,628.9 L302.0,629.1 L303.5,629.5 L305.0,630.6 L306.5,632.6 L308.0,634.8 L309.5,636.8 L311.0,638.0 L312.5,638.0 L314.0,637.2 L315.5,635.8 L317.0,634.3 L318.5,633.0 L320.0,632.3 L321.5,632.1 L323.0,631.9 L324.5,631.9 L326.0,632.0 L327.5,632.6 L329.0,633.4 L330.5,634.2 L332.0,634.8 L333.5,635.0 L335.0,634.7 L336.5,634.2 L338.0,633.9 L339.5,634.0 L341.0,634.7 L342.5,635.5 L344.0,636.3 L345.5,636.8 L347.0,636.7 L348.5,636.0 L350.0,635.1 L351.5,634.3 L353.0,634.0 L354.5,634.1 L356.0,634.5 L357.5,634.9 L359.0,635.0 L360.5,634.7 L362.0,634.1 L363.5,633.5 L365.0,633.0 L366.5,632.9 L368.0,633.2 L369.5,633.7 L371.0,634.2 L372.5,634.6 L374.0,634.6 L375.5,634.3 L377.0,634.0 L378.5,633.6 L380.0,633.3 L381.5,633.2 L383.0,633.4 L384.5,633.6 L386.0,633.8 L387.5,634.1 L389.0,634.4 L390.5,634.7 L392.0,635.0 L393.5,635.4 L395.0,635.8 L396.5,636.3 L398.0,636.7 L399.5,637.0 L401.0,637.2 L402.5,637.0 L404.0,636.6 L405.5,636.1 L407.0,635.3 L408.5,633.7 L410.0,631.5 L411.5,629.1 L413.0,627.0 L414.5,625.5 L416.0,625.1 L417.5,626.2 L419.0,628.4 L420.5,631.2 L422.0,634.1 L423.5,636.6 L425.0,638.4 L426.5,638.8 L428.0,638.1 L429.5,637.0 L431.0,635.9 L432.5,635.0 L434.0,634.5 L435.5,634.6 L437.0,635.1 L438.5,635.8 L440.0,636.2 L441.5,635.7 L443.0,634.6 L444.5,633.7 L446.0,633.5 L447.5,634.1 L449.0,634.8 L450.5,635.5 L452.0,636.1 L453.5,635.5 L455.0,633.9"/>
<path d="M260.0,635.5 L261.5,636.4 L263.0,637.9 L264.5,639.6 L266.0,641.1 L267.5,641.9 L269.0,641.9 L270.5,640.5 L272.0,638.0 L273.5,635.0 L275.0,632.3 L276.5,630.5 L278.0,630.2 L279.5,632.2 L281.0,635.6 L282.5,639.0 L284.0,640.9 L285.5,640.7 L287.0,638.9 L288.5,636.2 L290.0,633.5 L291.5,631.5 L293.0,630.9 L294.5,631.3 L296.0,631.7 L297.5,631.8 L299.0,631.6 L300.5,631.0 L302.0,630.3 L303.5,629.8 L305.0,630.4 L306.5,631.9 L308.0,633.8 L309.5,635.7 L311.0,636.9 L312.5,637.0 L314.0,636.4 L315.5,635.4 L317.0,634.3 L318.5,633.3 L320.0,632.9 L321.5,632.7 L323.0,632.5 L324.5,632.3 L326.0,632.4 L327.5,633.0 L329.0,633.9 L330.5,635.1 L332.0,636.1 L333.5,636.8 L335.0,637.1 L336.5,637.2 L338.0,637.4 L339.5,637.9 L341.0,638.6 L342.5,639.2 L344.0,639.5 L345.5,639.2 L347.0,638.0 L348.5,636.2 L350.0,634.3 L351.5,632.6 L353.0,631.5 L354.5,631.2 L356.0,631.3 L357.5,631.5 L359.0,631.5 L360.5,631.3 L362.0,631.0 L363.5,630.8 L365.0,631.1 L366.5,632.0 L368.0,633.4 L369.5,635.1 L371.0,636.8 L372.5,638.2 L374.0,639.1 L375.5,639.4 L377.0,639.2 L378.5,638.7 L380.0,637.9 L381.5,637.0 L383.0,636.1 L384.5,635.2 L386.0,634.3 L387.5,633.6 L389.0,633.3 L390.5,633.3 L392.0,633.7 L393.5,634.5 L395.0,635.6 L396.5,636.8 L398.0,638.0 L399.5,638.9 L401.0,639.3 L402.5,639.1 L404.0,638.4 L405.5,637.3 L407.0,635.7 L408.5,633.0 L410.0,629.8 L411.5,626.5 L413.0,623.8 L414.5,622.1 L416.0,621.9 L417.5,623.5 L419.0,626.3 L420.5,629.9 L422.0,633.5 L423.5,636.8 L425.0,639.1 L426.5,640.0 L428.0,639.8 L429.5,639.3 L431.0,638.8 L432.5,638.5 L434.0,638.5 L435.5,639.0 L437.0,639.8 L438.5,640.4 L440.0,640.2 L441.5,638.9 L443.0,636.9 L444.5,635.2 L446.0,634.4 L447.5,634.4 L449.0,634.7 L450.5,635.1 L452.0,635.5 L453.5,634.7 L455.0,633.0"/>
<path d="M260.0,638.3 L261.5,640.5 L263.0,642.7 L264.5,644.6 L266.0,645.8 L267.5,645.9 L269.0,644.7 L270.5,642.3 L272.0,639.6 L273.5,637.0 L275.0,635.2 L276.5,634.9 L278.0,636.5 L279.5,639.0 L281.0,641.0 L282.5,641.5 L284.0,640.1 L285.5,637.6 L287.0,634.8 L288.5,632.3 L290.0,630.6 L291.5,630.4 L293.0,630.4 L294.5,630.1 L296.0,629.5 L297.5,628.7 L299.0,628.2 L300.5,628.3 L302.0,629.3 L303.5,631.9 L305.0,635.4 L306.5,639.0 L308.0,641.8 L309.5,643.0 L311.0,642.5 L312.5,640.9 L314.0,638.8 L315.5,636.7 L317.0,635.3 L318.5,635.0 L320.0,635.2 L321.5,635.6 L323.0,636.2 L324.5,637.0 L326.0,637.9 L327.5,638.6 L329.0,639.0 L330.5,638.8 L332.0,638.2 L333.5,637.3 L335.0,636.7 L336.5,636.5 L338.0,637.1 L339.5,637.8 L341.0,638.4 L342.5,638.3 L344.0,637.3 L345.5,635.3 L347.0,633.0 L348.5,631.0 L350.0,629.8 L351.5,630.0 L353.0,631.4 L354.5,633.5 L356.0,635.6 L357.5,637.3 L359.0,638.2 L360.5,638.5 L362.0,638.3 L363.5,638.0 L365.0,638.0 L366.5,638.3 L368.0,638.8 L369.5,639.5 L371.0,640.0 L372.5,640.1 L374.0,639.9 L375.5,639.4 L377.0,638.6 L378.5,637.7 L380.0,636.9 L381.5,636.3 L383.0,635.8 L384.5,635.7 L386.0,635.9 L387.5,636.4 L389.0,636.9 L390.5,637.3 L392.0,637.6 L393.5,637.5 L395.0,637.2 L396.5,636.6 L398.0,636.0 L399.5,635.4 L401.0,635.1 L402.5,635.1 L404.0,635.5 L405.5,635.5 L407.0,634.5 L408.5,632.8 L410.0,630.7 L411.5,628.6 L413.0,627.1 L414.5,626.8 L416.0,628.1 L417.5,630.6 L419.0,633.9 L420.5,637.5 L422.0,640.7 L423.5,642.9 L425.0,643.4 L426.5,642.9 L428.0,642.0 L429.5,640.9 L431.0,639.9 L432.5,639.4 L434.0,639.7 L435.5,640.6 L437.0,641.4 L438.5,641.4 L440.0,640.4 L441.5,638.7 L443.0,637.2 L444.5,636.3 L446.0,635.6 L447.5,634.8 L449.0,634.2 L450.5,633.4 L452.0,631.8 L453.5,629.9 L455.0,631.0"/>
<path d="M260.0,636.6 L261.5,637.1 L263.0,638.2 L264.5,639.7 L266.0,641.3 L267.5,642.6 L269.0,643.2 L270.5,642.7 L272.0,641.4 L273.5,639.8 L275.0,638.2 L276.5,637.2 L278.0,637.4 L279.5,638.9 L281.0,640.8 L282.5,642.1 L284.0,642.0 L285.5,640.4 L287.0,637.9 L288.5,635.4 L290.0,633.4 L291.5,632.6 L293.0,633.5 L294.5,634.9 L296.0,636.4 L297.5,637.6 L299.0,638.3 L300.5,638.5 L302.0,638.2 L303.5,637.7 L305.0,637.5 L306.5,637.5 L308.0,637.4 L309.5,636.8 L311.0,635.7 L312.5,634.1 L314.0,632.6 L315.5,631.4 L317.0,631.0 L318.5,631.5 L320.0,633.0 L321.5,634.9 L323.0,636.9 L324.5,638.8 L326.0,640.7 L327.5,642.4 L329.0,643.6 L330.5,644.3 L332.0,644.3 L333.5,643.5 L335.0,642.1 L336.5,640.7 L338.0,639.5 L339.5,639.0 L341.0,638.9 L342.5,639.0 L344.0,639.2 L345.5,639.0 L347.0,638.2 L348.5,637.2 L350.0,636.1 L351.5,635.1 L353.0,634.6 L354.5,634.5 L356.0,634.5 L357.5,634.5 L359.0,634.4 L360.5,634.1 L362.0,634.0 L363.5,634.3 L365.0,634.9 L366.5,636.2 L368.0,637.6 L369.5,639.1 L371.0,640.4 L372.5,641.3 L374.0,641.5 L375.5,641.3 L377.0,640.9 L378.5,640.3 L380.0,639.7 L381.5,639.3 L383.0,639.0 L384.5,638.9 L386.0,638.9 L387.5,639.0 L389.0,639.2 L390.5,639.4 L392.0,639.6 L393.5,639.7 L395.0,639.8 L396.5,639.7 L398.0,639.3 L399.5,638.8 L401.0,638.1 L402.5,637.2 L404.0,636.4 L405.5,635.7 L407.0,634.8 L408.5,633.5 L410.0,632.1 L411.5,631.0 L413.0,630.3 L414.5,630.4 L416.0,631.4 L417.5,633.4 L419.0,635.7 L420.5,638.0 L422.0,639.8 L423.5,640.9 L425.0,641.0 L426.5,639.8 L428.0,638.4 L429.5,637.2 L431.0,636.6 L432.5,636.6 L434.0,637.5 L435.5,639.3 L437.0,641.4 L438.5,643.5 L440.0,644.8 L441.5,644.9 L443.0,644.4 L444.5,643.7 L446.0,643.3 L447.5,642.6 L449.0,641.5 L450.5,640.0 L452.0,638.0 L453.5,635.1 L455.0,631.8"/>
<path d="M260.0,634.7 L261.5,634.3 L263.0,634.4 L264.5,635.6 L266.0,637.5 L267.5,640.1 L269.0,642.7 L270.5,645.1 L272.0,646.6 L273.5,647.0 L275.0,646.6 L276.5,645.7 L278.0,644.7 L279.5,644.0 L281.0,644.4 L282.5,645.3 L284.0,646.0 L285.5,645.6 L287.0,643.7 L288.5,640.9 L290.0,638.0 L291.5,635.6 L293.0,634.1 L294.5,634.2 L296.0,635.3 L297.5,636.3 L299.0,637.0 L300.5,637.0 L302.0,636.4 L303.5,635.3 L305.0,634.1 L306.5,633.7 L308.0,634.0 L309.5,635.1 L311.0,636.4 L312.5,637.7 L314.0,638.6 L315.5,639.1 L317.0,639.5 L318.5,639.7 L320.0,639.8 L321.5,640.1 L323.0,640.2 L324.5,640.0 L326.0,639.4 L327.5,639.0 L329.0,638.8 L330.5,639.0 L332.0,639.6 L333.5,640.2 L335.0,640.8 L336.5,641.2 L338.0,641.5 L339.5,641.8 L341.0,642.2 L342.5,642.7 L344.0,642.9 L345.5,642.7 L347.0,642.0 L348.5,640.6 L350.0,639.0 L351.5,637.4 L353.0,636.3 L354.5,635.9 L356.0,636.4 L357.5,637.3 L359.0,638.3 L360.5,639.1 L362.0,639.4 L363.5,639.4 L365.0,639.1 L366.5,638.7 L368.0,638.6 L369.5,638.7 L371.0,638.9 L372.5,639.1 L374.0,639.2 L375.5,639.2 L377.0,638.9 L378.5,638.6 L380.0,638.4 L381.5,638.3 L383.0,638.3 L384.5,638.7 L386.0,639.1 L387.5,639.7 L389.0,640.4 L390.5,641.2 L392.0,642.1 L393.5,642.9 L395.0,643.7 L396.5,644.2 L398.0,644.3 L399.5,644.1 L401.0,643.3 L402.5,642.1 L404.0,640.5 L405.5,638.8 L407.0,637.1 L408.5,635.7 L410.0,634.0 L411.5,632.4 L413.0,631.1 L414.5,630.4 L416.0,630.5 L417.5,631.5 L419.0,633.5 L420.5,635.9 L422.0,638.3 L423.5,640.4 L425.0,641.8 L426.5,642.4 L428.0,642.0 L429.5,641.0 L431.0,640.3 L432.5,640.0 L434.0,640.5 L435.5,641.6 L437.0,643.4 L438.5,645.4 L440.0,647.0 L441.5,647.7 L443.0,646.8 L444.5,644.8 L446.0,642.4 L447.5,640.3 L449.0,638.6 L450.5,637.2 L452.0,636.1 L453.5,635.4 L455.0,634.4"/>
<path d="M260.0,636.6 L261.5,637.4 L263.0,639.4 L264.5,642.0 L266.0,644.9 L267.5,647.7 L269.0,649.7 L270.5,650.2 L272.0,649.4 L273.5,647.7 L275.0,645.7 L276.5,643.9 L278.0,643.4 L279.5,644.5 L281.0,646.3 L282.5,647.6 L284.0,647.2 L285.5,644.8 L287.0,641.3 L288.5,637.6 L290.0,634.3 L291.5,632.4 L293.0,632.2 L294.5,632.8 L296.0,633.4 L297.5,633.9 L299.0,634.1 L300.5,634.4 L302.0,634.7 L303.5,635.5 L305.0,637.4 L306.5,639.8 L308.0,642.1 L309.5,643.6 L311.0,643.8 L312.5,642.6 L314.0,641.0 L315.5,639.3 L317.0,638.1 L318.5,637.8 L320.0,638.6 L321.5,639.8 L323.0,640.9 L324.5,641.7 L326.0,642.5 L327.5,643.2 L329.0,643.6 L330.5,643.6 L332.0,643.2 L333.5,642.5 L335.0,641.6 L336.5,640.9 L338.0,640.8 L339.5,641.4 L341.0,642.3 L342.5,643.1 L344.0,643.5 L345.5,643.1 L347.0,641.8 L348.5,640.1 L350.0,638.5 L351.5,637.4 L353.0,637.2 L354.5,637.8 L356.0,638.5 L357.5,639.1 L359.0,639.2 L360.5,638.7 L362.0,638.0 L363.5,637.4 L365.0,637.4 L366.5,638.1 L368.0,639.5 L369.5,641.2 L371.0,642.7 L372.5,643.8 L374.0,644.1 L375.5,643.7 L377.0,642.8 L378.5,641.7 L380.0,640.6 L381.5,640.1 L383.0,640.0 L384.5,640.4 L386.0,641.3 L387.5,642.4 L389.0,643.6 L390.5,644.6 L392.0,645.3 L393.5,645.6 L395.0,645.5 L396.5,645.0 L398.0,644.3 L399.5,643.4 L401.0,642.3 L402.5,641.1 L404.0,639.9 L405.5,638.7 L407.0,636.9 L408.5,634.3 L410.0,631.2 L411.5,628.3 L413.0,626.1 L414.5,625.4 L416.0,626.6 L417.5,629.8 L419.0,634.3 L420.5,639.2 L422.0,643.9 L423.5,647.5 L425.0,649.4 L426.5,649.0 L428.0,647.5 L429.5,645.6 L431.0,643.9 L432.5,642.6 L434.0,642.4 L435.5,643.3 L437.0,644.8 L438.5,646.2 L440.0,646.8 L441.5,645.9 L443.0,644.4 L444.5,642.9 L446.0,642.3 L447.5,641.9 L449.0,641.6 L450.5,641.3 L452.0,640.7 L453.5,638.7 L455.0,636.1"/>
<path d="M260.0,640.4 L261.5,641.0 L263.0,642.2 L264.5,643.8 L266.0,645.6 L267.5,647.4 L269.0,648.6 L270.5,648.7 L272.0,647.7 L273.5,646.0 L275.0,644.2 L276.5,642.7 L278.0,642.3 L279.5,643.7 L281.0,645.9 L282.5,647.8 L284.0,648.1 L285.5,646.5 L287.0,643.7 L288.5,640.6 L290.0,637.7 L291.5,635.9 L293.0,635.8 L294.5,636.2 L296.0,636.5 L297.5,636.6 L299.0,636.5 L300.5,636.3 L302.0,636.3 L303.5,636.5 L305.0,637.9 L306.5,639.9 L308.0,641.8 L309.5,643.1 L311.0,643.4 L312.5,642.5 L314.0,641.2 L315.5,639.9 L317.0,639.1 L318.5,639.1 L320.0,640.0 L321.5,641.0 L323.0,641.7 L324.5,642.0 L326.0,642.2 L327.5,642.4 L329.0,642.7 L330.5,643.0 L332.0,643.4 L333.5,643.7 L335.0,644.0 L336.5,644.4 L338.0,645.0 L339.5,645.7 L341.0,646.1 L342.5,645.9 L344.0,644.8 L345.5,642.9 L347.0,640.3 L348.5,637.9 L350.0,636.2 L351.5,635.8 L353.0,636.9 L354.5,639.1 L356.0,641.5 L357.5,643.4 L359.0,644.1 L360.5,643.3 L362.0,641.6 L363.5,639.4 L365.0,637.5 L366.5,636.5 L368.0,636.8 L369.5,638.0 L371.0,640.1 L372.5,642.4 L374.0,644.3 L375.5,645.6 L377.0,646.1 L378.5,645.8 L380.0,644.9 L381.5,643.7 L383.0,642.7 L384.5,641.9 L386.0,641.6 L387.5,642.0 L389.0,642.8 L390.5,644.0 L392.0,645.2 L393.5,646.2 L395.0,646.7 L396.5,646.6 L398.0,645.9 L399.5,644.8 L401.0,643.3 L402.5,641.8 L404.0,640.4 L405.5,639.3 L407.0,637.9 L408.5,635.8 L410.0,633.4 L411.5,631.0 L413.0,629.0 L414.5,628.1 L416.0,628.7 L417.5,630.9 L419.0,634.4 L420.5,638.4 L422.0,642.4 L423.5,645.7 L425.0,647.7 L426.5,647.8 L428.0,647.0 L429.5,646.0 L431.0,645.1 L432.5,644.7 L434.0,645.1 L435.5,646.5 L437.0,648.4 L438.5,650.1 L440.0,650.7 L441.5,649.6 L443.0,647.5 L444.5,645.2 L446.0,643.5 L447.5,642.1 L449.0,641.0 L450.5,640.2 L452.0,639.5 L453.5,638.0 L455.0,636.1"/></g>
</g>
<g stroke="#000" stroke-width="1.25" fill="none" stroke-linejoin="round"><path d="M569.0,99.8 L569.8,104.8 L575.0,108.9 L581.9,117.2 L581.5,119.5 L587.0,124.6 L594.4,127.3 L602.7,132.0 L607.3,136.6 L610.1,143.0 L612.0,148.1 L614.7,149.5 L615.2,154.1 L612.0,157.8 L602.7,156.0 L593.5,150.4 L587.0,148.6 L585.2,146.3 L586.5,143.5 L582.4,146.3 L578.7,143.0 L577.8,139.3 L581.5,138.0 L577.8,136.6 L575.0,138.0 L568.5,139.0 L564.4,136.1 L569.0,134.4 L564.4,129.9 L559.5,129.5 L553.3,125.4"/>
<path d="M553.3,116.7 L557.8,118.4 L553.7,120.4"/>
<path d="M587.5,99.8 L587.9,102.7 L584.2,106.1 L588.9,112.1 L594.4,114.4 L599.0,112.6 L600.0,110.2 L602.3,107.5 L602.7,111.2 L609.2,117.2 L608.3,122.7 L610.1,125.5 L618.0,117.2 L619.8,119.0 L618.4,127.3 L622.1,130.6 L631.4,131.0 L630.4,132.4 L624.9,133.3 L623.0,135.6 L627.7,138.4 L630.4,144.9 L635.0,145.8 L638.7,147.7 L635.0,147.7 L634.1,151.4 L631.8,154.6 L636.6,158.1 L639.0,164.6 L638.2,174.3 L636.6,171.8 L633.4,172.6 L630.1,175.9 L626.1,180.7 L626.1,184.0 L623.7,185.6 L622.4,182.3 L624.5,177.5 L628.5,171.8 L630.9,167.0 L629.7,163.7 L626.1,164.6 L618.8,161.3 L605.9,162.1 L596.2,158.1 L589.7,155.3 L587.3,158.1 L586.5,166.2 L590.5,172.6 L593.7,177.5 L596.5,188.7 L597.1,191.5 L598.9,196.7 L601.2,194.4 L602.9,197.3 L601.2,200.8 L600.6,204.2 L605.2,204.5 L604.9,213.5 L602.9,212.3 L601.2,208.3 L600.6,213.5 L602.3,217.5 L606.9,218.1 L612.1,217.5 L617.3,220.4 L618.5,221.6 L616.2,221.6 L609.2,221.6 L604.6,221.6 L603.5,225.0 L603.2,232.4 L604.7,244.9 L602.4,260.2 L600.6,279.3 L598.9,296.6 L598.9,303.5 L594.6,308.7 L592.0,320.8 L594.6,336.4 L598.0,346.8 L600.6,359.5"/></g>
<g stroke="#9a9a9a" stroke-width="1.1"><path d="M604.3,176.5 L596.8,189.9 L611.8,189.9 Z" fill="#fcc4c4"/>
<path d="M647.6,197.0 L640.1,210.4 L655.1,210.4 Z" fill="#f4b4b4"/>
<path d="M647.8,195.3 L640.3,208.7 L655.3,208.7 Z" fill="#fde0e0"/>
<path d="M651.6,193.4 L644.1,206.8 L659.1,206.8 Z" fill="#f4a8a8"/>
<path d="M648.1,192.3 L640.6,205.7 L655.6,205.7 Z" fill="#fce4e4"/>
<path d="M640.6,189.7 L633.1,203.1 L648.1,203.1 Z" fill="#f0a0a0"/>
<path d="M644.3,189.7 L636.8,203.1 L651.8,203.1 Z" fill="#e89090"/>
<path d="M637.0,211.2 L629.5,224.6 L644.5,224.6 Z" fill="#e89898"/>
<path d="M639.4,211.2 L631.9,224.6 L646.9,224.6 Z" fill="#ffb0b0"/>
<path d="M654.0,234.7 L646.5,248.1 L661.5,248.1 Z" fill="#ffffff"/>
<path d="M648.0,235.2 L640.5,248.6 L655.5,248.6 Z" fill="#f8a8a8"/>
<path d="M650.3,238.9 L642.8,252.3 L657.8,252.3 Z" fill="#ffbcbc"/>
<path d="M616.2,260.1 L608.7,273.5 L623.7,273.5 Z" fill="#fdeeee"/>
<path d="M644.8,271.2 L637.3,284.6 L652.3,284.6 Z" fill="#fcc8c8"/>
<path d="M648.0,274.9 L640.5,288.3 L655.5,288.3 Z" fill="#ffbcbc"/>
<path d="M657.3,283.2 L649.8,296.6 L664.8,296.6 Z" fill="#f8a0a0"/>
<path d="M662.8,286.0 L655.3,299.4 L670.3,299.4 Z" fill="#f0a8a8"/>
<path d="M659.1,288.7 L651.6,302.1 L666.6,302.1 Z" fill="#ffd8d8"/>
<path d="M662.8,289.7 L655.3,303.1 L670.3,303.1 Z" fill="#ffc0c0"/>
<path d="M749.8,151.9 L742.3,165.3 L757.3,165.3 Z" fill="#fcd0d0"/>
<path d="M745.6,253.3 L738.1,266.7 L753.1,266.7 Z" fill="#d07070"/>
<path d="M773.7,246.0 L766.2,259.4 L781.2,259.4 Z" fill="#ffc8c8"/></g>
<rect x="553.3" y="99.6" width="271.7" height="259.9" fill="none" stroke="#000" stroke-width="1.3"/>
<text x="580.1" y="387.5" font-family="'Liberation Sans'" font-size="20.3" text-anchor="middle"  textLength="31.70" lengthAdjust="spacingAndGlyphs">235</text>
<text x="687.8" y="387.5" font-family="'Liberation Sans'" font-size="20.3" text-anchor="middle"  textLength="31.70" lengthAdjust="spacingAndGlyphs">240</text>
<text x="795.5" y="387.5" font-family="'Liberation Sans'" font-size="20.3" text-anchor="middle"  textLength="31.70" lengthAdjust="spacingAndGlyphs">245</text>
<text x="545.0" y="116.3" font-family="'Liberation Sans'" font-size="20.3" text-anchor="end"  textLength="21.14" lengthAdjust="spacingAndGlyphs">50</text>
<text x="545.0" y="175.7" font-family="'Liberation Sans'" font-size="20.3" text-anchor="end"  textLength="21.14" lengthAdjust="spacingAndGlyphs">48</text>
<text x="545.0" y="235.1" font-family="'Liberation Sans'" font-size="20.3" text-anchor="end"  textLength="21.14" lengthAdjust="spacingAndGlyphs">46</text>
<text x="545.0" y="294.5" font-family="'Liberation Sans'" font-size="20.3" text-anchor="end"  textLength="21.14" lengthAdjust="spacingAndGlyphs">44</text>
<text x="545.0" y="353.9" font-family="'Liberation Sans'" font-size="20.3" text-anchor="end"  textLength="21.14" lengthAdjust="spacingAndGlyphs">42</text>
<path d="M580.1,99.6 v3 M580.1,359.5 v-3 M687.8,99.6 v3 M687.8,359.5 v-3 M795.5,99.6 v3 M795.5,359.5 v-3 M553.3,108.5 h3 M825.0,108.5 h-3 M553.3,167.9 h3 M825.0,167.9 h-3 M553.3,227.3 h3 M825.0,227.3 h-3 M553.3,286.7 h3 M825.0,286.7 h-3 M553.3,346.1 h3 M825.0,346.1 h-3" stroke="#000" stroke-width="1.2" fill="none"/>
<path d="M808.6,152.9 V307.0 M803.2,152.9 H814.2 M803.2,307.0 H814.2" stroke="#000" stroke-width="1.3" fill="none"/>
<text x="844.0" y="251.0" font-family="'Liberation Sans'" font-size="20.3" text-anchor="middle" transform="rotate(-90 844.0 251.0)" textLength="62.31" lengthAdjust="spacingAndGlyphs">580 km</text>
<rect x="861.7" y="99.70" width="40.7" height="8.28" fill="rgb(112,0,0)"/>
<rect x="861.7" y="107.58" width="40.7" height="8.28" fill="rgb(133,0,0)"/>
<rect x="861.7" y="115.46" width="40.7" height="8.28" fill="rgb(149,0,0)"/>
<rect x="861.7" y="123.34" width="40.7" height="8.28" fill="rgb(160,28,28)"/>
<rect x="861.7" y="131.22" width="40.7" height="8.28" fill="rgb(170,48,48)"/>
<rect x="861.7" y="139.09" width="40.7" height="8.28" fill="rgb(184,72,72)"/>
<rect x="861.7" y="146.97" width="40.7" height="8.28" fill="rgb(196,96,96)"/>
<rect x="861.7" y="154.85" width="40.7" height="8.28" fill="rgb(208,120,120)"/>
<rect x="861.7" y="162.73" width="40.7" height="8.28" fill="rgb(220,144,144)"/>
<rect x="861.7" y="170.61" width="40.7" height="8.28" fill="rgb(232,160,160)"/>
<rect x="861.7" y="178.49" width="40.7" height="8.28" fill="rgb(245,176,176)"/>
<rect x="861.7" y="186.37" width="40.7" height="8.28" fill="rgb(255,189,189)"/>
<rect x="861.7" y="194.25" width="40.7" height="8.28" fill="rgb(255,202,202)"/>
<rect x="861.7" y="202.12" width="40.7" height="8.28" fill="rgb(255,216,216)"/>
<rect x="861.7" y="210.00" width="40.7" height="8.28" fill="rgb(255,230,230)"/>
<rect x="861.7" y="217.88" width="40.7" height="8.28" fill="rgb(255,243,243)"/>
<rect x="861.7" y="225.76" width="40.7" height="8.28" fill="rgb(255,255,255)"/>
<rect x="861.7" y="233.64" width="40.7" height="8.28" fill="rgb(243,243,255)"/>
<rect x="861.7" y="241.52" width="40.7" height="8.28" fill="rgb(230,230,255)"/>
<rect x="861.7" y="249.40" width="40.7" height="8.28" fill="rgb(216,216,255)"/>
<rect x="861.7" y="257.28" width="40.7" height="8.28" fill="rgb(202,202,255)"/>
<rect x="861.7" y="265.15" width="40.7" height="8.28" fill="rgb(189,189,255)"/>
<rect x="861.7" y="273.03" width="40.7" height="8.28" fill="rgb(176,176,245)"/>
<rect x="861.7" y="280.91" width="40.7" height="8.28" fill="rgb(160,160,232)"/>
<rect x="861.7" y="288.79" width="40.7" height="8.28" fill="rgb(144,144,220)"/>
<rect x="861.7" y="296.67" width="40.7" height="8.28" fill="rgb(120,120,208)"/>
<rect x="861.7" y="304.55" width="40.7" height="8.28" fill="rgb(96,96,196)"/>
<rect x="861.7" y="312.43" width="40.7" height="8.28" fill="rgb(72,72,184)"/>
<rect x="861.7" y="320.31" width="40.7" height="8.28" fill="rgb(48,48,170)"/>
<rect x="861.7" y="328.18" width="40.7" height="8.28" fill="rgb(28,28,160)"/>
<rect x="861.7" y="336.06" width="40.7" height="8.28" fill="rgb(0,0,149)"/>
<rect x="861.7" y="343.94" width="40.7" height="8.28" fill="rgb(0,0,133)"/>
<rect x="861.7" y="351.82" width="40.7" height="8.28" fill="rgb(0,0,112)"/>
<rect x="861.7" y="99.7" width="40.7" height="260" fill="none" stroke="#000" stroke-width="1.3"/>
<text x="909.0" y="108.2" font-family="'Liberation Sans'" font-size="20.3" text-anchor="start"  textLength="10.58" lengthAdjust="spacingAndGlyphs">1</text>
<text x="909.0" y="173.2" font-family="'Liberation Sans'" font-size="20.3" text-anchor="start"  textLength="26.42" lengthAdjust="spacingAndGlyphs">0.9</text>
<text x="909.0" y="238.2" font-family="'Liberation Sans'" font-size="20.3" text-anchor="start"  textLength="26.42" lengthAdjust="spacingAndGlyphs">0.8</text>
<text x="909.0" y="303.2" font-family="'Liberation Sans'" font-size="20.3" text-anchor="start"  textLength="26.42" lengthAdjust="spacingAndGlyphs">0.7</text>
<text x="909.0" y="368.2" font-family="'Liberation Sans'" font-size="20.3" text-anchor="start"  textLength="26.42" lengthAdjust="spacingAndGlyphs">0.6</text>
<path d="M861.7,164.7 h3 M902.4,164.7 h-3 M861.7,229.7 h3 M902.4,229.7 h-3 M861.7,294.7 h3 M902.4,294.7 h-3" stroke="#000" stroke-width="1.2" fill="none"/>
<text x="689.0" y="82.6" font-family="'Liberation Sans'" font-size="20.3" text-anchor="middle"  textLength="166.83" lengthAdjust="spacingAndGlyphs">avg cross-corr coef.</text>
<g stroke="#000" stroke-width="1.25" fill="none" stroke-linejoin="round"><path d="M569.0,428.8 L569.8,433.8 L575.0,437.9 L581.9,446.2 L581.5,448.5 L587.0,453.6 L594.4,456.3 L602.7,461.0 L607.3,465.6 L610.1,472.0 L612.0,477.1 L614.7,478.5 L615.2,483.1 L612.0,486.8 L602.7,485.0 L593.5,479.4 L587.0,477.6 L585.2,475.3 L586.5,472.5 L582.4,475.3 L578.7,472.0 L577.8,468.3 L581.5,467.0 L577.8,465.6 L575.0,467.0 L568.5,468.0 L564.4,465.1 L569.0,463.4 L564.4,458.9 L559.5,458.5 L553.3,454.4"/>
<path d="M553.3,445.7 L557.8,447.4 L553.7,449.4"/>
<path d="M587.5,428.8 L587.9,431.7 L584.2,435.1 L588.9,441.1 L594.4,443.4 L599.0,441.6 L600.0,439.2 L602.3,436.5 L602.7,440.2 L609.2,446.2 L608.3,451.7 L610.1,454.5 L618.0,446.2 L619.8,448.0 L618.4,456.3 L622.1,459.6 L631.4,460.0 L630.4,461.4 L624.9,462.3 L623.0,464.6 L627.7,467.4 L630.4,473.9 L635.0,474.8 L638.7,476.7 L635.0,476.7 L634.1,480.4 L631.8,483.6 L636.6,487.1 L639.0,493.6 L638.2,503.3 L636.6,500.8 L633.4,501.6 L630.1,504.9 L626.1,509.7 L626.1,513.0 L623.7,514.6 L622.4,511.3 L624.5,506.5 L628.5,500.8 L630.9,496.0 L629.7,492.7 L626.1,493.6 L618.8,490.3 L605.9,491.1 L596.2,487.1 L589.7,484.3 L587.3,487.1 L586.5,495.2 L590.5,501.6 L593.7,506.5 L596.5,517.7 L597.1,520.5 L598.9,525.7 L601.2,523.4 L602.9,526.3 L601.2,529.8 L600.6,533.2 L605.2,533.5 L604.9,542.5 L602.9,541.3 L601.2,537.3 L600.6,542.5 L602.3,546.5 L606.9,547.1 L612.1,546.5 L617.3,549.4 L618.5,550.6 L616.2,550.6 L609.2,550.6 L604.6,550.6 L603.5,554.0 L603.2,561.4 L604.7,573.9 L602.4,589.2 L600.6,608.3 L598.9,625.6 L598.9,632.5 L594.6,637.7 L592.0,649.8 L594.6,665.4 L598.0,675.8 L600.6,688.5"/></g>
<g stroke="#9a9a9a" stroke-width="1.1"><path d="M604.3,505.5 L596.8,518.9 L611.8,518.9 Z" fill="#e4e4f8"/>
<path d="M647.6,526.0 L640.1,539.4 L655.1,539.4 Z" fill="#ece4e8"/>
<path d="M647.8,524.3 L640.3,537.7 L655.3,537.7 Z" fill="#ffffff"/>
<path d="M651.6,522.4 L644.1,535.8 L659.1,535.8 Z" fill="#eeeefa"/>
<path d="M648.1,521.3 L640.6,534.7 L655.6,534.7 Z" fill="#ffffff"/>
<path d="M640.6,518.7 L633.1,532.1 L648.1,532.1 Z" fill="#fcecec"/>
<path d="M644.3,518.7 L636.8,532.1 L651.8,532.1 Z" fill="#ececfa"/>
<path d="M637.0,540.2 L629.5,553.6 L644.5,553.6 Z" fill="#f4f4ff"/>
<path d="M639.4,540.2 L631.9,553.6 L646.9,553.6 Z" fill="#dcdcf8"/>
<path d="M654.0,563.7 L646.5,577.1 L661.5,577.1 Z" fill="#ffffff"/>
<path d="M648.0,564.2 L640.5,577.6 L655.5,577.6 Z" fill="#ffffff"/>
<path d="M650.3,567.9 L642.8,581.3 L657.8,581.3 Z" fill="#ffffff"/>
<path d="M616.2,589.1 L608.7,602.5 L623.7,602.5 Z" fill="#d8d8f6"/>
<path d="M644.8,600.2 L637.3,613.6 L652.3,613.6 Z" fill="#ffffff"/>
<path d="M648.0,603.9 L640.5,617.3 L655.5,617.3 Z" fill="#ececfa"/>
<path d="M657.3,612.2 L649.8,625.6 L664.8,625.6 Z" fill="#e0e0f8"/>
<path d="M662.8,615.0 L655.3,628.4 L670.3,628.4 Z" fill="#e8e8fa"/>
<path d="M659.1,617.7 L651.6,631.1 L666.6,631.1 Z" fill="#f0f0ff"/>
<path d="M662.8,618.7 L655.3,632.1 L670.3,632.1 Z" fill="#d0d0f4"/>
<path d="M749.8,480.9 L742.3,494.3 L757.3,494.3 Z" fill="#ffffff"/>
<path d="M745.6,582.3 L738.1,595.7 L753.1,595.7 Z" fill="#ffffff"/>
<path d="M773.7,575.0 L766.2,588.4 L781.2,588.4 Z" fill="#ffffff"/></g>
<rect x="553.3" y="428.6" width="271.7" height="259.9" fill="none" stroke="#000" stroke-width="1.3"/>
<text x="580.1" y="716.5" font-family="'Liberation Sans'" font-size="20.3" text-anchor="middle"  textLength="31.70" lengthAdjust="spacingAndGlyphs">235</text>
<text x="687.8" y="716.5" font-family="'Liberation Sans'" font-size="20.3" text-anchor="middle"  textLength="31.70" lengthAdjust="spacingAndGlyphs">240</text>
<text x="795.5" y="716.5" font-family="'Liberation Sans'" font-size="20.3" text-anchor="middle"  textLength="31.70" lengthAdjust="spacingAndGlyphs">245</text>
<text x="545.0" y="445.3" font-family="'Liberation Sans'" font-size="20.3" text-anchor="end"  textLength="21.14" lengthAdjust="spacingAndGlyphs">50</text>
<text x="545.0" y="504.7" font-family="'Liberation Sans'" font-size="20.3" text-anchor="end"  textLength="21.14" lengthAdjust="spacingAndGlyphs">48</text>
<text x="545.0" y="564.1" font-family="'Liberation Sans'" font-size="20.3" text-anchor="end"  textLength="21.14" lengthAdjust="spacingAndGlyphs">46</text>
<text x="545.0" y="623.5" font-family="'Liberation Sans'" font-size="20.3" text-anchor="end"  textLength="21.14" lengthAdjust="spacingAndGlyphs">44</text>
<text x="545.0" y="682.9" font-family="'Liberation Sans'" font-size="20.3" text-anchor="end"  textLength="21.14" lengthAdjust="spacingAndGlyphs">42</text>
<path d="M580.1,428.6 v3 M580.1,688.5 v-3 M687.8,428.6 v3 M687.8,688.5 v-3 M795.5,428.6 v3 M795.5,688.5 v-3 M553.3,437.5 h3 M825.0,437.5 h-3 M553.3,496.9 h3 M825.0,496.9 h-3 M553.3,556.3 h3 M825.0,556.3 h-3 M553.3,615.7 h3 M825.0,615.7 h-3 M553.3,675.1 h3 M825.0,675.1 h-3" stroke="#000" stroke-width="1.2" fill="none"/>
<path d="M808.6,481.9 V636.0 M803.2,481.9 H814.2 M803.2,636.0 H814.2" stroke="#000" stroke-width="1.3" fill="none"/>
<text x="844.0" y="580.0" font-family="'Liberation Sans'" font-size="20.3" text-anchor="middle" transform="rotate(-90 844.0 580.0)" textLength="62.31" lengthAdjust="spacingAndGlyphs">580 km</text>
<rect x="861.7" y="428.70" width="40.7" height="8.28" fill="rgb(112,0,0)"/>
<rect x="861.7" y="436.58" width="40.7" height="8.28" fill="rgb(133,0,0)"/>
<rect x="861.7" y="444.46" width="40.7" height="8.28" fill="rgb(149,0,0)"/>
<rect x="861.7" y="452.34" width="40.7" height="8.28" fill="rgb(160,28,28)"/>
<rect x="861.7" y="460.22" width="40.7" height="8.28" fill="rgb(170,48,48)"/>
<rect x="861.7" y="468.09" width="40.7" height="8.28" fill="rgb(184,72,72)"/>
<rect x="861.7" y="475.97" width="40.7" height="8.28" fill="rgb(196,96,96)"/>
<rect x="861.7" y="483.85" width="40.7" height="8.28" fill="rgb(208,120,120)"/>
<rect x="861.7" y="491.73" width="40.7" height="8.28" fill="rgb(220,144,144)"/>
<rect x="861.7" y="499.61" width="40.7" height="8.28" fill="rgb(232,160,160)"/>
<rect x="861.7" y="507.49" width="40.7" height="8.28" fill="rgb(245,176,176)"/>
<rect x="861.7" y="515.37" width="40.7" height="8.28" fill="rgb(255,189,189)"/>
<rect x="861.7" y="523.25" width="40.7" height="8.28" fill="rgb(255,202,202)"/>
<rect x="861.7" y="531.12" width="40.7" height="8.28" fill="rgb(255,216,216)"/>
<rect x="861.7" y="539.00" width="40.7" height="8.28" fill="rgb(255,230,230)"/>
<rect x="861.7" y="546.88" width="40.7" height="8.28" fill="rgb(255,243,243)"/>
<rect x="861.7" y="554.76" width="40.7" height="8.28" fill="rgb(255,255,255)"/>
<rect x="861.7" y="562.64" width="40.7" height="8.28" fill="rgb(243,243,255)"/>
<rect x="861.7" y="570.52" width="40.7" height="8.28" fill="rgb(230,230,255)"/>
<rect x="861.7" y="578.40" width="40.7" height="8.28" fill="rgb(216,216,255)"/>
<rect x="861.7" y="586.28" width="40.7" height="8.28" fill="rgb(202,202,255)"/>
<rect x="861.7" y="594.15" width="40.7" height="8.28" fill="rgb(189,189,255)"/>
<rect x="861.7" y="602.03" width="40.7" height="8.28" fill="rgb(176,176,245)"/>
<rect x="861.7" y="609.91" width="40.7" height="8.28" fill="rgb(160,160,232)"/>
<rect x="861.7" y="617.79" width="40.7" height="8.28" fill="rgb(144,144,220)"/>
<rect x="861.7" y="625.67" width="40.7" height="8.28" fill="rgb(120,120,208)"/>
<rect x="861.7" y="633.55" width="40.7" height="8.28" fill="rgb(96,96,196)"/>
<rect x="861.7" y="641.43" width="40.7" height="8.28" fill="rgb(72,72,184)"/>
<rect x="861.7" y="649.31" width="40.7" height="8.28" fill="rgb(48,48,170)"/>
<rect x="861.7" y="657.18" width="40.7" height="8.28" fill="rgb(28,28,160)"/>
<rect x="861.7" y="665.06" width="40.7" height="8.28" fill="rgb(0,0,149)"/>
<rect x="861.7" y="672.94" width="40.7" height="8.28" fill="rgb(0,0,133)"/>
<rect x="861.7" y="680.82" width="40.7" height="8.28" fill="rgb(0,0,112)"/>
<rect x="861.7" y="428.7" width="40.7" height="260" fill="none" stroke="#000" stroke-width="1.3"/>
<text x="909.0" y="437.2" font-family="'Liberation Sans'" font-size="20.3" text-anchor="start"  textLength="21.67" lengthAdjust="spacingAndGlyphs">&gt;3</text>
<text x="909.0" y="480.5" font-family="'Liberation Sans'" font-size="20.3" text-anchor="start"  textLength="10.58" lengthAdjust="spacingAndGlyphs">2</text>
<text x="909.0" y="523.9" font-family="'Liberation Sans'" font-size="20.3" text-anchor="start"  textLength="10.58" lengthAdjust="spacingAndGlyphs">1</text>
<text x="909.0" y="567.2" font-family="'Liberation Sans'" font-size="20.3" text-anchor="start"  textLength="10.58" lengthAdjust="spacingAndGlyphs">0</text>
<text x="909.0" y="610.5" font-family="'Liberation Sans'" font-size="20.3" text-anchor="start"  textLength="16.91" lengthAdjust="spacingAndGlyphs">-1</text>
<text x="909.0" y="653.9" font-family="'Liberation Sans'" font-size="20.3" text-anchor="start"  textLength="16.91" lengthAdjust="spacingAndGlyphs">-2</text>
<text x="909.0" y="697.2" font-family="'Liberation Sans'" font-size="20.3" text-anchor="start"  textLength="28.00" lengthAdjust="spacingAndGlyphs">&lt;-3</text>
<path d="M861.7,472.0 h3 M902.4,472.0 h-3 M861.7,515.4 h3 M902.4,515.4 h-3 M861.7,558.7 h3 M902.4,558.7 h-3 M861.7,602.0 h3 M902.4,602.0 h-3 M861.7,645.4 h3 M902.4,645.4 h-3" stroke="#000" stroke-width="1.2" fill="none"/>
<text x="689.0" y="411.6" font-family="'Liberation Sans'" font-size="20.3" text-anchor="middle"  textLength="99.27" lengthAdjust="spacingAndGlyphs">avg dt (sec)</text>
<text x="539.0" y="780.2" font-family="'Liberation Sans'" font-size="20.3" text-anchor="start"  textLength="108.78" lengthAdjust="spacingAndGlyphs">Backazimuth</text>
<text x="539.0" y="806.4" font-family="'Liberation Sans'" font-size="20.3" text-anchor="start"  textLength="120.44" lengthAdjust="spacingAndGlyphs">to quake:  271</text>
<path d="M738.5,769.2 L795.7,771" stroke="#000" stroke-width="1.3"/>
<path d="M804.3,759.3 L793.2,778.4 L815.8,778.4 Z" fill="#ff0000"/>
<path d="M802.7,851.4 L805.6,851.4 M802.1,854.3 L804.8,855.4 M800.5,856.8 L802.5,858.8 M798.0,858.4 L799.1,861.1 M795.1,859.0 L795.1,861.9 M792.2,858.4 L791.1,861.1 M789.7,856.8 L787.7,858.8 M788.1,854.3 L785.4,855.4 M787.5,851.4 L784.6,851.4 M788.1,848.5 L785.4,847.4 M789.7,846.0 L787.7,844.0 M792.2,844.4 L791.1,841.7 M795.1,843.8 L795.1,840.9 M798.0,844.4 L799.1,841.7 M800.5,846.0 L802.5,844.0 M802.1,848.5 L804.8,847.4" stroke="#dcbc58" stroke-width="1.5" fill="none"/>
<circle cx="795.1" cy="851.4" r="8.2" fill="#f4ead0"/>
<circle cx="795.1" cy="851.4" r="7.2" fill="#3478c8"/>
<path d="M790.5,849 L792,854 M793,851 L796,850 L795,854 M797.5,849 L798,854 M799,850 L800,852" stroke="#d8e6f6" stroke-width="0.9" fill="none"/>
<circle cx="812.1" cy="851.1" r="4.6" fill="#1a5cb0"/>
<path d="M807.5,853 L816.8,848" stroke="#e04040" stroke-width="0.8"/>
<path d="M809,851.5 h5" stroke="#ffffff" stroke-width="0.6"/>
<rect x="818.6" y="847.7" width="16.4" height="7.1" fill="#202020"/>
<path d="M819.5,850 h14.5 M819.5,852.5 h14.5" stroke="#c8c8c8" stroke-width="0.9" stroke-dasharray="2 1"/>
<path d="M835.6,840.3 V862.5" stroke="#9a9a9a" stroke-width="1.1"/>
<text x="838" y="848.6" font-family="'Liberation Sans'" font-size="9" fill="#c83c50" textLength="22" lengthAdjust="spacingAndGlyphs">GAGE</text>
<text x="838.5" y="858.2" font-family="'Liberation Sans'" font-size="9" fill="#5a3c9a" textLength="21.2" lengthAdjust="spacingAndGlyphs">SAGE</text>
<circle cx="874.9" cy="845.7" r="6.3" fill="#f0e4ec"/>
<path d="M872,843 a3.5,3.5 0 1,1 5,5" stroke="#c04060" stroke-width="1.4" fill="none"/>
<path d="M871,846 a3,3 0 0,0 4,3" stroke="#5050b0" stroke-width="1.2" fill="none"/>
<text x="880.8" y="855.2" font-family="'Liberation Sans'" font-size="7" font-weight="bold" fill="#2a2a2a" textLength="34" lengthAdjust="spacingAndGlyphs">EarthScope</text>
<text x="880.8" y="860.2" font-family="'Liberation Sans'" font-size="5.5" fill="#b8b8b8" textLength="26" lengthAdjust="spacingAndGlyphs">Consortium</text>
<path d="M862.3,858.3 h16" stroke="#555" stroke-width="1.2" stroke-dasharray="3 1 2 1"/>
</svg></body></html>
